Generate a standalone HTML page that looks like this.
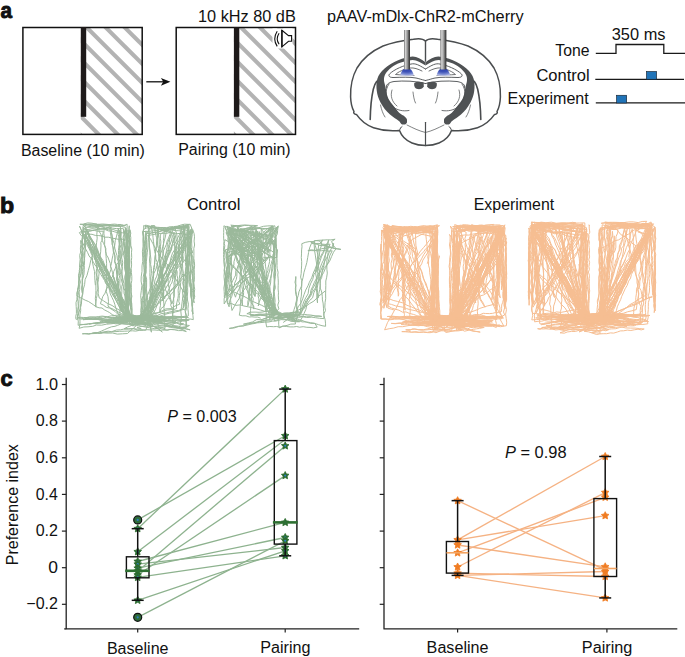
<!DOCTYPE html>
<html><head><meta charset="utf-8"><style>
html,body{margin:0;padding:0;background:#fff;}
body{width:685px;height:657px;overflow:hidden;}
svg{display:block;font-family:"Liberation Sans", sans-serif;}
text{fill:#111;}
</style></head><body>
<svg width="685" height="657" viewBox="0 0 685 657">
<clipPath id="c1"><rect x="80.8" y="27.5" width="61.39999999999999" height="106.9"/></clipPath>
<g clip-path="url(#c1)" stroke="#b3b3b3" stroke-width="4.1"><line x1="-73.7" y1="0" x2="126.3" y2="200"/><line x1="-54.7" y1="0" x2="145.3" y2="200"/><line x1="-35.7" y1="0" x2="164.3" y2="200"/><line x1="-16.7" y1="0" x2="183.3" y2="200"/><line x1="2.3" y1="0" x2="202.3" y2="200"/><line x1="21.3" y1="0" x2="221.3" y2="200"/><line x1="40.3" y1="0" x2="240.3" y2="200"/><line x1="59.3" y1="0" x2="259.3" y2="200"/><line x1="78.3" y1="0" x2="278.3" y2="200"/><line x1="97.3" y1="0" x2="297.3" y2="200"/><line x1="116.3" y1="0" x2="316.3" y2="200"/><line x1="135.3" y1="0" x2="335.3" y2="200"/><line x1="154.3" y1="0" x2="354.3" y2="200"/></g>
<rect x="22.9" y="27.5" width="119.29999999999998" height="106.9" fill="none" stroke="#111" stroke-width="1.5"/>
<rect x="80.8" y="27.0" width="5.4" height="89.8" fill="#1e1a1a"/>
<clipPath id="c2"><rect x="233.9" y="27.5" width="61.599999999999994" height="106.9"/></clipPath>
<g clip-path="url(#c2)" stroke="#b3b3b3" stroke-width="4.1"><line x1="80.60000000000001" y1="0" x2="280.6" y2="200"/><line x1="99.60000000000001" y1="0" x2="299.6" y2="200"/><line x1="118.60000000000001" y1="0" x2="318.6" y2="200"/><line x1="137.60000000000002" y1="0" x2="337.6" y2="200"/><line x1="156.60000000000002" y1="0" x2="356.6" y2="200"/><line x1="175.60000000000002" y1="0" x2="375.6" y2="200"/><line x1="194.60000000000002" y1="0" x2="394.6" y2="200"/><line x1="213.60000000000002" y1="0" x2="413.6" y2="200"/><line x1="232.60000000000002" y1="0" x2="432.6" y2="200"/><line x1="251.60000000000002" y1="0" x2="451.6" y2="200"/><line x1="270.6" y1="0" x2="470.6" y2="200"/><line x1="289.6" y1="0" x2="489.6" y2="200"/><line x1="308.6" y1="0" x2="508.6" y2="200"/></g>
<rect x="176.2" y="27.5" width="119.30000000000001" height="106.9" fill="none" stroke="#111" stroke-width="1.5"/>
<rect x="233.9" y="27.0" width="5.4" height="89.8" fill="#1e1a1a"/>
<line x1="146.3" y1="81.8" x2="164" y2="81.8" stroke="#111" stroke-width="1.3"/>
<path d="M170.4 81.8 L160.9 77.9 L163.2 81.8 L160.9 85.7 Z" fill="#111"/>
<rect x="272.5" y="28.5" width="20" height="20" fill="#fff"/>
<path d="M281.9 30.3 L288.5 35.6 L291.6 35.6 L291.6 41.3 L288.5 41.3 L281.9 46.9 Z" fill="#fff" stroke="#111" stroke-width="1.1" stroke-linejoin="miter"/>
<line x1="281.9" y1="30" x2="281.9" y2="47.3" stroke="#111" stroke-width="1.4"/>
<path d="M277.2 31.2 Q272.3 38.8 277.2 46.4" fill="none" stroke="#111" stroke-width="1.1"/>
<path d="M279.1 33.3 Q275.4 38.8 279.1 44.3" fill="none" stroke="#111" stroke-width="1.1"/>
<g id="bh" fill="none" stroke="#4a4d4f" stroke-linecap="round" stroke-linejoin="round"><path stroke-width="1.5" d="M425.5 41 C423 38.5 418 38.3 413.4 39.2 C402 40.5 392 42.5 383 46 C373 50.5 363 58 357 68 C352 77 350.3 87 350.6 97 C350.8 103 352 108 354 111.5 C353 113 354.5 114.5 356.4 114.4 C361 121 367 125.5 373.5 127.7 C382 130.5 390 131.5 399.5 130.5 C401.5 136 406 140.5 412 143 C416 144.7 421 145.5 425.5 145.6"/><path stroke-width="1.2" d="M425.5 41 L425.5 61"/><path fill="#4f5254" stroke="none" d="M425.5 62.3 C421 58.8 417 56.3 412.5 56.4 C404 57 392 61.5 384.3 68.8 C381 71.8 378.5 75 377.3 79 C376.3 83 376.2 87 376.8 91 C377.3 95 378.5 98.4 380.5 102.5 C383 107 386 111 390 114.6 C393 117 396 119 399.5 121.5 C401.5 124.5 406.5 125 407 121.5 C407.3 118.5 405 116.3 401.5 114.6 C398 112 396 109 394 106.4 C391.5 103 389.5 101 388.3 98.4 C387 95.5 386.5 93 386.3 91 C385.8 88 385 85 384.2 82 C383.8 80 383.9 77.8 384.6 75.8 C386.5 71.3 391.5 66.8 398 63.6 C403 61.4 408 60.2 412.5 59.9 C417 60.3 421 62.5 425.5 65.6 Z"/><circle cx="403.6" cy="121.2" r="3.4" fill="#4f5254" stroke="none"/><path stroke-width="1.6" d="M370.2 119.5 C370.4 110 370.8 100 373.3 89.2 C374 86 375.5 83 376.8 81.3"/><path stroke-width="0.7" d="M380.5 105 C381.5 110 383 114 385 117"/><path stroke-width="0.9" d="M425.5 69 C421 66.5 417 63.5 412.5 63.8 C404 65 394 69.5 389.5 74 C388 76 389.5 77.5 393 77.5 C401 77.3 410 76.8 416 78 C419 78.6 421 79.5 425.5 80.5"/><path stroke-width="0.8" d="M422 71 C418 69 414 67.5 410 68 C404 69 398 72 395.5 74.5 C400 75 408 74.8 414 75.5"/><path stroke-width="0.9" d="M425.5 83.5 C416 81 404 80.5 394 81.5 C388 82.5 385.5 85 386.5 88"/><path stroke-width="0.8" d="M389 84 C384.5 90 385 99 392 106 C397 110.5 403 111.5 409 110.5"/><path stroke-width="0.7" d="M392 90 C390 96 392 102 397 106"/><path stroke-width="0.7" d="M413 92 C413.5 96 414 100 415.5 103"/><path stroke-width="1.1" d="M425.5 122.5 L425.5 145"/><path stroke-width="1.0" d="M399.5 130.5 C400 128.5 401 127 402 126.5"/><path stroke-width="0.7" d="M407 125 C413 128 419 131 425.5 132.5"/><path fill="#4f5254" stroke="none" d="M414.2 83.2 C416 81.8 420.5 81.3 423.6 82.6 L423.8 86.3 C423.2 88.6 420.3 89.4 417.6 89.1 C415 88.7 413.8 86.3 414.2 83.2 Z"/></g>
<use href="#bh" transform="translate(851,0) scale(-1,1)"/>
<defs><linearGradient id="fg" x1="0" x2="1" y1="0" y2="0"><stop offset="0" stop-color="#6a6a6a"/><stop offset="0.22" stop-color="#d6d6d6"/><stop offset="0.55" stop-color="#9a9a9a"/><stop offset="0.85" stop-color="#4a4a4a"/><stop offset="1" stop-color="#363636"/></linearGradient><radialGradient id="bg" cx="0.5" cy="0" r="1.0" fx="0.5" fy="0"><stop offset="0" stop-color="#2a3eab"/><stop offset="0.45" stop-color="#3f53b8"/><stop offset="0.8" stop-color="#7f8fd4"/><stop offset="1" stop-color="#c5cbee"/></radialGradient></defs>
<path d="M404 68.8 L410 68.8 C412 70.3 413.3 72.8 413.8 75.4 C410 76 404 76 400.2 75.4 C400.7 72.8 402 70.3 404 68.8 Z" fill="url(#bg)"/>
<rect x="404" y="30" width="6" height="39.5" fill="url(#fg)"/>
<path d="M440.4 68.8 L446.4 68.8 C448.4 70.3 449.7 72.8 450.2 75.4 C446.4 76 440.4 76 436.59999999999997 75.4 C437.09999999999997 72.8 438.4 70.3 440.4 68.8 Z" fill="url(#bg)"/>
<rect x="440.4" y="30" width="6" height="39.5" fill="url(#fg)"/>
<path d="M595.8 53.4 L616 53.4 L616 44.5 L663.8 44.5 L663.8 53.4 L685 53.4" fill="none" stroke="#1a1a1a" stroke-width="1.3"/>
<line x1="595.3" y1="79.3" x2="684" y2="79.3" stroke="#1a1a1a" stroke-width="1.3"/>
<line x1="595.8" y1="102.9" x2="685" y2="102.9" stroke="#1a1a1a" stroke-width="1.3"/>
<rect x="646.5" y="71.6" width="10" height="7.7" fill="#2174b8" stroke="#1a2a3a" stroke-width="0.7"/>
<rect x="616.6" y="95.3" width="10" height="7.7" fill="#2174b8" stroke="#1a2a3a" stroke-width="0.7"/>
<path d="M66.2 377.8 L66.2 628.9 L359.2 628.9" fill="none" stroke="#222" stroke-width="1.3" stroke-linejoin="round"/>
<path d="M64.2 628.9 L66.2 628.9" fill="none" stroke="#222" stroke-width="1.3"/>
<line x1="61.900000000000006" y1="604.3" x2="66.2" y2="604.3" stroke="#222" stroke-width="1.2"/>
<line x1="61.900000000000006" y1="567.7" x2="66.2" y2="567.7" stroke="#222" stroke-width="1.2"/>
<line x1="61.900000000000006" y1="531.1" x2="66.2" y2="531.1" stroke="#222" stroke-width="1.2"/>
<line x1="61.900000000000006" y1="494.4" x2="66.2" y2="494.4" stroke="#222" stroke-width="1.2"/>
<line x1="61.900000000000006" y1="457.8" x2="66.2" y2="457.8" stroke="#222" stroke-width="1.2"/>
<line x1="61.900000000000006" y1="421.1" x2="66.2" y2="421.1" stroke="#222" stroke-width="1.2"/>
<line x1="61.900000000000006" y1="384.5" x2="66.2" y2="384.5" stroke="#222" stroke-width="1.2"/>
<line x1="359.1" y1="0" x2="359.1" y2="0"/>
<line x1="137.7" y1="519.9" x2="285.2" y2="435.8" stroke="#8db28e" stroke-width="1.3"/>
<line x1="137.7" y1="528.7" x2="285.2" y2="389.1" stroke="#8db28e" stroke-width="1.3"/>
<line x1="137.7" y1="551.8" x2="285.2" y2="439.5" stroke="#8db28e" stroke-width="1.3"/>
<line x1="137.7" y1="561.5" x2="285.2" y2="522.4" stroke="#8db28e" stroke-width="1.3"/>
<line x1="137.7" y1="564.2" x2="285.2" y2="547.5" stroke="#8db28e" stroke-width="1.3"/>
<line x1="137.7" y1="568.2" x2="285.2" y2="537.5" stroke="#8db28e" stroke-width="1.3"/>
<line x1="137.7" y1="571.2" x2="285.2" y2="445.9" stroke="#8db28e" stroke-width="1.3"/>
<line x1="137.7" y1="575.0" x2="285.2" y2="475.6" stroke="#8db28e" stroke-width="1.3"/>
<line x1="137.7" y1="577.4" x2="285.2" y2="555.8" stroke="#8db28e" stroke-width="1.3"/>
<line x1="137.7" y1="600.3" x2="285.2" y2="550.8" stroke="#8db28e" stroke-width="1.3"/>
<line x1="137.7" y1="617.3" x2="285.2" y2="540.8" stroke="#8db28e" stroke-width="1.3"/>
<polygon points="137.70,524.68 138.88,527.06 141.50,527.44 139.60,529.30 140.05,531.91 137.70,530.68 135.35,531.91 135.80,529.30 133.90,527.44 136.52,527.06" fill="#2b6b2d" stroke="#2b6b2d" stroke-width="0.8" stroke-linejoin="round"/><circle cx="137.7" cy="528.6784" r="1.1" fill="#2d7fc0"/>
<polygon points="137.70,547.76 138.88,550.14 141.50,550.53 139.60,552.38 140.05,555.00 137.70,553.76 135.35,555.00 135.80,552.38 133.90,550.53 136.52,550.14" fill="#2b6b2d" stroke="#2b6b2d" stroke-width="0.8" stroke-linejoin="round"/><circle cx="137.7" cy="551.7616" r="1.1" fill="#2d7fc0"/>
<polygon points="137.70,557.47 138.88,559.85 141.50,560.24 139.60,562.09 140.05,564.71 137.70,563.47 135.35,564.71 135.80,562.09 133.90,560.24 136.52,559.85" fill="#2b6b2d" stroke="#2b6b2d" stroke-width="0.8" stroke-linejoin="round"/><circle cx="137.7" cy="561.4712000000001" r="1.1" fill="#2d7fc0"/>
<polygon points="137.70,560.22 138.88,562.60 141.50,562.98 139.60,564.84 140.05,567.46 137.70,566.22 135.35,567.46 135.80,564.84 133.90,562.98 136.52,562.60" fill="#2b6b2d" stroke="#2b6b2d" stroke-width="0.8" stroke-linejoin="round"/><circle cx="137.7" cy="564.2192" r="1.1" fill="#2d7fc0"/>
<polygon points="137.70,564.25 138.88,566.63 141.50,567.01 139.60,568.87 140.05,571.49 137.70,570.25 135.35,571.49 135.80,568.87 133.90,567.01 136.52,566.63" fill="#2b6b2d" stroke="#2b6b2d" stroke-width="0.8" stroke-linejoin="round"/><circle cx="137.7" cy="568.2496000000001" r="1.1" fill="#2d7fc0"/>
<polygon points="137.70,567.18 138.88,569.56 141.50,569.94 139.60,571.80 140.05,574.42 137.70,573.18 135.35,574.42 135.80,571.80 133.90,569.94 136.52,569.56" fill="#2b6b2d" stroke="#2b6b2d" stroke-width="0.8" stroke-linejoin="round"/><circle cx="137.7" cy="571.1808000000001" r="1.1" fill="#2d7fc0"/>
<polygon points="137.70,571.03 138.88,573.41 141.50,573.79 139.60,575.65 140.05,578.26 137.70,577.03 135.35,578.26 135.80,575.65 133.90,573.79 136.52,573.41" fill="#2b6b2d" stroke="#2b6b2d" stroke-width="0.8" stroke-linejoin="round"/><circle cx="137.7" cy="575.028" r="1.1" fill="#2d7fc0"/>
<polygon points="137.70,573.41 138.88,575.79 141.50,576.17 139.60,578.03 140.05,580.65 137.70,579.41 135.35,580.65 135.80,578.03 133.90,576.17 136.52,575.79" fill="#2b6b2d" stroke="#2b6b2d" stroke-width="0.8" stroke-linejoin="round"/><circle cx="137.7" cy="577.4096000000001" r="1.1" fill="#2d7fc0"/>
<polygon points="137.70,596.31 138.88,598.69 141.50,599.07 139.60,600.93 140.05,603.55 137.70,602.31 135.35,603.55 135.80,600.93 133.90,599.07 136.52,598.69" fill="#2b6b2d" stroke="#2b6b2d" stroke-width="0.8" stroke-linejoin="round"/><circle cx="137.7" cy="600.3096" r="1.1" fill="#2d7fc0"/>
<polygon points="285.20,385.08 286.38,387.46 289.00,387.84 287.10,389.70 287.55,392.32 285.20,391.08 282.85,392.32 283.30,389.70 281.40,387.84 284.02,387.46" fill="#2b6b2d" stroke="#2b6b2d" stroke-width="0.8" stroke-linejoin="round"/><circle cx="285.2" cy="389.08000000000004" r="1.1" fill="#2d7fc0"/>
<polygon points="285.20,431.80 286.38,434.18 289.00,434.56 287.10,436.41 287.55,439.03 285.20,437.80 282.85,439.03 283.30,436.41 281.40,434.56 284.02,434.18" fill="#2b6b2d" stroke="#2b6b2d" stroke-width="0.8" stroke-linejoin="round"/><circle cx="285.2" cy="435.79600000000005" r="1.1" fill="#2d7fc0"/>
<polygon points="285.20,441.87 286.38,444.25 289.00,444.64 287.10,446.49 287.55,449.11 285.20,447.87 282.85,449.11 283.30,446.49 281.40,444.64 284.02,444.25" fill="#2b6b2d" stroke="#2b6b2d" stroke-width="0.8" stroke-linejoin="round"/><circle cx="285.2" cy="445.87200000000007" r="1.1" fill="#2d7fc0"/>
<polygon points="285.20,471.55 286.38,473.93 289.00,474.31 287.10,476.17 287.55,478.79 285.20,477.55 282.85,478.79 283.30,476.17 281.40,474.31 284.02,473.93" fill="#2b6b2d" stroke="#2b6b2d" stroke-width="0.8" stroke-linejoin="round"/><circle cx="285.2" cy="475.5504000000001" r="1.1" fill="#2d7fc0"/>
<polygon points="285.20,518.45 286.38,520.83 289.00,521.21 287.10,523.07 287.55,525.69 285.20,524.45 282.85,525.69 283.30,523.07 281.40,521.21 284.02,520.83" fill="#2b6b2d" stroke="#2b6b2d" stroke-width="0.8" stroke-linejoin="round"/><circle cx="285.2" cy="522.4496" r="1.1" fill="#2d7fc0"/>
<polygon points="285.20,533.47 286.38,535.85 289.00,536.24 287.10,538.09 287.55,540.71 285.20,539.47 282.85,540.71 283.30,538.09 281.40,536.24 284.02,535.85" fill="#2b6b2d" stroke="#2b6b2d" stroke-width="0.8" stroke-linejoin="round"/><circle cx="285.2" cy="537.4720000000001" r="1.1" fill="#2d7fc0"/>
<polygon points="285.20,536.77 286.38,539.15 289.00,539.53 287.10,541.39 287.55,544.01 285.20,542.77 282.85,544.01 283.30,541.39 281.40,539.53 284.02,539.15" fill="#2b6b2d" stroke="#2b6b2d" stroke-width="0.8" stroke-linejoin="round"/><circle cx="285.2" cy="540.7696000000001" r="1.1" fill="#2d7fc0"/>
<polygon points="285.20,543.55 286.38,545.93 289.00,546.31 287.10,548.17 287.55,550.78 285.20,549.55 282.85,550.78 283.30,548.17 281.40,546.31 284.02,545.93" fill="#2b6b2d" stroke="#2b6b2d" stroke-width="0.8" stroke-linejoin="round"/><circle cx="285.2" cy="547.548" r="1.1" fill="#2d7fc0"/>
<polygon points="285.20,546.85 286.38,549.23 289.00,549.61 287.10,551.46 287.55,554.08 285.20,552.85 282.85,554.08 283.30,551.46 281.40,549.61 284.02,549.23" fill="#2b6b2d" stroke="#2b6b2d" stroke-width="0.8" stroke-linejoin="round"/><circle cx="285.2" cy="550.8456000000001" r="1.1" fill="#2d7fc0"/>
<polygon points="285.20,551.79 286.38,554.17 289.00,554.56 287.10,556.41 287.55,559.03 285.20,557.79 282.85,559.03 283.30,556.41 281.40,554.56 284.02,554.17" fill="#2b6b2d" stroke="#2b6b2d" stroke-width="0.8" stroke-linejoin="round"/><circle cx="285.2" cy="555.792" r="1.1" fill="#2d7fc0"/>
<circle cx="137.7" cy="519.9" r="4" fill="#2e6b3a" stroke="#111" stroke-width="1.2"/><circle cx="137.7" cy="519.9" r="1.1" fill="#2d7fc0"/>
<circle cx="137.7" cy="617.3" r="4" fill="#2e6b3a" stroke="#111" stroke-width="1.2"/><circle cx="137.7" cy="617.3" r="1.1" fill="#2d7fc0"/>
<line x1="137.7" y1="528.6784" x2="137.7" y2="556.8" stroke="#111" stroke-width="1.5"/>
<line x1="137.7" y1="577.8" x2="137.7" y2="600.3096" stroke="#111" stroke-width="1.5"/>
<line x1="131.7" y1="528.6784" x2="143.7" y2="528.6784" stroke="#111" stroke-width="1.5"/>
<line x1="131.7" y1="600.3096" x2="143.7" y2="600.3096" stroke="#111" stroke-width="1.5"/>
<rect x="126.4" y="556.8" width="22.6" height="21" fill="none" stroke="#111" stroke-width="1.4"/>
<line x1="285.2" y1="389.08000000000004" x2="285.2" y2="440.6" stroke="#111" stroke-width="1.5"/>
<line x1="285.2" y1="544.1" x2="285.2" y2="555.792" stroke="#111" stroke-width="1.5"/>
<line x1="279.2" y1="389.08000000000004" x2="291.2" y2="389.08000000000004" stroke="#111" stroke-width="1.5"/>
<line x1="279.2" y1="555.792" x2="291.2" y2="555.792" stroke="#111" stroke-width="1.5"/>
<rect x="274.3" y="440.6" width="22.6" height="103.5" fill="none" stroke="#111" stroke-width="1.4"/>
<line x1="125.2" y1="570.8" x2="149.6" y2="570.8" stroke="#2e7032" stroke-width="2.6"/>
<line x1="272.9" y1="522.4" x2="297.7" y2="522.4" stroke="#2e7032" stroke-width="2.6"/>
<line x1="137.7" y1="628.9" x2="137.7" y2="632.5" stroke="#222" stroke-width="1.2"/>
<line x1="285.2" y1="628.9" x2="285.2" y2="632.5" stroke="#222" stroke-width="1.2"/>
<path d="M384.0 377.8 L384.0 628.9 L677.3 628.9" fill="none" stroke="#222" stroke-width="1.3" stroke-linejoin="round"/>
<line x1="379.7" y1="604.3" x2="384.0" y2="604.3" stroke="#222" stroke-width="1.2"/>
<line x1="379.7" y1="567.7" x2="384.0" y2="567.7" stroke="#222" stroke-width="1.2"/>
<line x1="379.7" y1="531.1" x2="384.0" y2="531.1" stroke="#222" stroke-width="1.2"/>
<line x1="379.7" y1="494.4" x2="384.0" y2="494.4" stroke="#222" stroke-width="1.2"/>
<line x1="379.7" y1="457.8" x2="384.0" y2="457.8" stroke="#222" stroke-width="1.2"/>
<line x1="379.7" y1="421.1" x2="384.0" y2="421.1" stroke="#222" stroke-width="1.2"/>
<line x1="379.7" y1="384.5" x2="384.0" y2="384.5" stroke="#222" stroke-width="1.2"/>
<line x1="457.6" y1="500.6" x2="605.2" y2="569.9" stroke="#f5b283" stroke-width="1.35"/>
<line x1="457.6" y1="539.9" x2="605.2" y2="456.5" stroke="#f5b283" stroke-width="1.35"/>
<line x1="457.6" y1="539.9" x2="605.2" y2="515.7" stroke="#f5b283" stroke-width="1.35"/>
<line x1="457.6" y1="545.0" x2="605.2" y2="566.8" stroke="#f5b283" stroke-width="1.35"/>
<line x1="457.6" y1="552.9" x2="605.2" y2="497.4" stroke="#f5b283" stroke-width="1.35"/>
<line x1="457.6" y1="567.0" x2="605.2" y2="492.6" stroke="#f5b283" stroke-width="1.35"/>
<line x1="457.6" y1="573.2" x2="605.2" y2="576.5" stroke="#f5b283" stroke-width="1.35"/>
<line x1="457.6" y1="575.4" x2="605.2" y2="571.5" stroke="#f5b283" stroke-width="1.35"/>
<line x1="457.6" y1="575.4" x2="605.2" y2="597.9" stroke="#f5b283" stroke-width="1.35"/>
<polygon points="457.60,496.65 458.78,499.03 461.40,499.41 459.50,501.27 459.95,503.88 457.60,502.65 455.25,503.88 455.70,501.27 453.80,499.41 456.42,499.03" fill="#f07c22" stroke="#f07c22" stroke-width="0.8" stroke-linejoin="round"/>
<polygon points="457.60,535.85 458.78,538.24 461.40,538.62 459.50,540.47 459.95,543.09 457.60,541.85 455.25,543.09 455.70,540.47 453.80,538.62 456.42,538.24" fill="#f07c22" stroke="#f07c22" stroke-width="0.8" stroke-linejoin="round"/>
<polygon points="457.60,540.98 458.78,543.37 461.40,543.75 459.50,545.60 459.95,548.22 457.60,546.98 455.25,548.22 455.70,545.60 453.80,543.75 456.42,543.37" fill="#f07c22" stroke="#f07c22" stroke-width="0.8" stroke-linejoin="round"/>
<polygon points="457.60,548.86 458.78,551.24 461.40,551.62 459.50,553.48 459.95,556.10 457.60,554.86 455.25,556.10 455.70,553.48 453.80,551.62 456.42,551.24" fill="#f07c22" stroke="#f07c22" stroke-width="0.8" stroke-linejoin="round"/>
<polygon points="457.60,562.97 458.78,565.35 461.40,565.73 459.50,567.59 459.95,570.20 457.60,568.97 455.25,570.20 455.70,567.59 453.80,565.73 456.42,565.35" fill="#f07c22" stroke="#f07c22" stroke-width="0.8" stroke-linejoin="round"/>
<polygon points="457.60,569.20 458.78,571.58 461.40,571.96 459.50,573.81 459.95,576.43 457.60,575.20 455.25,576.43 455.70,573.81 453.80,571.96 456.42,571.58" fill="#f07c22" stroke="#f07c22" stroke-width="0.8" stroke-linejoin="round"/>
<polygon points="457.60,571.39 458.78,573.78 461.40,574.16 459.50,576.01 459.95,578.63 457.60,577.39 455.25,578.63 455.70,576.01 453.80,574.16 456.42,573.78" fill="#f07c22" stroke="#f07c22" stroke-width="0.8" stroke-linejoin="round"/>
<polygon points="605.20,452.50 606.38,454.88 609.00,455.26 607.10,457.12 607.55,459.73 605.20,458.50 602.85,459.73 603.30,457.12 601.40,455.26 604.02,454.88" fill="#f07c22" stroke="#f07c22" stroke-width="0.8" stroke-linejoin="round"/>
<polygon points="605.20,488.59 606.38,490.97 609.00,491.35 607.10,493.21 607.55,495.82 605.20,494.59 602.85,495.82 603.30,493.21 601.40,491.35 604.02,490.97" fill="#f07c22" stroke="#f07c22" stroke-width="0.8" stroke-linejoin="round"/>
<polygon points="605.20,493.35 606.38,495.73 609.00,496.12 607.10,497.97 607.55,500.59 605.20,499.35 602.85,500.59 603.30,497.97 601.40,496.12 604.02,495.73" fill="#f07c22" stroke="#f07c22" stroke-width="0.8" stroke-linejoin="round"/>
<polygon points="605.20,511.67 606.38,514.05 609.00,514.44 607.10,516.29 607.55,518.91 605.20,517.67 602.85,518.91 603.30,516.29 601.40,514.44 604.02,514.05" fill="#f07c22" stroke="#f07c22" stroke-width="0.8" stroke-linejoin="round"/>
<polygon points="605.20,562.78 606.38,565.17 609.00,565.55 607.10,567.40 607.55,570.02 605.20,568.78 602.85,570.02 603.30,567.40 601.40,565.55 604.02,565.17" fill="#f07c22" stroke="#f07c22" stroke-width="0.8" stroke-linejoin="round"/>
<polygon points="605.20,565.17 606.38,567.55 609.00,567.93 607.10,569.78 607.55,572.40 605.20,571.17 602.85,572.40 603.30,569.78 601.40,567.93 604.02,567.55" fill="#f07c22" stroke="#f07c22" stroke-width="0.8" stroke-linejoin="round"/>
<polygon points="605.20,567.55 606.38,569.93 609.00,570.31 607.10,572.17 607.55,574.78 605.20,573.55 602.85,574.78 603.30,572.17 601.40,570.31 604.02,569.93" fill="#f07c22" stroke="#f07c22" stroke-width="0.8" stroke-linejoin="round"/>
<polygon points="605.20,572.49 606.38,574.88 609.00,575.26 607.10,577.11 607.55,579.73 605.20,578.49 602.85,579.73 603.30,577.11 601.40,575.26 604.02,574.88" fill="#f07c22" stroke="#f07c22" stroke-width="0.8" stroke-linejoin="round"/>
<polygon points="605.20,593.93 606.38,596.31 609.00,596.69 607.10,598.55 607.55,601.16 605.20,599.93 602.85,601.16 603.30,598.55 601.40,596.69 604.02,596.31" fill="#f07c22" stroke="#f07c22" stroke-width="0.8" stroke-linejoin="round"/>
<line x1="457.6" y1="500.64880000000005" x2="457.6" y2="541.5" stroke="#111" stroke-width="1.5"/>
<line x1="457.6" y1="573.1" x2="457.6" y2="575.3944" stroke="#111" stroke-width="1.5"/>
<line x1="451.6" y1="500.64880000000005" x2="463.6" y2="500.64880000000005" stroke="#111" stroke-width="1.5"/>
<line x1="451.6" y1="575.3944" x2="463.6" y2="575.3944" stroke="#111" stroke-width="1.5"/>
<rect x="446.4" y="541.5" width="22.1" height="31.6" fill="none" stroke="#111" stroke-width="1.4"/>
<line x1="446.4" y1="552.8" x2="468.5" y2="552.8" stroke="#f4a462" stroke-width="1.6"/>
<line x1="605.2" y1="456.49760000000003" x2="605.2" y2="498.6" stroke="#111" stroke-width="1.5"/>
<line x1="605.2" y1="576.5" x2="605.2" y2="597.928" stroke="#111" stroke-width="1.5"/>
<line x1="599.2" y1="456.49760000000003" x2="611.2" y2="456.49760000000003" stroke="#111" stroke-width="1.5"/>
<line x1="599.2" y1="597.928" x2="611.2" y2="597.928" stroke="#111" stroke-width="1.5"/>
<rect x="593.9" y="498.6" width="22.7" height="77.9" fill="none" stroke="#111" stroke-width="1.4"/>
<line x1="593.9" y1="568.5" x2="616.6" y2="568.5" stroke="#f4a462" stroke-width="1.6"/>
<line x1="457.6" y1="628.9" x2="457.6" y2="632.5" stroke="#222" stroke-width="1.2"/>
<line x1="606.9" y1="628.9" x2="606.9" y2="632.5" stroke="#222" stroke-width="1.2"/>
<path d="M100.1 321.5l4.2-1.1 4.1-.6 4.1-.9 3.7-1.1 3.3-.6 4.6-.3 4.3-1.7-1.7-3.7-1.8-3.5-1.9-3.8-1.9-3.4-1.6-4.5-1.5-3.4-1.9-3.4-1.5-3.3-1.9-4.4-1.8-3.3-2.4-4.4-1.5-3.3-2.2-3.6-1.4-3.5-2.2-3.8-2.5-3.7-.9-3-2.9-4.9-1.5-3.5-1.6-3.2-1.6-3.3-2.4-3.9-1.1-4.2-3.5-2.9 .2 3.3-.5 2.6-.5 4.3-.7 3.3 .2 3.8-.5 2.9-.8 2.9 1.1 3-.3 2.7-.4 4.2 .1 3.4-.6 3.4-1.2 3.2 .1 3.3-.4 3.2-.1 3.5-.4 3.1 .3 3.2-.9 2.8-1.1 3.6 .4 4.3-.3 2.4-.9 3 .2 3.8 .2 3.4 0 3.8-.7 2.9 .3 2.7 3.2-.6 3.1 .5 3.4-.3 4.1 .4 2.8-1.3 4.3 .7 2.3-.6 3.7 .4 3.8-1.5 3.4 .7 2.7-.2 3.7-.1 3.6-.2 3.8-.6 3.4-.5 3.1 0 3.7-.4 2.6 .1 3.8 0 3.9-.1 2.9-1 .3-1.9 1.5-4 1.1-2.6 .6-4 .7-3.1 1.1-2.9 1-3.3 1.6-3.7 1.1-3 .3-3.1 1.2-3.9 .8-2.8 .8-3.4 .9-3.1 1.5-3.3 .9-3 1.3-3.7 .4-2.7 1.5-3.7 .6-3.1 .6-3.1 .3-3.1 1.2-4.2 1.9-2.4 1-3.4 1.1-3.4 1-3 4.2 .1 5.6-.6 4 .2-2.2-.2-3.5 .6-2.3-.3-3.8 .2-3.7-.3-2.3-.2-2.7 .9-3.4-.7-3.2 0-2.7-.2-3.5-.4-3.3-.5 1.1 3.3 .9 4.1 .2 3.6 .4 3.8 .4 2.8 .4 4.2 .4 3.4 1.1 3.2 .1 4.2 1.4 3.1 .8 4.1-.4 3.2-.1 3.5 1.5 3.3 .3 3.7 .9 3.5-.4 3.8 .9 3.9 1.1 2.6 .6 3.9 0 3.3 .6-3.6 .2-4.3-.6-4-.4-4.2-.1-2.9 .3-4.5 .3-4.1-1.3-4.5-.3-3.4-.6-3.2-.5-3.6 .7-4.9 0-3.9-.2-3.6 .4-4.2-.5-3.2-.1-4.2 3.6-2.8 5.1-1.5 3.3-3.4-1.4 3.7-1 3.7-1.3 3.8-1.4 2.7-.8 3.5-1.5 3.4-1.5 3.3-.1 4.4-2 4-.5 3.3-1 3.2-1.4 3.5-.9 3.6-.7 3.1-1.8 3.8-.7 4.2-1.2 2.7-.7 3.8-1 3.4-1.2 4-1.8 3.1-.7 3.1-.6 4.1-1.5 3.1-1 4-3.9 0-3.3 .7-3.9 .3-3.2 .5-3.3 .1-2.3-3.6-.9-3.4-1.1-3.9-.7-3-1.2-3.9-1.4-3.2-.7-4.1-1.6-3.1-1.2-3.9-1.5-3.4-.5-3.9-1.1-2.5 .7 2.9 2.2 4.8 1.2 3.9 1.3 4 2.2 4 1.3 3.7 2 4.3 1.6 3.6 .7 4.2 1.4 4.2 3.9 1 4.8 1.7 3.2 .6 4.5 .8 2.3-3.4 3.5-2.6 2.5-3.3 3.7-3.1 2.5-2.3 3.8-4 2.1-3.2 3.5-2.7 2.6-3.1 2.3-2.9 3.7-3.2 2.2-3.4 2.7-3.7 3.1-3.5 3.3-2.4-2.7 2.6-1.8 3.6-1.9 2.4-2.3 1.8-2.2 3.7-2 2.7-1.4 3.1-2.5 2.7-1.6 2.8-2.6 2.4-1.2 2.8-1.3 3.6-3 2.3-1.3 3.4 0-3.5 .7-3 .1-3.7-.3-2.9 .9-3.7-.3-3.8 .6-2.1-.1-3.6 .3-3.6-.2-2.2 .6-3.8-.5-3.2 .5-3.5 1.2-2.8-.1-3.5 .1-3.1-.6-3 .1-3.6 .1-4.2 .4-2.5 .2-2.7-.1-3.3 .4-3.5 .2-3.3 .5-3.4 3.9-2.8-2.1 4.2-1 5.2-1.2 4.7-1.2 4.4-.9 4.1-2.2 4.8-1.2 4.9-1.3 4.2-1.3 4.9-2.1 4.5-.6 4.5-1.2 4.2-1.7 5.7-1.5 4.1-1.6 3.7-1.2 5-.8 5.8 0 4-2.1 4.4 .5-3.7 .5-3.1 .1-4.2 0-3-.1-3.7 .2-3.8-.1-3.2 .2-2.9 .3-4.4 .5-3.8-.1-3.8-.6-2.5 .7-4.3-.1-2.8-.1-3.6 .1-3.3 .9-4.1-.9-4 1.7-2.8-1.5-3.6 0-3.5 0-3.8 1.2-3.5 3-4.1 1.4-3.7 3.6-.2 .4 4.2 .3 2.9 1.3 5.2 .7 2.7 .4 4.6 .8 3.5 .1 3.8 .1 4 .6 3.5 .4 4.2 .8 4-.1 3.7 .8 4.3 1 4.3-.5 3.2 .5 4.2 1.6 3.9-.2 3.5 1 3.6 .5-1.9 1.8-3.4 1.2-2.6 1.2-2.6 1.1-3.5 1.3-1.6 1.1-3.7 .5-3.4 1.9-2.1 .6-2.5 1.5-4.4 .9-1.4 2.1-3.6 1.2-2.4 .6-2.3 .9-3.9 .9-2.3 2.1-3.5 .7-2.6 1.2-2.8 1-2.9 .7-2.8 1.9-2.6 .6-3.3-1 4.4 .2 4.8-1.3 4.4-.6 4.7 .9 4.8-.6 4.1-.8 4.7-1.2 3.8-1 4.8 .2 5 .4 3.6-.9 5-1 4.1-.5 5.6-.4 4-.5 4.4-.8 4.8 .4-5.3-.8-3.8 1.6-5.3-.7-5-.9-5.1 .8-4.4-.1-5.2-.8-4.7-.2-5.7 .9-4.7-.8-4.9 .8-3.8 0-5.3 .5-4.6-.1-6-.3-4.7-.3-4.5 .9 3.5 .2 4.5 .7 3.9 .2 3.8 .3 4.3 .5 3.7-.1 3.8 .5 4.7 1.1 3.3 0 4.3 .5 3.3 .4 4.8 1.1 3.5-.5 5.3 .5 3 1 3.4 .3 4.4 .7 4.1 .1 4-.6-4.2-.1-3.7 .3-4.3-.3-4.4-.6-4.2 .4-3.9 .8-3.5-.5-4-.1-4.7 .1-2.9 .5-4.5-.6-4.2 1-4.2-.2-3.6-.1-4.9 .7-4.7 .4-4.8 1.4 4.1 .4 3.1-.4 4.3 .5 3.9-.8 3.6 .1 3.3 0 3.6-.1 2.8 .5 3.3 .3 3.8-.4 4-.1 3.4 .1 2.8 .2 4.1-.6 3.1 .4 3.4 .5 3.1-.4 3-.3 1.8 .8 2.1-.5 1.2-.4 1.6 .2-3.2-.1-3.4-.6-2.5-.4-4.1 .1-2.8-.4-2.4-.3-3.7 .2-3.2-.5-3.1 1-2.4-.9-3.9 .1-3.1-.3-3.1-.7-2.3 .8-3.8-1-3-1-2.3 1.8 3.3 .7 3.1" fill="none" stroke="#9bb99b" stroke-width="1.0" stroke-linejoin="round"/>
<path d="M165.2 255.8l.6 3.1-.4 4 .4 3.3 .7 2.8-.1 4.4 .8 2.9 .7 2.2 .4 4 .2 3.4 .8 2.3-.1 3.5 .9 3.4 .3 2.9 1 3.6-.7 3.7 1.3 2.7 .6 2.7 .2 3.7 .1 3.7 4.3 .7 4.8 .6 4.8 1-3.8-.5-4 .3-2.8-1.6-3.5 .2-4.6-.5-2.4 .6-3.9 .5-3.9-1.3-4.1 .4-4 .3-2.7-.4-3.8-.5-3.6-1-3.7 .2-4 .3-4.4-.2-3.9 1.3-3.6 .1 4.6-.3 4.4-.5 5.9-.4 4.4-1 1.6 3.4-3.1 1.9-2.5 1.2-2.5 3.2-.5-5.4-3.4-3.4-2.3-3.2-2-4.7-2.8-4.4-2.1-2.9-2-5.2-2.1-3.6-3.1-4.4-2-4.2-1.6-3.9-2.5-4-2.5-3.9-1.7-3.9-3-5-1.7-3.7-2.4-4.2-1.8-4-3.1-3.9-2.3-3.4-1.7-4.1-2.7-4.7-2.3-3.5 4.9-.9 3.5-.3 4.8-1.3 4-.9 3.9-.3 3.7-.5 4.6-2.1 3.8-.4 4.4-.4-3.2 .6-3.9-.6-4.2-.5-3.8 .2-4.1 .2-3.3-1.3-4.5 .1-4 .1-4.3 .3-3.7-.2 4.3-.1 3.3 .5 3.3 .8 3.9 .3 4.1-.1 3.2 1.3 3.5 .9 3.8-.7 3.1 .9 3.9 .5 3.4-.1 3.7 .2 .6 4.8 .2 4.2-.9 3.5 1.4 4.1 1.1 3.8-.2 4.2 .2 3.5 .2 4.3 .5 4.7 .3 3.2 .6 4.3 0 3.9 .6 3.8 .7 4.4 .1 3 .4 4.4 .3 4.1 .3 4.2 .6 4.8 .6 3.5-.9-4.5-.1-3.2-.8-3.5 0-3.6 .4-4-.9-3.3 .1-4.3-.6-3.6 0-2.9-.3-3.9-.1-3.9-.2-3.2-.2-3.9-.2-4 .7-3.5-.8-3.9-.7-3.7 .5-3.3-.3-3.8-.5-3.3-.4-3.8 0-4.1 .4 4.3 .2 5 .4 4.6-.9 5.5 .8 3.6-.4 5.3-.2 3.9 0 4.3 .4 4.7-.1 4.7-.6 4.3 .3 4.8 .2 4.1 0 4.3-.3 5 .3 4.3 0 4.5-.4 5.1 .4 3.4-.7 5.3 3.9-.4 5 .3 2.9 1 3.6-.8 4.1 .5 3.6-.9 3.9 1 3.3-.1 3.1-.5 4.2 .2 4.2-.4 4.1 .9 3.1-.3 4.3 .4 3.1-.2 3.7 0 3.6 .1-3 1-4 .1-3.7 1-3 .5-4.1 0-3.4 .4-2.7 .4-4.4-.2-3.4 .1-3-.9-4 1-2.9 .2 0-4.1-.1-3.2 .6-3.3 .8-4.1-.3-2.1 1.1-4.1-.4-4.2 1-3.1-.1-3.4 1.7-3.5-1-4.1 1.1-2.5 .3-3.4 1.1-3.6 .2-4.4 0-3.1 .9-3 .5-4 .1-3.4 .4-3.4 .3-4.3 1.2-2.6 0-3.8 .1-3.1 1-3.7-.4-3.5 .5-3.6 .2 4.5 .7 5.2 .2 5.9 .4 4.4-.5 4.8 .3 4.4 .4 5.6 .8 4.8 .4 5.3 1.4 5.2 .6 5.1 .3 4.4 0 3.7 0 6.5 .4 4.3 .2 5.2 .3 4.7 .8 4.8-.5 4.8 .4 6.1-3.2-1.2-4.1-1.1-3.5-.2-4 .4-2.9-1.7-4.7-1-3-.7-3.1-.5-3.4-.4-4-.9-2.7-1.6-1.2-2.7 1-4.4-.3-3.8 0-3.1 .4-2.9-.2-4.5 .2-3.3-.4-3.1-.7-4.7-.1-2.8 0-3.8-.2-3.7 .8-3.7-.7-3.1 .5-4.1-.5-3.4 .2-3.6 .1-3.8-.3-3.5-.5-4.6-.2-2.2 0-3.7 1-4.2-1-3.2 .8-4 .4-2.5-4.1-.9-3.6-.1-3.5-.3-2.8-.4-4.2-.1-3.2-.3-3.9 .3-3.4 .1-3.1-.1-3.8-1-3.2-.1 2.7 .3 3.8 .1 2.8-.2 2.6-.3 3.3 .6 3.7-.2 3.2 .1 2.9-.6 2.9-.2 3 .4 3.8 0 2.6 .9 3.1-1.2 0 3.9-.2 3.1-.3 2.8 .4 3.3 .5 3.3-.5 2.9-.9 3.2 .7 3.6 .1 2.9-.4 3.5 .2 3.3 .4 3.2-.3 3.1 0 2.6 .1 3.3 .5 3.4-.4 2.9 .5 3.5-1.3 3.8 .8 2.7 0 3.8 .3 2.9 0 2.5-.8 4 .3 3.4 .9 3-.5 3.4 .3 2.7 0 3.4-.4 3.2 3.3-.3 2.7-.3 2.9-1.3 3.6-.6 2.9-.1 2.5-2.1 2.1-2.4 2.2-2.2 2.8-1.8 2.2-2.4 2.9-2.8 1.2-1.8 2.8-2.2 2.1-2.7 2.5-1.6 2.7-2.4 1.5-1.6 2.5-2.7 3.5-2.2 1.8-2.7-.4-2.3 .3-4.1-.7-3 .2-3.5-1.3-3.4 .2-2.6-.2-4.4 .3-2.6-.1-3.6 .2-2.9-1-3.8-.4-3.2-1.2-3.3 .6-2.9-.6-3.8 .4-2.8-1.6 3.8-1.2 4.8-1.7 4.9-.9 3.9-1.2 4.2-1.6 4.3-1.3 5.5-1.4 4.8-.6 3.8-1 4.8-.4 4.7-1.9 4.9-1.8 4-1.2 4.3-.9 5.3-1.6 3.7-1.3 4.5-1.4 5.4-.7 4.3-4.7-.4-5.1 .8-4.3-.5-4-.9-4.6-2.3-3.4-2.2-4.7-2.5-3.8-2.3-3.7-2.5-4.9-2.2-3.7-2.5-4.2-2.7-1.1-4.3 .1-4.4-.6-5.3-.2-4-.7-5.1 .3-3.9 .5-4.6-2-5.2-.3-4.2-.3-4.7-.9-5.1-.7 4.9-1.6 4.7-1.2 4.1-.8 4.1-1.5 5.4-1.3 4.8-1.9 4.3-.5 5-1.2 4.3-.6 5.2-1.6 4.8-.5 4.8-.7 5.1-1.1 4-1.4 4.7 3.4 .5 3.3 .9 3.9-.9 3.9 1 4 .3 3.4 .4 4.2 .3 3.2 .5 3.3 0 4.2-.1 3.4 .5 3.8-.1 3.9-.5 4.1-1.7 5.4-.4 3.8-1.6 4.6-1.4 1.4-3.3 3-3.9 1.7-2.6 2-5.3 2.6-3.7 3.2-3.8 2.1-3.3 1.7-4.3 2.1-3.8 2.4-4.1 2.6-3.7 1.6-3.9 2.2-4.1 1.6-3.5 3-4.1 2-3.6 1.4-4.9 2.5-3.2 2.1-4.6 1.8-3.3 3.1-4.7 1.4-3.8-2.8 4.5-1.7 4.1-1.8 4.8-2.3 5.2-1.6 4-1.9 4-2.1 4.7-2.4 4.5-2.2 4-3 3.8-2.1 5.2-1.4 4.5-1.6 4.6-3 4-1.7 5-2 3.7-2 5.1-1.9 4.5-1.9 3.9-3 5.6-3.9-.2-4.5 .3-5.3 .4-3.5-3.3" fill="none" stroke="#9bb99b" stroke-width="1.0" stroke-linejoin="round"/>
<path d="M80.2 325l4.8-.8 3.1-.3 4.4-.4 5.6-.7 3.9 .2 4-.5 4.9-1.6 3.6 .1 4.5-.6 4.4-1 4.2-.2 3.9 0 4.6-.7 4.3-.3 2.1-4.3 2.3-3.8 2.4-4.1 2.1-3.7 2-4 2.1-3.8 2.1-4.2 2.4-2.6 2.2-4.5 2.7-3.1 1.3-4.1 2.2-3.9 2.3-3.7 1.7-4.3 2.3-3 1.9-4.5 2.6-3.5 2.5-3.5 2.3-3.7 2.9-2.9 2-4.4 1.2-3.9 2.7-4.5 .2 4.3-.5 3.6 .5 4.1-1.2 3.7 .7 3-.6 3.5-.7 3 0 4.2-.4 3.2-.5 3.3 0 4-.7 3.9-.4 3.2 .2 3.9-.3 2.8-1.4 3.5-.2 4.4 .6 3-.9 3.6 .4 3.8-.5 3.6 .7 3.2-3.8 .8-3 1.4-3.3 .7-2.6 .8-3.7 .5-3.4 .9-3.5 1.3-2.8 .8-3.9 .4-2.5 1.2-3.3 .5-3.2 1.7-3.1-1.5-3.3 1.3-3.5-.6-3.8-.6-3.4-.7-3.1 .4-2.9-2-2.9-1.6-3-.6-2.7-2.7-3-1.9-2.5-1.4-3.2-.8-3-2.2-2.9-1.4 1-3 1.4-4.2 2.3-3.4 1.2-3.9 1.8-2.9 1.5-3.8 .8-3.4 2.6-3.1 .7-4.5 1.4-2.8 1.7-4.4 2.2-2.9 2-3.3 1.3-3.5 1.9-3.6 1.4-3.5 1.3-3.4 1.7-3.5-3.2-.6-3.5-.9-3.2 .3-3.3-.7-3.4-.6-3.6-.9-3.5 0-3.1-1.2-3.5-.5-3-.1-3.3-1.1-4-.2-2.4-.5 1.6 3.8 1.7 3.6 2.8 4.4 1.4 4 1.8 3.2 2.9 4.2 2 3.8 2.8 3.4 1.7 4.4 1.7 3.4 1.9 3.6 1.4 4.1 2.7 3.9 2.3 4.7 2 3.8 1.6 3.5 1.7 3.8 1.8 4.5 2.6 3.3 2.1 4.2 1.6 4 3.1 2.9 1.4 5 4-1.5 3.8-1.1 1.4-3.9 1.8-3.4 2.4-3.9 3.1-2.9 .5-3.3 1.9-4.3 1.8-2.1 1.6-3.5 2.5-3.6 2-4 1.4-3.8 2.2-3.2 1.1-4.1 2.8-2.8 1.3-3.7 2.3-3.5 2-3.3 2.2-3.1 1.3-4.5 2.4-2.5 .9-4.8 2.2-3 1.8-3.1 1.7-3.9 2.1-3.7 1.5-3.7-3.4-.3 0 2.7 .1 3.6-1.2 3.3-.6 3.1-.1 3.7 .3 2.8-.7 3.3-.3 2.7 .2 3.2 .2 4-.4 2.4-.8 3.1-.1 3.5-.7 2.8 .6 3.1-.4 3.5-.2 3.2-.4 3.7-.1 2.6-.4 3.4-.5 3-.1 3.2-.4 2.9 .9 2.8-4.7 1.8-3.6 2.6-5.6 .3-4.4 2.3-4.6 1.9-3.7 1.2-4.3 2.3-4 1.7-5.2 .6-4.2 2-3.5-2.2-.4-4.1 .7-4.3-.3-4.1-.6-3.7-.1-4.3 .2-3.5-.3-3.3-.6-5.3-1.1-3.6 .4-3.6 .6-4 .3-4.1-1.1-3.9 .2-4.3-.3-3.9-.6-3.6-.3-4.4 .5-3.2 .5-4.6-.6-4.3-.2-4.1-2.8-1.5-3.4-.2-3.5-1.4-3.2-.9-2.8-1-3.4-1.2 .7 4.1 .7 5.1 .9 4.6 .7 4.4 .9 4.2 1.3 4.8-.1 5.6 1.3 3 .1 5.4 .7 5.1 .1 4.1 1.5 4.6 .2 4.9 1.3 3.8 1 5.1-.3 5.1 .2 5 1.3 4.1 1.4 4 4 1.8 4.3 2.5 4.1 1.1 4.7 2-4.6-1.3-3-.4-2.9-2.2-4.3-.2-3.5-1.2 3.8-.7-1.9-2.7-2.6-3-1.5-3.2-1.9-3.3-1.5-2.5-1.8-3.7-1.7-2.3-1.8-3.4-1.8-2.9-1-3.7-3-2.6-1.2-3.1-1.7-2.6-2-3.3-2.3-3.8-1.5-3.2-2-2.4-1.3-2.2-2.1-3.8-2.5-3-1.5-3.5-1.6-2.9-1.7-3.4-1.4-2.9-2.3-2.8 .2 4-.4 3.8 .2 3.8-.9 3.3 .4 4.2-.4 4.4-.2 3.4 .3 3.1-1.3 4.8 .5 3.7-.1 3.8-.7 3.6-.2 3.9 .4 4-1.2 3.4 .8 3.7 .3 4.4-.4 3.4 0 4.1-.7 4.1 1.1 3.7-.2 4.2 2.9-.9 5 .2 2.7-.8 4.3-.5 3.4-.5 2.7 .1 5-.8 3.1 .6 3.7-.7 3.6 .1 4.3-.9 3.5 .5-2-4.1-1.4-2.5-1.6-3.2-1.5-3.8-1-3.7-1.2-3.6-1.5-3.1-1.8-3.8-.7-3.4-.9-3.6-2.5-3.1-.9-3.6-1.8-2.9-1.3-3.8-2-3.3-.9-4.3-1.5-3.1-1.4-2.9-1.9-3.8-.6-3.9-2.3-2.5-.7-3.3-2-4-1-2.6-1.3-4-1.9-4.1-1.5-2.6 5 .5 3.7-.9 6 .5 4.2-.5 5.1-.3 4.1-.6-2.8 1.8-4.4-.6-.2 4.7 .8 5.6-.1 5.3 .8 4.1 .5 4.9 .3 4.8 .4 4.9 0 4.5-.4 4.7 .4 4.5 .5 5.8-.3 4.3-.5 4.5 1.7 5 .5 4.7-.5 4.8 2.7 2 3 1.3 2.2 1.3 3 1.6 2.7 1.2 2.8 1.8 1.9 1.1 2.7 .8 2.7 .7 3.5 1.6 3 1.6 2.8 .7 2.8 .8 2.5 .9 2.6 1.5 3.5 1.1 2.6 .7 3.4 1.9 3.9 3.3-3.6-2.7-3.4-1.9-3.7-2.5-2.9-1.6 1.9-4.5 1.2-3.7 2.6-3.6 1.4-3 1.8-4.8 1.9-4 2.6-2.9 .5-4 3.2-4.5 1.2-2.3 2.5-3.6 1.3-4.2 1.6-3.9 1.4-4.3 1.9-3.7 2.1-3.7 1.7-3.4 2.2-3.7 .9-4.4 2.2-3.4 2.3-3.8 1.5-3 1.5-3.7-2.8-2.8-3.9-.1-2.3-.9-3.9 .2-4.4-.8-3.9-1.7-3.3-.4-3.4-1.3-4.3-.9-2.5-1.3-3.8-.4-3.4-.6 .1 3.6 .8 4.4-.2 4.1 .5 3.9-.1 4.5 .6 4.3 0 4.4-.4 4.6 .3 3.8 .2 4.3-.1 4.4 0 4 .2 4.2 0 3.9 .3 5.6-.3 2.9 .3 3.5-.4 2.6 0 2.9-1.2 3.5 .1 3.2-.3 2.8-.9 2.7 .2 2.9-.3 3.6 1.1 2.9 1.6 2.1 .4 3 .7 3.4-.7-4.3-.2-3.8-.5-4.9 .2-4.1 .7-4.6-.6-4.3 1.2-4.8-.9-3.9 1.3-3.9 .8-4.8-.4-3.7 .9-5.1 0-4.8-.2-3.4 1.6-4.2-.1-4.7 .3-3.3 .6-4.9 .2-4.4 .8-4.8 .2-3.6 .9-4.4-.2-4.7 .2-3.3-2.5-1.6-2.4-.8-3.7-1.2-3.4-.8-.2 3.8" fill="none" stroke="#9bb99b" stroke-width="1.0" stroke-linejoin="round"/>
<path d="M108.5 279.3l.5-3.8 .7-2.6 1.4-3.8-.4-3 .8-2.9 .6-4.1 .8-3.7 .5-2.4 .4-3.5 .9-3.9 .4-2.9 .2-2.4 1.3-4.2 .7-3.1 1.1-4-.2 5.5 .7 2.5 0 3.7 .3 3.9 .5 4.1 .7 3.5-.9 4.7 1.6 3.9 .1 3.2 1 4.3-.7 3.4 .6 4.2 .8 3.8 1.1 3.9-.1 4.5 1.4 3.3-.4 4.1 .2 3.4-.1 4 .5 4.2 1.4 3.1 .3 4.9 3.7 1.1 2.4 2.4 4.5 .9 3.5 1.6 3.9 .8 3.2-.3 4.6-1.6 3.1 .2 3.8-.4-4.3 .8-4.5-1.3-5.2-1.1-5 .3-4.3-.2-5-.6-1.8-4.2-2.2-4.2-2.1-4.1-1.5-4.5-2.8-4.3-1.2-4.3-3.6-4.3-2.2-4.5-1.9-3.7-2.5-4.3-1.5-3.5-3.1-4.9-2.3-3.8-2.2-4.7-2.1-4.7-1.6-4-3-3.5-1.7-4.4-3.1-4-1.6-4.5-1.4-4.4-.6 2.8 .1 4.1-.4 3.1-.4 4 .3 3.2-.2 3.4-.2 3.3 0 3.5-.6 3.9-.7 2.8-.1 4.3-.3 3.4-.2 2.5 .2 3.3-.6 3.6-.2 3.8-.5 3.8 .5 2.8 .2 2.9-.6 4.5-.3 3-.2 3.4-.8 3 .1 3.5-.8 4.1 0 3.4 .1 3.1-.1 3.4-.8 3.5 4.7-1.3 4.2-.2 4.7-.5 3.7-1.3 5.2 .2 4.7-1 4.7-.4 4.9-.6 3.8-.6 5-.5 4.8-1.3 3.9-.3 4.5-1 4.9-1.4 .4-4.6-.3-4-.1-4.9 1-4.3 .2-5.3-.1-3.8-.1-4.8 .8-4.9 .3-4.4 0-5 1.1-4.5-.9-5 0-3.8 .6-5.3 0-3.5 .5-5 .4-5.3-.4-4.5-.2-4.3-.5 4.8 .6 5 0 4.8 0 5-.1 5-.2 5.5-.5 4.9 .1 4.9-.9 4.6 .7 5.2-.6 5.2-.2 4.4-.3 5.6 .4 5.6-.3 3.6 .2 5.8-.5 4.7-5 1.1-5 .6-4.5 1.1-5.8 1.1-4.8 .3-4.5 .2-5.5 .5-4.4 .6-4.7 1.3-5.1 1-5.5 .7 4.2-.7 2.5 .5 3.1-.6 3.2-.6 3.1-.1 2.9 .1 3.5-.2 2.5-1 3.5 .7 3.9-.5 2.7-.3 3.5 .9 .8-4.8 .2-2.9 0-4.2-1.1-5 0-3.3-.1-3.9 .1-3.8 .1-4.1 .1-3.9-.6-4.4 .5-3.4-.5-3.3 .2-4.2-.9-4 .4-4.6 .3-3.1-.8-4.2 .7-4.2 1-4.2-.9-3.7-.9-3.8-.3-4.6-.3-2.9 .1-3.7 .8 3.8-.3 4.2 0 4.6-.1 3.9 .2 4.3 .4 3.9-.4 4.6-.9 4.4 .9 3.8-.5 3.9 1 4.8-.5 3.8 .4 4.1-.1 3.4-1 5.4 .3 4.2 .2 3.4-.1 4.9-.5 4-.1 5.4 4.1 .9 .3 1.1 .3 .4 3.9 .2 4.3 2.2 2.4-3.6 2.8-4 2.5-2.6 2.8-3.2 2.9-3.2 2.1-3.8 3.4-3.1 2.2-2.7 2.5-3.9 3.2-3.9 2.1-3.4 2.3-2.2 3.5-3.8 2.5-3.4 2.4-3.5 3.2-2.4 2.1-2.9 2.3-3.2 3.5-3.9 1.9-2.4 1.5 3.3 1 4.7 .5 4.7-.4 4 .5 4.7-.3 4.2-.2 4.2 .1 4.3-.2 3.8 .2 4.1 .2 3.8-.4 2.3 .3 1.6 .4 .7-.7-4.7-.3-3.5-.8-4.3 .8-3.6-.1-4.6-.2-5.1 0-3.9 0-4-1-4.5-.1-4.8-.6-4 .1-4.3-.6-4.6-.4-4 .9-4.5-.7-4-2.6-5.1-.2 5-.4 4.3 .3 3.6 .6 4.7-.7 4.2-.3 3.6 .1 3.6-.3 4.5 .7 4.5 .1 4.2 .5 3.6-.2 4.1-.2 4.4-.3 4.1 .1 4.1-.4 4.2 .2 3.9 .9 4.2-.5 4.6 .4 3.3 0 3.8-3.9 1.6-5.2-.6-4.9-.7-4.5 .6-5.1 .1-4.3 .4-4.4-.4-5.6-.4-4.7 .2-4.9 1-4.4-.2-5.5 .1-3.9 .8-4.9 .4-4.7-.7-4.8 .4-5.1 .6-5-.3-4.6-.2-4.9 .5-4.4-.2-5.4 .8 5.6-.4 3.8-.3 5 .4 5.6 .5 4.5-.3 4.8 0 4.7 .3 4.6-.9 4.5 1.4 4.4-.8 5.8 .1 4.5 .8 .8-5.1 .3-4.7 1-4.8-.6-5 .8-5.2 .1-3.9-.6-5.5 .7-3.8-.3-5.4 1-4.8-.2-4.8-.4-4.7 .4-4.8 .2-4 .7-5.2-.5-5.3 .6-4.2 .4-5.3 4.3-.8 4.7-.8 3.9-.2 4.2-2.2 3.3-1.1 5.2-.3 4.5-1.7 3.4-.7 4.7-.3 4.2-.9-.1 4.4-.5 4.1 .3 4.1-.7 4.6 1.1 4.7-.4 3.5 .5 4.6-1.4 4 .6 4 .3 3.9 .2 4.8-.4 4.8-.2 3.2-.3 4.5-.3 4.2 0 4.9 .2 3.6-.1 4.6 0 5-1.7 3.9 1.5 4.4-.2 4-.2 3.8-.1 4.3-4.9 .6-5-.7-5.2 .7-3.9-1.1-5.1 1-5.6-.2-3.6-1-5.8 0-4.7 .1-5.1 1.1 4.2 1.3-4.3 .3-4.1-.3-4.4 .3-4.6 .1-3.2 .7-4.2 .2-4.7 1.7-3.6-.5-4.9 .8-3.7 .8-4.1-.3-3.7 1.1 2.5-.4 3.7-.7 3.5-1.4 3-1.4 3.5-1.5 3.6-1.4 3.5-.5 2.7-1 3.7-1.5 3.6-.8 3-.8 3.7-1.3 2.9-1.1 3-.9 3.7-1.4 1.6-3.4 1.3-2.8 1.7-3 1.9-4.1 .6-2.6 1.9-3.1 1.9-3.6 .9-2.9 1.2-3.2 .6-3.3 2.5-3.4 1.8-2.9 .3-2.9 2.1-3.5 1.5-4 1.1-2.3 .8-3.4 1.8-3.6 1.5-3.2 1.2-2.3 1.9-4.1 .7-3.4 2.4-2.7 1.6-2.4 1.6-3.6 2.1-3.7 1-2.9 .8-3.2-.6 3.9 .2 3.5-1.3 3.3 .1 4.5-.7 2.7-.5 3.6-.5 3.3 .2 4.1-.4 3.5-.8 4.6-.6 3.2-.4 3.5-.5 3.4-.8 3.9 0 3.3 .3 3.6-.7 3.3-1 4.3 .3 2.9-.6 3.7-1.5 3.9-1.7-4.2-1.5-3.4-1.5-3.4-1.6-3.1-.6-3.9-1.3-4.4-2.5-3.6-.4-4.3-1.5-3.5-1.1-4-2-3" fill="none" stroke="#9bb99b" stroke-width="1.0" stroke-linejoin="round"/>
<path d="M172.6 279.4l.4-5-.1-4.5 .4-5.4-.2-4.6 1.2-4.9 .5-5.8-.1-4 .2-5.4 .5-4.2-2.2 3.6-.9 5.5-2 4-1.3 3.3-1.8 4.8-1.2 4-2.1 4.6-2.3 4-1.9 4.7-.9 3.9-2.6 4.8-1.8 4.6-1.3 3.3-1.1 4.7-2.2 4.4-1.4 4.7-.7 3.5-2.4 4.4-1.1 5 4.8 .7 3.9 .7 4.3 .8 4.2 .8 5.9 .4-4.6 .1-3 .2-4.8-.5-3.8 .3-4 .1-4.3-.8-3.9 .5-3.6 .6-3.7-.3-1.6-4.2 .1-3.8-1.9-3.8-.1-4.2-1.6-3.4-.4-3.7-2-4.1-.2-3.5-.6-4-1.3-3.9-.8-3.9-.5-3.9-.9-3.5-.7-4.1-.3-3.7-1.4-4.4-.4-3.3-1.1-3.4-1.1-4-.6-4.5-1-2.9-1.1-4.2-.6-3.9-.5-3.7 .3 3.5 .8 2.9 .5 4.6-.5 4.2 1.1 3.1 0 3.8 1.4 3.6 .6 3.7-.6 3.6 1.5 3.8 .7 3.3-.1 4.5 .9 3.5 1.1 3.4-.7 3.8 .7 4.6 1.3 2.8 .2 3.2 .8 4.1-.5 3.8 1.6 3.5 .4 3.3 1.2 4 .2 3.1 1 4.1 4.8-.1 4.2-.4 4.6-.8 5.4 .3 4-.8 5-.2 5.2-.8 4.4 .4 5 0 4.9-.5-4-.3-4-.4-3.2-.7-4.1-.1-3.5-.8-4.1-.1-3.7-.7 1.8-3.7 .8-2.6 1.2-3.2 2.5-3.4 .7-4.5 1.4-2.5 1.1-4.5 1.4-2.8 1.7-3.7 .7-3.4 1.8-4 1.5-2.7 .6-4.2 1.9-3.1 1.2-3.4 1.3-4.3 1-3.3 1.3-3.5 1.4-2.9 1-4.4 1.3-3.6 1.6-3.8 .1-3.3-3.2-.9-3.7-1.2-4.2-.9-3.9-1.2-3.7-1.7-4-.3-3.9-1.3 .6 4.3 .3 4.4-.4 5 .4 4.9 .4 4.7 .6 5.1 .5 4.2-.3 5.3 .8 4.1 0 5-.7 4.5 .2 5.1 .8 4.5 .4 4 .4 5.4 0 4.4 1 5.1 0 3.8 2.7 4.6 2.6 3 3.1 3.7-4.4-.4-4.7-.2-3.9-.7-4.1-.4-4.5-.7-3.8-.2-4 .2-4.3-.2-4.6-.5-4.1-.3-4.6-.2 4.8 .5 .3-4.2-.1-4.7 .4-3.5-.7-5.1 .7-4.6-.6-4.2 .6-5.1-.5-3.5 .2-4.9-.7-3.4 1.1-4.8-1-4.5 1.1-4.5 .2-4.4 .2-4.1 .2-4.5-1.1-4-.2-4.7 .8-4.4 .4-4.4-.6-3.7 .2 3-.6 3.6 .3 4.2-.5 4.5-.5 3.7 .1 4.3-.1 3.8-.4 3.9 .5 4.4-.5 4.5-1.4 3.1 .2 4.5-1.1 4.4 1.2 3.3-1.1 4.8 .1 3.9 .1 4.7-.1-4.7 0-3.2 1-2.9-.7-3.5-.1-4.3 1.2-2.8 .1-3.6-.4-3.3 .6-3.8 .2-3-.2-3.5 .1-2.7-.2-3.9 .4-3.5 .9-3.8-.7-3 .4-3.6 .5-4-.9-3.1 1.3 4.1 0 3.1 .7 2.8 .9 3.4-.3 3.2 1.3 3.8 .3 2.6 .6 2.9 .9 4.1-.1 3.2 .2 3.1 .7 3.2 .4 3.6 .7 2.9-.3 3.5 1.8 3.8-.4 3 1 3.3 .7 2.9 .2 3.9 .6 2.6 .4 3.7-.5-4.5-.3-4.6-.4-4.5 .9-4.1-.6-4.5 .1-4.8 .2-4.1-1-5-.2-4.1 .2-4.4-1.5-5.4 .5-4.4-.8-4.2 .1-3.5 1-4.5 .6-4 .1-2.5 .3-3.5-.3 3.3 .8 4.1 1 4.2-.1 3.8 .1 4.1 1 3.8-.3 3.1 .2 5.3-.3 2.8 .2 4.6-.4 3.9 .2 3.8 .4 3.7 0 4.1-.6 3.4 .2 3.7-.4 4.7 .9 4-.8 4 .7 3.6-.4 3.5 .2 3.6 .6 3.7 3.4 1.4 4.3 .4 3.7-.9 3.7-.1 4.5 1.3 4.7-.3 4 .3 4.5 1.2-4.9-.6-5.5-1.4-4.8 2.3-4.4-1.1-5.2-.9-4.3 .7-5.9 .1-2.3-4.4-2.3-4.6-3.1-3.7-3-4.3-2.2-5.1-2-3.2-3.2-5.5-2.1-3.5-2.3-4.3-2.6-5-2.3-3.7-2.4-4.5-2.2-4.4-2.5-4.5-3.4-4.5-2.4-3.4-1.2-4.5-3.3-4.6-1.5-4.5-2.8-5.6-1.4-3.1 1.5 3.4 1.2 3.2 1.2 3.6 1.9 3 2.1 3.6 1.6 3.1 1.4 3.4 1.6 4 2.6 2.8 .5 3.9 2.8 2.6 .8 3.8 2.6 3.6 1.3 3.6 1.9 4.4 1.8 2.7 1.1 3 1.8 3.7 2 3.4 2 2.9 1.5 4.1 1.7 3 1.7 3.7 1.7 3.5 1.6 2.7 3.3 1.4 4.1 .7 .3 .6-1.4-4.6-2.8-3.8-2.3-3.8-2.4-5.1-2.2-4.3-1.6-4.3-2.5-3.7-2.4-5.2-2.4-3.7-1.9-3.8-2.8-4.9-2.1-4-2.1-4.7-1.9-4.7-1.8-4.5-1.8-3.9-2.3-4.4-2.7-4-1.7-4.4 1.7 3.9 2.2 4.4 2.9 3.8 2.4 4.5 1.4 4.2 2 4.5 2.3 3.5 1.8 4.6 2.9 4.9 1.5 4.6 2.2 3.7 1.4 3.5 2.7 4.7 2.2 3.4 2.3 4.1 2.5 4.2 2.5 4.5 1.3 3.9 1.6 4.2 1.1 3.9 3.2 3.3 3.5 2.4 4 2.7 4-1.4 3-2.8 1.8-2.3 1.6-3.8 1.5-3.5 2.6-3.5 1.2-3.6 1.6-3.6 1.5-3.8 1.5-2.7 2.2-5.4 1.2-1.5 2.6-4 1.9-3.9 1.5-3.3 1.6-3.2 2.4-4 2-3 1.5-2.7 1.4-5 1.6-3 1.6-3.2 2.3-3.7 1-3.8 2.2-3.5 1.8-3 2.5-3.8 1.1-2.6-2.2-5.3-3.3 .6-2 1.6-3.3 0-3.9 0-3 2 4.6-.7 4.1-.8 4.5-.2 .5 3.4 0 3.2 .2 2.4 .5 4.2 0 1.7-.1 3.6 .7 3.8-.1 2.4-.1 3.4 0 3.1-.1 2.7 .2 2.5 .9 4.2 .1 2.5 .1 3.6-.7 3.4 1.1 2.9-.1 2.6 .8 3.7-.2 2.6 .2 4 .6 2.6-.4 2.6 .2 3.2-.4 3.4 1 3.7-.7 2.8 1.1 2.9-.3-3.7-.3-3.2 .2-3-.8-3.3-.8-3.6-.2-2.5 .3-4.1-1-3.6 .6-2.8-.9-2.9-.4-3.8 .5-3.3-1.5-3.7-.1-3.5 .8-2.7-.9-3.3-.3-3.2 .6-3.4" fill="none" stroke="#9bb99b" stroke-width="1.0" stroke-linejoin="round"/>
<path d="M149.9 325l-4.3-.3-4.5 0-4.3-.3-4.2-.3-4.2 .3-4.3-.5-4.3-.3-4.3 .2-4.7-1.1-4.1 .2 4.6 0 5-.5 5.6 0 4.5-.2 4.9-1.4 5.2 0 4.6-.8 .1-4.3-.5-5 .7-5.4-.2-4.8-.5-4.8 .6-5 .6-5-.8-4.7 .1-4.1 .8-5.6 0-5.4 .7-4.4 0-4.4-.3-5.7 .9-4.8-.3-5.2 .5-4.7-1-5.1 4.2-.2 2.5 0 4.5-.7 4.2-.4 3.1-1 3.3-.4 2.8 .1 4.2 0 3.6-1.2 3.1-.1 4.1-1 3.9-.1 2.6-.9-4.5 .6-4.3 1-4.9 1.2-4.5 .1-5 .9-4.5 .2 4.3 .7 4.5-1 3.5 .1 3.1-.9 5 .5 3.3-.7 .1 3.6 .2 4.3 .4 2.7-.5 4.6 .2 4.1 .5 3.3-.3 3.7 .4 4.3-.2 3.7 .5 3.8-.2 3.7 0 3.9 1.1 3.1-1 4.2 .1 4.3 .3 3.7 .5 3.7-1.4 4.1 .8 3.7-.6 3.7 1 3.6-1.2 4.1 .7 4.1 0 3.8 .5 3.6 0 3.4-4.7 .1-3.6-1.2-4.3-.5-4.2-1.6-4.3-.6-4-.8-4.5-1.2-4.2-.5-4.4-.9-.3-4.1 0-4.5-1.2-4 .5-4.6-.9-4.3-.5-3.7-.1-4.1 0-4.6 .4-4.1-.6-4.5-.4-4.4-.9-4.9-.2-3.7 .3-4.4-1.1-4.2 0-4.3-.2-4.1 .3-4.3-.3-4.1-.1-5.2 .3-4.3 3.8-1.9 4 1.2 4.2 .3 2.9-1.6 4.6 .2 3.9-.2 3.4-.8 3.4-.2 4.1-.4 3.1-1.1 3.8-.9 4.5 .2-.3 3.8 .7 4.9-1 4.2 .5 4.2-.3 4.7-.2 4.3 .8 4.7 .3 3.7 .5 4.6 .1 4-.1 4.7 .2 4.2 .1 3.7-.2 4.7 .9 4.2-.1 4.9 .7 3.9 .3 4.8 .2 4.1 .2 4.3 .6 4.3 .4 4.3-3.1-.6-4.2 .6-4.2 .9-3.7 .5-4-.9-3.4 1-4.1-.3-3.6-.5-3.9 1-4 .5-3.8 .2-4.3 .6-4.1-.2-3.5 .3-3.8 .1-4.1 .6-5.8-.3-3.8-.5-4.5-.3-3.8 0-4.5-.1-4.7-.4 4.3-.8 3.5-.5 5.3-1.2 4.5-.5 4.6-.2-.3-5.5-.4-4.4 .7-4.8 .2-4.6 0-4.1 .2-3.9 .9-4.1 0-6.2 1-4-.5-3.4 .2-5.1 .8-3.8-.6-4.6 .3-5.1 .1-4.1 .8-4.2-.1-3.8-.5-5 1.4-4.7-.9-3.5 .1 3-.2 2.1-.3 4.1 .9 3.3-.3 2.8-.5 3.5-.2 3.5 .2 2.8 .1 3.7 0 2.9-.4 3.3-.3 3.2 .4 3.5 0 3.2-.2 3.8 0 2.9-.1 3.2 .2 3.3-.4 2.7 .4 3-.7 3.6 0 3.2 .6 3.5-1 3.1 .6 3.2-.4 3.5-.2 2.4-.8 3.9 3.9 .5 3-.1 3.3-.3 3.4 .9 3-.6 2.8-.1 3.3 1.3 3.5 .3 3.3 .7 3.4-.3 3.4 1.1 3.7 .3 2.2 .4 3.7-.2 3.4-.8 2.7 1.3 3.9 .4 2.7 .4 3.4 .4-4 2.3-3.6 1.1-3.5-.2-3.1 .3-4.5 .5-4 .5-3.9 .1-4.2 .2-3.6-.3-4.2-.1-3.7-.2-3.5 .6-4.4 .1-3.5 .7-3.2-.3-5 .3-3.3 .1-4.5 .1-3.7 .3-4.3 .2-3.3 .4-4.3 .2-3.6 1.1-4.3-.7-3.4 .1-3.6 1.4-4.5-.6-2.4 .1 6.1-.3 4.2 .1 4.8-.2 4.8-.6 4.8 .3 5.6-.1 4.7 1.1 5.2-.3 5.1-.3 3.2-3.3 3.7-2.7 2.5-3.3 4.4-3.7 .2-6 .1-4.6-.3-3.9-.2-5.6 2.2-4.7-.3-4.9 .1-4.5 1.6-4.7-.2-5.8 .9-4 .6-4.6 .3-5.6 .4-4.5 .5-4.8 .6-4.5 .1-5.3 .4-5.2 .8-3.5 3.6-1.3 3.5-.3 3.5-.6 4.3-1.3 3.1 .3 3.6-.8 3.7-1.2 3.7-.5 3.4-.3 3.5-.5 4-.6-.4 5.1-.2 3.5-.6 5.5 .1 4-.3 3.5 .4 4.2-1.5 4.7 .2 4.4-.3 3.9-.4 4.9-.6 3.7 .2 4.7 .1 4.1 .1 4.1-.6 5 0 3.8-.3 4.2-.8 4.5-.8 3.8-4.7 2.2-3.6 .4-5 1-3.7 1-5.3 .8-4.4 2.1-4.6 .3-4.4 .9-3.9 .9-4.1 .1-5.5 .5-2 .4-2.4-4.7-2.4-4.6-2-4.1-1.8-3-1.9-4.2-2.3-3.3-2.2-4.3-3-4.1-2.3-4.6-2-3.7-2-4.1-1.5-4-3.4-3.8-1.7-3.7-2.3-4.6-2.6-4.1-2.1-4.9-2.4-3.5-2.4-3.5-2-3.4-2.8-4.5 1.2 3.3 1.5 2.5 1.4 2.8 .6 2.4 1.9 3.2 1.2 2.8 1.6 2.5 1.3 2.5 .6 3.2 1.8 2.3 1.1 2.8 1.4 2.9 1.8 3.2 1.4 2.4 1.3 3.1 1.3 1.9 1.2 3.7 1.3 2.9 1.1 2.5 1.6 2.6 1.3 2.3 1.3 2.5 1.2 2.6 2.3 2.9 1 3.2 1.8 2.6 .7 3.5 .6 2.4 .9-4.1 0-4.3-.2-4.1-.6-4.2 .3-3.8-.2-4.5 1.3-4.5-.3-3.8-.7-4.1 .1-4 .2-3.7 .4-4.4-1-4.3 0-4.1 .5-3.6 0-5.2-.3-3.5-.9-4.3 .2-4.3-2.4 0-4-1-3.2-1-3.4 0-3.6-1.6-3.9-.2-2.9-1.3-3.2-.6-2.8-.4-3.8-.6-3.4-.9 1.2 2.7 1.4 3.8 1.3 3.2 1.8 2.9 1.4 2.4 1 3.7 1.8 3.3 1.2 2.8 1.7 3.6 2 2.9 .4 3.1 2.4 3.9 2.1 2.4 .3 3.6 1.9 2.9 1.6 2.4 1.2 4 1 3.5 2.5 3.1 .9 3 1.1 3.1 1.8 3.5 1 3.1 1.9 2.4 1.3 3.8 1.1 3 1.9 3.5 .2 3.1 1 2.9 3.5 .7 4.1 1.2 3.3 .4 3.9 .4 1.9 1.2 3.8 0 4 1.2 3.9-.1 2.8 1.4 3.5 .2 3.6 .3 3.1 .5 3.5 1.5 3.8 .4 3.5 .7 2.8 1.3 3.8-.8 2.5 1.7 3.8 .7-3.5-1-3.8 .1-3.6-1.1-4.1-.3-3.7-.8-3.6-1-4.1-.8-3.9 .4-3-1.3-4.5-.7-4.1 .1-4.2 0-2.5-1.4-4-.4-4.5-.4" fill="none" stroke="#9bb99b" stroke-width="1.0" stroke-linejoin="round"/>
<path d="M95.4 285.3l-.5-4.8-.2-5.3-.2-3.8-1.1-4.6-1-4.8 .2-4.6-.9-5-1.5-4.3 .3-5.4-1.6-3.8 .3-4.5-2.1-3.8-1.9-3.2-2-2.4 2.5 2.4 5.7-.2 4.7-.7 5 .2 4.6-.7 4.9-.4 4.9-.1 4.7 .4 5.3-.4-5.1 .3-5-.6-3.9-.4-5.3-.5-3.6-.3-4.8 .4-5.9-1.2-4.2-.3-4.2 1.1-.4 2.5-.2 4.9-.4 2.9 .3 3.9-.5 3.6-.2 3.4 .7 3.6-.2 3.7-.3 3.9-1.3 3.1 .5 4.1-.1 3.3-.4 3.3 0 3.6-1.6 4.5 1 3.7-.7 2.7 0 4.7-.6 2.6 .3 4-.3 3.3-.3 4.2 0 2.7-.9 4.3 .4 3.7-1 3 3.2 .1 3.3 .2 3.6 .1 2.3-.4 4.3-.2 2.9 .8 3.4-.3 3.2-.8 3.5 .3 2.5 .7 4-.5 3.8 .6 2.1-.8 3.8 1.2 3.2-.3 3.1-1.2 3.5 .6 3.1 0 3.3-.1 3.5-.1 3.1 .4 3.8 .8 2.2-.9 3.7-.4 3.6 .4 3-.9 3.5 .8 3.4-.5 3.1-.5 3.2 .1 3.3 .1 3.6 .3 2.2-.5 3.8 1.2-4.9-.5-4.7-.4-4.4 1.6-4.9-.9-5.1 .4-4.3-.5-5-.5-4.6 .2-5-.4-4.4 0-4.6 .7-5.1-.4-4.9 .3-5-.4-4.2 .2 4.6 .9 4.7-.7 5.4 .5 4.6-.6 5-.3 4.6 .2 4.2-.1 5.4 .3 4.9 0 5 0 4.9 .6 4-.9 5.3 .7 4.4-.7-2.8 .3-3.7 .1-2.1 .3-2.9 .5-3.2-.3-3.4 1-3-.1-2.7 .3-3.3-.5-2.4 .9-3.6 .2-3 .2-3 .1-2.1 .6-3.4-.6-3.2 .6-3.5 0-3.1 .2-2.3-.4-3.7 1.3-2.4-.7-3 1.3-3.5-.1 3.3-.9 3.2-.5 3.4-1.5 2.4 1 1.1-3-.5-3.3 0-3.5 .3-2.3-.2-3.9-.2-2.8-.2-3.3 .2-3-.2-3 1-3.2-.2-4-.8-2.4 0-3.2 .4-3.1 0-2.5 0-3.2 .3-2.8 .3-3.6-.1-2.7 .5-3.3-.6-3.7 .8-2.8-.6-3-.9-2.8 .8-3.4-.4-2.7 0-4.2 .4-2.5-.5-3-.2 4.6 .3 2.7-.2 4.8 0 4 .1 4.1 .4 4.2 .3 3.6-.5 3.6 0 4.5 .6 3.4-.3 5.1 .7 4 .4 3 .1 4.2 .2 3.6 .1 5.1-.4 3.1 .7 4.1-.1 3.4 .6 4.8 .4 3.7-.3 4.2 .6 3.6-.7 4 3.9 .5 4-.3 3.4 .9 4.6 .9 4.2 .7 3.9 .7 4.2-.6 4 1.1 4.4 1.1 2.5-.9 4.5 .4 4 .8 4.4 0 3.5 .9-3.3-1.6-3.1-1.4-4.2-1.1-2.8-.6-4-.9-2.9-2-3.6-.6-3.2-.9-3.4-1.4-3.5-1.8-3.8-.7 .7-3.7-.9-3.9-.1-3.5-.4-3.8-.5-2.7 .2-3.7-.5-3.9-.7-4.3 .3-3 0-3.7 0-3.1-1.1-4.2 .8-3.3-.4-3.4-.4-3.5 .1-3.5-.7-3.7-.7-3.3-.1-4.3 .3-3 0-3.5-.9-3.7 .1-3.7-.4-3.7 .5-3.2 0-3.7 2.3 .9 4.4 .4 3.3 .8 1.9 .3 2.8 .2 4.2 .3 3.2 .5 2.9 .8 3.1 .2 4.1 .8 2.8 0 2.7 .4 3 .2-1.2 2.7-1.5 3.1-2 4.3-.9 3.3-1.1 2.8-1.8 3.5-1.4 2.8-2.1 3.7-1.6 3.3-.9 2.5-2.2 3.6-1.2 3.3-1.5 3.3-1.3 2.8-2.1 4.1-.7 3.2-1.9 2.7-.6 3.2-2.2 3.7-1.7 3-.9 3-1.9 2.9-1.8 3.8-1.3 3.1-2.2 3.2-1.2 3.1-2.1 3-2.6 2.8 3.1-1.9 2.5-2.1 1.7-2.7 1.8-3.4 1.7-3.4 .7-3.1 2-2.4 1.9-3.6 1.4-2.3 2.1-3.4 1.6-2.5 1.7-3.4 1.4-2.9 2-3.6 1.5-2.1 1.2-2.7 1.7-3.9 1.8-2.6 1.4-2.9 2.1-3.3 .9-2.7 2.3-3.9 1.5-2.1 1.8-3 1.7-3.5 1.3-2.9 1.3-2 2.1-4.3 1.3-3 1.1-2.6-2.3-1.7-3.6-1.3-3.5-.8-3.3-.6-2.5-1.8-.6 3.3 1.4 3.5 .3 3.4 .2 4.1 .5 2.6 1.7 3.7-.6 2.6 .5 3.8 .2 3.7 .2 2.8 .1 3.8 1 3.3 1.2 2.8 0 3.1 1.3 3.4 .3 3.2-.4 3.6 .9 3.6 0 3.5 .6 2.5-2.1-2.8-2.6-4.3-2.2-3.6-2.7-4.2-1.3-2.8-2.7-4-2.5-3-1.4-4.3-3.2-3-2.2-3-2.8-4-2.3-3.7-2.1-3.3-1.8-3.5-2.3-4.5-3-3.4 4.3-.8 5.2-.9 4.4-.6 5.4 0 4.7-1.3-.8 3.1-1.1 3.4 0 4.1-1.1 3.7-.4 3.3-1.9 3.6-.8 3.3-.2 3.3-1.3 3.2-1 4.1-1.1 3.7-.9 3.2-.7 2.9-.8 5-1.3 2.6-1 3.7-1.1 3-.4 4.8-.7 2.4-1.3 4.5-1.5 2.1-.2 4.2-1.2 3.2-1.1 4.8 0 3-1.9 3.4-.7 3.2-1.2 3.3-3.7-.4-4.8 .3-4-1.4-5 .2-4.1-.1 3.3-1.7 3.8-1.4 3.3-1.7 3.2-1.6 3.8-1.5 3.5-1.5 1.3-4.1 2.5-2.8 1.7-2.9 2.8-4 1-3 1-3.8 1.9-3.7 2-2.6 2-2.8 1.6-3.9 1.3-3.3 1.1-3.9 1.9-2.9 1.7-3.9 1.5-3.8 1.1-3.8 2.1-2.5 1.2-3.3 2-3 1.1-4.1 2.5-2.6 1.4-3.4 2.4-3.4 1-3.9 1.9-3.1 2.5-3.4 1.9-2.9-.6 5.1-.3 4.7-1.2 4.7-1.3 5-.2 4.8-.5 4.9-.5 4.5-.4 4.9-1.2 4.7 0 5.2-1.1 4.5-.2 5.5-1.5 4.1 .4 4.9-.7 5.7-.7 5.1-.7 4.2 .5 5.1-.2 4.4-1.2 4.9 3.7-1.7-4.3-.4-4.4-.8-4.3-.3-4.7-.7-3.6-.3-4.1-.5-4.2-1-4.1 .2-4.5-.6-4.1 .3-4.7-.8-3.9 0 4.4-1.1 5.2 0 3.7 .4 .1-4-.1-5.5 .2-3.8-.6-4.8 .7-4.4-.6-3.7-.9-5.6-.1-4.2 .6-4.3" fill="none" stroke="#9bb99b" stroke-width="1.0" stroke-linejoin="round"/>
<path d="M176 242.3l.7 2.4-.2 3.7-.8 4-.2 1.9 0 3.8-.1 2.6 .7 3.9-1 2.7-.4 3.7 .3 2.6-.3 3.3 .3 2.8-1.1 3 .2 3.5-.3 2.9 .6 3.1-.2 3.9-.6 2.4 .2 3.7-.4 2.5 .1 2.7 0 3.1-1 3.9 .1 2.5 0 3.6 .8 3.4-1.3 2.4-3 .2-4.3-.8-3.8 .3-4.5-1-3-.6-5 .3-2.9-1-4.6-.3-4.2-.3-3.7-1-1.9-3.5-1.9-3.5-2.3-3-1.7-3.7-2-3.3-1.7-4.1-2.2-3.7-1.8-2.7-1.3-4.3-2.2-3.6-1.3-3.5-2.3-3.1-2.4-3.7-1.9-3.6-2.6-3.6-1.4-2.7-1.1-3.6-2.5-3.3-1.7-3.8-2.9-3.6-1.8-3.1-2.6-4.2-1.1-3.1-1.8-4.1-2.6-3-2-3 4.4-.5 4.3-.8 3.6 .1 4.2 .8 4.7-.1-.4 2.6-.6 3.4-.2 3-1.3 2.2 .2 3.5-.2 3.1-.1 2.8-.5 3.3-.9 3.5 .9 2.8-.1 2.9-.1 3.3-1 2.8 0 3.4-.3 2.9-.2 2.7-.7 3.4 .1 2.7 0 3.4-1.1 3.3 .3 3.1-.7 3-.3 3-.6 2.7 .4 3.1 0-4-.6-4.5 .5-3.7 .1-4.3 0-5.4 .1-4 1-4.1-1-4.6 .8-3.9-.5-4.1-.8-4.5 .9-4.4 0-4.2-.4-3.5 .6-5.3 .6-4.4-.4-3.7 .4-4.2 1.1-5.2 .6 3.3 .1 2.8 1.8 3 1.1 3 .3 3.1 1.4 3.3 1.1 2.2 1.2 2.9-.2 2.7 .7 3.6 1.4 1.9 1.2 3.2 1.3 3.4 .2 2.9 1.1 2.8 .9 3.4 .5 2.8 1.2 2.8 .9 3.5 1.3 3 .3 2.3 1.8 3.1 .5 3.1 1 2.5 1.3 3.2 .9 3.1 .9 2.1 1 4 1.5 2.5 0 2.7 .1 3.1 4 1 2.8-1.2 3 1 3.1 .9 3.1-.3 3.4-.7 2.5 1 3 .2 3.2 1.1 3.6 .2 2.4-.1 2.8 .1 3.3 1.1 3.6-.4 2.2 .7 4.2 .4-4.4-.3-3-.5-3 .1-2.8 .3-4.1-.5-2.7-.4-3.1-.3-3 .3-3.6-1.2-2.4 .9-3.9-.4-3.1-.9-4.1 0-2.5-.2-3.8-.2-.3-3.2 .6-2.3 .4-3.8-.7-3.4 .4-2.6 .6-3.3-.3-3.3-.6-3.6 0-3.5 .3-3.3 .4-2.6-.6-3.1 .8-3.3 .3-3.6-.6-2.6 .3-3.5-.6-3.2 .6-3-.4-3.3-.4-3.6-.3-2.6 .6-3.8-.2-3-.2-3.8-.4-2.7 .6-3.5-.5-2.9-2.6-.8 .6 3.5-1.1 2.7 .7 4-.3 2.8 .5 3.9 .5 2.6 .3 4 0 3.2 .5 3.3-.3 3.5-.4 4.1 1.2 2.8-.5 4.1-.2 3.5 .6 3.2-.1 3.2 .5 2.9-.1 3.5 .3 4.1-.4 3.2 .5 3.1 1 3.4-.1 3.1 1 4.1 2.3 1.6 .5 1.8 3.2 .3-2.1 4.5-2.6 3.8-.1-5.6-.1-3.7-.7-5.3-.2-5-.2-4.8 .4-4.8 .3-4.7 .3-4.5 .1-5.2-.3-4.4-1.7-4.7 1.2-4.2 .8-5.3-1.2-5.4 .1-4.9-.3-3.9-.5-5.2-.3-4.7 .5-5.3-1 3.9-.5 4-.5 2.5 .7 4.3-.2 3 .4 4.3-.2 3.4 .8 2.8-.3 3.6 0 3.5 .2 3.5-.5 3.7 .3 3.5-.8 3.7 .9 3.4 .2 3.6 .3 3.7-.6 2.9 .4 3.9 .2 2.8 0 4.5 .1 3.2-.3 3.2 3.1 1.8 2.9 1.6 3.6 2.5 3.2 1.7 3.2 2.2 2.6 1.8-3.9-1.4-4.6-.7-4.6-.6-.7-5 5.8-.3 4.6-.2 4.9-.3 6-.4-4.3-.3-3-.4-3.1 .3-2.8 .8-4.2 .2-2.9-.4-2.1-.3-4.3 .3-.9-2.8-.9-2.9-2.6-2.6-1.4-2.5-1.2-2.8-1.5-3.6-2.3-1.6-.8-3-1-2.7-2.8-2.8-.8-2.3-1.3-3.3-2.3-2.4-1.6-2.4-2-2.8-1-2.7-1.6-3.2-1-2.1-1.9-3.7-.8-2.7-1.9-2.1-1.4-3.4-2.2-2.2-1.2-3.1-1.3-2.7-1.4-2.6-1.5-2.8-1.1-2.7-1.9-3.1-2.3-2.3-1.4-2.4 3.2-1.9 0 3.5-.3 3.8 0 4.1 .2 3.1-.4 4-.3 3.4 .6 4.1-.3 4.2 .9 3.3-1 2.8 .7 4.6-.5 3.6 .1 3.9-.1 3.9 .2 3.2-.4 3.4 .4 3.7-.6-5.6 .9-3.6-.5-4.6 1.7-4.8 .4-5 0-4.1 .3-5.3-.4-4.7 .9-5 .5-4.5-.4-5.3 .7-4.9 .3-4.7-1.2 3.7-.2 4.2-.4 3.2 .1 3.7-1.8 4.6 .7 3.1-.5 5.2-.2 2.9-1.1 4.1-.2 3.3-.3 3.9-1.2 4.2-.9 3.7 .1 4.1-1.4 4-.2 3.3-.5 3.7 2.9 1.4 2.8 1.3 2.5 1.4 3.1 1.2 2.8 1.8 2.2 1.5 2.8 2.1 3 1 2.9 .2 2.3 1.8 3.5 1.8 1.8 1 2.6 2 3.2 1.4 2.3 1 3.1 1.9 2.8 1 3 1.1 2.3-1 2.9-.8 3.2-.4 2.9-.6 3.1-1.7 3.2-.4 2.3-.2 4.1-.4 1.7-1.6 3.8-.9 2.4-.3 3-.5 3.1-1.6 2.9-.6 3.5-.3 2.5-.2 3.1-.9-.2-3.6 .4-2.3 1.1-4.2 .4-2.7 0-2.4-.2-3.2 .5-3.5 .4-2.4 .2-3.8 .1-2.3 .5-3.5 .3-2.8-.3-2.7 .8-3.4 .1-3 .8-2.9-.1-3.3-.4-3.1 .5-3.5-.2-2.7 .4-3.1 0-3.3 .2-3 1.3-3.2-.8-3.2-2.3 4.4-1.1 4.4-2.3 4.4-1.8 4.6-2.4 3.8-1.6 4.9-.8 4.2-2.1 3.5-2.1 5.4-2.1 4.1-1.1 4.9-2.5 4.1-1.8 4-1.7 4.1-1.3 5.2-2 4-1.2 5-2.3 3.4-1.9 5.1-1 4.1-4.6 2.3-4.4 1.6-3.8 2-5.1-1-4.4 0-4.8-.8-4-.7-4.5-1.1-4.7-.2-4.1-.7-4.7-1.1-5 .1-4-1-3.9-.7 4.4-.8 4.3 .2 4.5-.6 4.1-.5 4.9 .7 4.3-1 4.5-.5 4.8-.1 4.3-.7-1.8-3.6-2.7-4-1.2-4.1" fill="none" stroke="#9bb99b" stroke-width="1.0" stroke-linejoin="round"/>
<path d="M252.2 264.9l-3.9-1.8-1.5-2.4-3.2-2.5-3.5-2.9-3.4-2-2.9-2.7-3.1-2.6 4.2 1.1 4.2 .3 3.5 .4 4.1 .7 3.7 .4 5.1 .1 3.9 .5-.2 4.1-1.8 5 .1 4.8-.4 4.4-.3 4.5-.7 4.7-.7 3.3-.3 5.4-.2 4.3 .1 4.6 .5-3.1 0-2.8 .2-3.1 .3-3.4 .4-3.3 1.1-2.1 .2-2.8 .9-3.6 .1-3.3-.3-2.7 1.6-2 .4-4.2 .3-2-.2-3.4 .8-2.2 1-3.1 .6-3.2-.2-3.5 .9-2.5-.3-3.7 1.2-2.7 2.6 3.2 2.3 3.5 3.8 3 1.7 3.8-1.7-2.7-1.5-2.8-2.2-3.6-2.5-1.7-1.7-2.7-2.1-2-1.9-2.9-.1 3 0 3.2-.2 3.7-.5 3 .7 3.6-.5 2.8-1.3 4.5 .7 3-.5 2.8 0 3.6 .7 3.3-.1 3.3-.6 3.5 .6 3-.7 4-.1 2.9 .5 3.1-.8 4 0 2.7-1.1 3.9 .9 3 0 3.4-.6 3.6 .8-3.7 1.4-3.2 1.9-4.3 .8-3.2 .7-3.3 1.6-4.1 .7-2.4 1.6-4.4 .6-2.7 1.4-4.5 .5-3.5 1.1-3.3 .7-2.8 2-4.4 .3-3-2.4-1.9-3.3-2.3-3.6-2.6-3.3-.9-3.1-1.5-3.2-3-3.3-1-3.3-2.4-2.8-.7-3.1-2.5-3.4-.9-3.1-1.6-2.8-2.6-3.3-1.6-3.6-1.4 2 3.5 3 2.1 2 3.4 2 2.6 2.7 3.1 1.3 3.4 2.9 2.7 2.4 2.5 3.1 3.1 1.7 2.1 1.9 3.4 .6-5.4 .2-4.9 .8-4.2 1.5-5.4 1.1-4.6 .2-4.6-4.8-2.5-2.8-1.1-3.7-.4-3.7 .2-3.6 .5-3.2-.2-3.6-.4 1.7 1.5 3.5 2.6 2.9 .9 3.6 2.4 2.6 2.7 3.3 .8 2.3 3.9 2.8 1.4 3.5 2.4 3.7 1.1 2.5 2.3 3.4 2.1 2.5 2.3-4.7-3-4-1.9-4.2-1.8-5-2.8-4.5-2-3.9-2.5-4-1.5-5.1-2.5-4.1-2.7 1.6 4.2 2.7 3.6 1.9 3.1 2.3 4.1 1.7-3.4 1.2-3.5 1.6-2.6 1.4-3.3 1.8-2.7-4 .2-5.3-.1-4.4 .7 4.9-.5 4.7-.8 4.1-1.4 4.6-.1 4-.6 4.6 0 4.5-1.4 4.3-.4 3.7-.1-1.4 2.5-1.5 2-2.7 2.2-2.5 2.2-2.1 2.3-1.8 1.2-1.8 2.5-2.1 2.1-2.7 2.2-2.6 1.8-2 2.2-2.3 1.8-2.3 2.8-2.1 1.8-2.3-3.3-1.5-4.5 2.9 1.2 2.3 3 2.4 1.7 2.2 .9 2.8 2.2 3.3 3 2.6 2.2 2.5 1.5 2.1 2-1.1-4.8-2-5.2-1.2-3.6-2.5-5.7-1.6-3.8-1.3-3.9-1.5-4.8-2.6-3.6 .1 1.7-1 4.6-.1 2.6-2 3.7-1.4 3.3 0 3.5-1.1 2.5-.9 4.1-.7 3.6-.5 2.8-1.1 3.1-.5 4.4-.9 2.2-.2 4.5-.6 3.2-1.5 3.3-.4 3.6-1.5 2.5-.3 4.4-.7 2.9-1.8 3.5-.6 3.6-.3 3.3-1.3-3.2-.1-3.2 0-3.4 .1-2.8-1.1-3.5 0-3.6-.5-3.3-.6-3.4 .8-2.7-1.5-3.5-.8-3.9 .4-2.5-.2-3.2-.3-3.3-.4-4.1 0-2.8 0-3.1 0-3.4 .2-2.2 .2-4.5-.3-2.3-.1-3.6 .1-2.7 0-3.4 .2-1.8 0-1.6 4.3 1.8 4.8 .9 4.4 1.5 5.2 1.2 4.7 .9 4.6 2.1 4.9 1.7 4.4 1.4-4.2 2.6-4.3 1.6-4.2 2.7-3.9 3.1-4.5 2.5-4.2 2.1 2.3 2.4 1.9 2.7 .6 2.3 2.4 3.3 1.4 2.3 2 3.1 1.5 2 1.2 1.8 1.6 3.5 2.5 2.6 .8 1.6 2.4 3.4 1.8 2.5 1.3 2.3 1.8 2.1 1.5 2.9 1.8 2.5 .5 2 2.3 3.3 2.1 2.8 1.9 2.2 .6 2.8 1.3 2.6 2 2.1 3.2 .5 2.8 0 3 .5 2.9 .6 3.5-.3 2.8 .3 2.8 .9-.6-3.4 .8-2.6-.2-3-.4-3.2 1.1-2.8-.4-3.4-.8-2.3-.4-3.7-.1-2.8 .5-3-.9-3 .7-3.4 .1-2.4 0 3.2 0 3.7 0 3.8 0 3.7 .7 3.4 .4 3.9-.1 3.5-.1 3.6 .7 3.2 .2 1.7-.6 1-3.3 1.3-3.7 .9-2.7 1.4-4.3 1.1-3 .3-.2-3.1-2.1 3.7 4.8 .6 4.2-1.3 4.8-.5 5.5 0 .6-5.3 1.2 2.1-3 .2-3-.4-3.2 .9-2.8 .2-2.9 .8-3-.7-3.5 0-1.7-2.8-2.4-1.5-1.8-2.1-1.8-2.5-2.4-2-1.6-2.3-2.4-1.9-2.3-3.5-1.6-.9-2.2-2.6-1.6-1.6-2.7-3.3-.9-1.7-3.7-1.9-.8-2.5-2.6-2.2-2-1.7-2.4-1.7-2.1-3.6-2.1-1.7-1.3-2-2.3-2-2.5-1.7-2.9-1.8 3.4 2.2 1.7 2.2 2.5 2.5 2.9 3 2.4 2.5 2.1 2.9 2.3 2.1 2.4 2.8 1.9 3.2 3.4 2.2 1.8 2.2 1.9 3.3 2.7 1.5 2.2 3.4 2.6 2.5 2.8 2.4 2.3 2.6 2.5 3.5 2.1 1.6 2.6 3 3.7 .4 3.7-.2 3.4 .6 3.2 0 3.7 .1 3.9 .2 3.2 .4 3.7-.6 2.9 .4 4 .3 3.3 .7 3.5 .3 3.7 .3-3.1-.4-3 .3-2.3-.8-2.9 .8-3.8-.1-3.3 .4-2.8-.1-2.6-.8-3.2 .4-2.7-.2-3.5 .5-3.1-.3-3.4-.2-3-.4-.9-3-1.5-2.2-1.2-3.5-.3-3.3-3.2-1.8 .5-2.7-1.2-3.4-1.1-2-1.2-3.9-.8-2.2-1-2.8-1.7-3.5-.6-2.7-.6-2.5-2.6-3.4-.7-2.4-1-2.9 0-2.5" fill="none" stroke="#9bb99b" stroke-width="1.0" stroke-linejoin="round"/>
<path d="M318.3 298.1l.5-4.6 .9-3.9 .5-4.1-.1-4.8 1.7-3.5 .3-4.6 .7-4.2 1.3-3.5 .6-4.2 .7-5.5 .7-4 .8-4.1-.3-3.4-2 3.2-.9 5.5-2.3 4.4-1.2 4-1.6 4.5-2.1 5.8-2.5 3.1-1.3 5.3-2.2 4.3-1.7 4.9-.7 5.1-2.1 3.5-2.4 4.7-1.3 4.7-1.7 3.9-2.3 4.4-2.3 5.7-3.1-2.8-4.7-1.7-5.1-1.6-4.1-1-2.6-3.6-2.8-4.2-3.2-4-2.4-3.8-3.4-3.9-1.9-3.9-2.3-4.3-2.8-3.8-1.9-4.5-2.7-3.5-2.5-3.8-1.8-4-2-4-4-4.4-2.3-3.3-1.4-4.9-2.5-3.9-2.1-4-2.9-3.8-2.5-3.9 3.1 2.7 2.5 3.4 3.6 2.6 3 3.7 2.9 3.4 4 3.4 .1 2.7 .7 3.2-.8 3.7 1.4 2.9 .2 3.8 .3 3 .1 3.2 .4 3.4 .2 3.7 .8 2.4 .5 3.8-.2 3.2 .1 3.8 1.4 2.6-.6 3.4 .1 3.6 1.1 3.4-.2-3.3-2.5-2.9-.6-3.5-1.1-2.6-1.4-3.1-.6-2.7-1.2-2-1-3.5-1.2-2.7-1.3-2.8-.6-3.3-.7-2.4-1-3-.6-3.2-.9-3.1-1.9-3.2-.3-1.8-1.3-4.1-1.3-2.3-.4-3.7-.6-2.9-1.2-3.1 0-3.1 4.3 .2 4.5-.3 4.4-1 4.6 .6 .7 3.8 1.8 3.4 1.9 4 1.3 3.9 1.3 3.2 1.7 4.7 1.6 4.1 1.4 3.6 1 4 1.2 3.9 1.6 4.5 1 4.1 1.6 2.8 1 5.1 1.5 3.4 .5 3.5 2 3.4 1.2 5.3 1.1 3.4 4.3 .5 3.2 .5 4.8-.1 4.4 .4-4.5-.5-4.2 0 4.1 2.3 5 1.4 .7-4.2 1.1-5.3 1.4-4.1 .9-4.7 1.9-5.1 .6-3.6 2.5-5.7 .6-4.7 1.1-4.2 .9-5 1.5-5 1.3-4.7 .9-5 .9-5.2 1-4.4 1.8-4.6 2.9 .4 3.8-.4 4 .7 3.9 .4 4.1-.3-2 4.4-1.6 2.9-1.6 4.4-1.4 4.2-1.6 3.1-1.8 4.7-.4 3.3-2.1 4-1.4 3.7-1.8 3.4-1.7 4.2-1.9 4-.3 3-2.4 4.2-2.4 3.2-1.3 3.8-1.8 4.5-1.3 4.4-4.3-.8-3.9 0-4.4 .2-3.6-.1-4.3 1-4.6-.3-3.3-1.1-5.2-.9-3.5-.4-3.7-1.2-4.3-1.2-4.5-1.2-3.1-.7-4.7-.9-3.6-1.1-4.8 .5-3.8-1.8-4.1 .1-.9-3.5 .1-4.4-1.4-4.3 .1-4.2 .2-3.6-1.3-3.2-.4-4.3 .3-3.5 .3-4-.3-3.6-.3-4.2 1-3.4-.4-4.7-.3-3.5 .5-3.5-.6-2.5 .4-1.6 .3-2 3 1.7 3.6 2.6 3.1 2.7 3.4 1.7 3.7 2 3 2.6 3.4 2.3 3.8 1.7 3.7 2.1 3.5 1.3 1.1-2.2 1.9-3.6 1.7-2.9 3.2-3.3 .4-3.3 2-3.5 1.8-3.3 2.4-3 1.4-2.7 2.5-4 .8-2.7-2.7 2.5-2 .6-3.4 1.2-2.5 1.8-2.8 1.4-2.6 2-3.1 1.2-2 1.1-2.8 1.8-2.4 1.2-2.9 2.5-2.3 .7-2.7 1.7-2.2 1.9-3.3 1.5-2.1 1.4-2.9 2.3-1.6 1-2.8 2-2.8 2 3.6-2 3.7-1 3.5-1.5 3.9-1.8 2.6-.7 3.9-1.3 3.7-1.7 4.3-.7-.5 4.9-.7 5-.4 4.5-.7 4.8 .3 5-.3 5 .1 5-.5 5.1-1.1 4.9-.1 4.7-.4 4.8-.2 4.2-.6 5.6-.5 4.5 4.7-.1 4.6-.9 3.6 .2 4.7-.4 4.8 1.5 4.8 .9 4.6 1.3 4.6 .1 4.1 2.5 4.6 .9 4.2 .7-3.1-1-3.4-1.1-2.3 0-3.6-1.8-2.7-.2-4 .1-5.2 .3-4.3-.6 3.6-2.6-.1-5.1-.5-4.1-.1-4.8 0-4.7-.2-4.1 1-4.5 0-5.3-.1-4-.3-4.7 .5-4.8 .6-4.4-1.2-5.1 0-4.1 .1-4.8-.4-4.4 .6-5.1-.3 5.5-.4 3 .8 5-.4 4.3 .1 4.2 .9 4.3-.3 3.6-.8 4.8 .5 4.3-.2 4.6-.3 3.7-.2 4.9 .3 4.2 .1 4.2-2.7-3.3-1.5-2-2.2-3.2-1.8-3-1.6-3-1.8-3.6-2-2.5-2.2-2.9-1.1-3-2.2-2.6-1.8-3-2-3.1-1.8-2.8-1.6-2.8-1.8-2.1-3.1-3.5-1.4-2-1.4-3.8-1.6-3.4-2.2-2.3-1.6-2.8-2-3.2-2.2-3.3-1.9-2.3 .2 4 0 2.9 .1 4-.6 2.9-.3 3.8-.3 3.3 .3 3.6-1.1 3.4 .5 3.7 .4 2.7 0 3.8 .2 4.1-1 3 .2 3.4-.6 4.4 .1 2.7-.1 4.2-.1 2.9 .5-4.3 .7-3.9 .7-4 .1-3.1 .2-4.9 1.2-3.9 .1-4.4 1.1-4.7 .4-3.6 .5-4.6-1 4.3-1.5 3.7-1.4 3.2-1.4 4.7-.4 3.7-.3 3.3-1.2 4.1-.1 3.4-.7 4.3 .3 3.5 .1 2.9 0 2.5 .6 .9 3.1-3.7 2.6-4.2 3.4-4 3.5-3 3-3.5 2.8-3.8 4-3.4 3.7-3.3 2.7-3.9 2.4-3.6 3.7-3.2 2.1-4 3.8-4.7 3.3-2.6 2.9-4.9 2.8-2.4-2.3 1.8-3.2 1.2-3 1.6-2.7 1.9-3.1 1.7-3.3 1.3-2.7 2.4-3.2 1.1 .4-3 .9-2.8 1.5-3.4 1.1-2.5 .3-3.4 1.7-3 .6-3.4 .5 3.5-.5 2.8 0 3.8 .5 3.3 .4 3.5 .5 2.8 .3 3.1" fill="none" stroke="#9bb99b" stroke-width="1.0" stroke-linejoin="round"/>
<path d="M257.4 322.5l3.8-1.4 2.3-2.1 3.3-1.2 2.8-1.4 3.2-1.7-1.8-3.4-1.7-2.7-1.3-2.6-2.3-4.2-.8-2.7-1.7-3.5-2.4-2.6-1-2.7-1.1-3.5-1.7-2.8-1.7-3.1-1.8-2.7-2.1-3.3-1.5-3.3-1.1-2.8-1.4-3.5-1.8-3-2.2-1.9-1.1-4.4-1.6-2.6-1.6-3-2-3.8-1.2-3.2-1.9-2.2-1.6-3.7-1.5-2.5-1.5-3.2 4.5-1 5.4-.7 4.6-1 4.9-1.6 4.6-.6 4.2-1.2-3.6-.3-5.6-.1-3.9 .1-4.5 1.1-3.8-.1-5.1 .2 0 6.1-1.1 3.9-.4 5.5-.4 3.9-1.4 5.1-.4 4.6-.4 4.9 .7 5.2-1.5 4.6-.1 5 0 5.1-.3 3.4 .1 5.4-.9 5.6-.9 4.1 .1 4.9 1.8-3 2.6-3.2 1.9-3 3.1-3.4 2.3-3 1.6-3.3 1.7-2.7 2.5-3 2.1-3.7 2-2.8 2.6-3.6 2-3 1.4-3.4 3.2-2.2 2.2-3.3 2-3.4 2.6-3.5 2.8-4.7 2.4-3.1 3.3-3.3 1.5-4.6 2.5-3.9 3.6-4-.3 4-.3 3.1-1.6 3.4 .2 4.6-.6 2.7-.7 3.3 .3 3.4 0 4.4-.2 1.8-1.3 4.4-.4 3.7-.1 3.4-1.1 3.1-.4 3.1-.5 3.5-.3 4.3-.8 3.6 .3 2.9-.8 3.3 1.1 3.9 .5 4 .4 4.6 .9 4.1 1.2 3.5-.2 4 1.5 4.2 3.2-1.6 3.6-1.6 4.6-.4 3.5-2.2 3.9-1-3.6 .4-3.2-.3-3-.8-3.7 .4-3 .5-3.2 .2-4.5 .1-2.8 .3-2.7-.1-3.3-.2-3.1 .1-3.3 .7-3.8-.6 4.1 .5 3.3-.8 3.9 0 3.6 .4 3.7-.7 3.4-.2-.3-4-.3-3.3-1-3.6-.5-3.3-1.1-3.4-.7-3.9-.9-3.6-.4-3.6-1.5-3.4-.2-3.5-.4-4.1-.7-3.9-1.1-2.6-.4-4.1-1.1-3.5-.4-3.6-.1-4.5-.9-2.8 1.3-3.6 2.9-2.4 2.2-3.2 1.1-3.5 1.7-3.2 2.5-2.8 1.5-2.3-2.8 1.6-2.2 1.4-2.7 1.9-2.4 2.3-1.9 1.5-2.7 1.4-3 2.1-2 2.1-2.7 1.3-3 2.6-1.8 .8-2.2 1.8-2.2 2.4 3.8-.3 2.8 .8 4.3 .9 4.1 1.5-2.6 2.4-2.6 4.7-.6 4.4-3.1 3.8-2.1 3.3-3 3.1-.4 5-2.2 4.1-1.2 3.6-2.6 4.7-1 3.5-1.8-4.7-.9-4.2-.9-4-1.6-4.6-.8-4.4-.1-4.3-.6-4.1-.5-4.4-1-4.4-1.1-3.7-.9-4.7 3.8-.7 4.5 0 3.9-1 4.4-.3 4.2-.5 3.1-.7 4.5 0 4-.3 3.8-.7-2 4.9-.7 4.6-1.7 4.4-2-3-1.9-3.9-2.7-2.1-1.4-3.2-2.2-4.3-2-2.2-1.6-3-2.4-2.4-1.2-3.4-2.3-3.7 3 3.1 1.8 2.5 2.6 2.7 2.4 2.8 1.6 3.7 2.9 2.4 2.4 3.5 2.6 3.5 2.9 2.7 2.1 2.5 2.5 3.2-3.1-1.4-2.5-2.6-2.1-2.6-2.2-1.3-2.6-1.8-2.4-3-2.6-1.9-1.5-2.1-3.2-2.2-1.7-2.3-3.1-2.1-2-2.2-2.7-1.7-2.7-1.6-2.6-2.5 2.9 1.7 3.4 2.1 3.1 1.1 2.4 .8 3.5 2.5 3.1 1.5 2.5 1.7 3.3 1.9 2.7 1.6 2.8 1.3 3.1 1.8 3.3 1 2.7 2.2 2.9 1.4-3.5-.1-4.3-.7-3.9 1.5-5.2 .2 .2 4-.6 4.1-.1 4-.1 3.7-1.1 4.6 .2 3.7-.5 4.4 0 3.6-.5 4.9-.5 3.6-.3 4.5-.9 3.8 .1 4 .7-3.2 1-3 .1-3.3 1.7-3.2 1.1-4.1 .8-2.1 1.1-4.3 1.2-2.4-.5-3.8 1.8-2.5 1.2-4.2 1-2.7 1.1-3.4 .9-2.9 .2-3.2 1.4-3.4-3.2-2.3-3.2-3-1.6-1.7-3.8-2.4-2-2.8-2.1-2.2-3.1-2.5-3.1-2.1-2.8-2.6-1 4.1-.9 5-1.7 3.8-1.2 4.6-1.1 4.4-.8 3.1-.3 2.8-.6 2.7-.8 2.7-.1 3.4-.6 3-.6 2.4-.9 3.6 0 2.8-.8 3-.4 2.7 .1 3.4-.4 3.2 3.1-2.8 2.9-2.6 3.6-2.5 3.5-3.7 2.9-2.1 3.8-3.4 3.4-2.1 3.4-3 2.7-3.2 3.8-3.4 3.3-1.8 3-2.7 3.7-2.7-1-3.1 .3-4.9 1.2-4.4 .9-3.3-.2-4.4 .3-4.3 1-3.7 .5-3.6 1.1 3.1 3.3 3.9-.6 2.8 .6 2.6 0 4 .3 4.1-.1 2.9-.4 3.4 .8 2.9 .2 3.1 .1 3.9-.1 3.2 .1 2.8 1 4-.3 2.7 .3 3.2 .2 3.9-.1 3.1-.1 3.8 .4 3.8-.2 2.3 .2 4 .4 2.1-1.1 4 1 3.6-2.4 2.7 3.7 1.8 2.9 1.3-3.9 .3-3.2-2-2.1-3.2-1.5-4.1-2.7-2.6-.4-3.7-2.7-3-1.4-2.9-2.2-2.9-1.5-3.9-1.6-3.2-2.7-2-1.3-4.2-2.4-3.4-1.7-3.2-1.3-2.9-1.3-4.3-1.4-2.7-2.9-3.2-1.2-3.8-2.4-2.8-.5-4-1.8-3.7-1.8-2.8-1.8-3.2-1.7-2.5-1.8-3.8-2.4-3.6 .8 3.8 .2 3.7-.3 4.1 .5 3.7 .3 4.5-1 2.9-.7 3.2-.3 2-.3 3.6 .2 3.2-.3 3.4-.3 2.6-.2 3.7-.8 3-.4 2.9-.3 2.9-.2 2.7 .7 2.8-1.3 3.5 .1 3.2-.4 2.8 .2-4.1-.5-4.4-.5-4.3 .9-5 .2-3.6 .9-4.4-.9-4.8 .7-4.8-.1-3.8 .5-4.4 1.5-4.4 .2-4.6-.7-3.8 .5-4.6 .6-4.1 2 4.7 .7 5.1 1.2 4.7 1.1 4.8 1.7 2.3 .8 3.9 .9 3 1.2 3 1.4 3.2 1.1 3.1 .4 2.4" fill="none" stroke="#9bb99b" stroke-width="1.0" stroke-linejoin="round"/>
<path d="M252.9 279.1l.6-4.5 .5-3.7 1.6-4.7 .6-3.9 2.2-4.1-.1-3.6 .9-4.3 1.3-3.9 1.5-3.5-3.4-1.6-5.4-1.3-3.8-1-3.6-1.6 3.6-.4-2.9-2.3-2.3-1.2-2.6-2.2-2-2-2.8-1.5 4.5-1.7-5-.5-3.4 0-.9 3.3-.1 4.5 0 4-.5 4-.3 3.5 0 5.4 .5 5.8-.5 4.5 .6 4.3 0 5.5-.4 4.7 .3 5.3 0 5.3 .2 4.3-1.1 5.7-.1 4.6 .7 5.8 .7 4.4 2.5-4.4 1.7-3.1 3.1-4.7 .6-3.3 2.8-3.5 3.3-4.3 3.7-3.5 1.9-4.1 2.2-3.6 3.4-3.4 2.5-3.6 1.3-5-.3-4.1-.6-5.4-1.5-4.8-.3-5.7-1.1-3.9 0-4.6-.8-5.6 1.6 4.5 2.5 4.4 2.4 4.8 1.1 5.1 2.8-4.1 1.5-3.1 2.7-3.6 1.7-4.2 2.4-3.3 1.6-3.2-.2 4.6-1 4-.3 5.7-.8 4.1-.1 5.2-1.1 4.2 .1 4.3-1 5.1-.6 4.5-.2 4.8-1.1 4.8-1.7 5 .5 3.3-1 5.8-.1 4.8-.5 4.5-.6 4.2-1 4.8-.5-2.9-.6-2.8-.3-2.7-1.6-3.3-.1-2.5-1.3-3.4-.8-2.7-1.3-3.9 .1-2.5-1.2-3.5-1.2-2.6-.3-3.1-1-3.2-.9-2.4-.6-3.9-.9-2.6-.6-2.9-.9-3.2-.6-2.4-1.7-2.4-2.6-3.5-2.5-2.3-2.8-3.4-1.6-1.8-1.4-3-2.6-2.1-2.6-3.1-1.9-2.5-2.5-1.9 2.4 2.9 2.4 4 1.6 2.5 2.8 3.8 2.7 2.8 3-.7 2.8-1.3 2.7-.6 4-.9 2.2-1.2 4.3-1.4 2.9-1.2 3.2-.9 3.6-.3 2-1.9-3.8 .1-3.9 .5-3.6-.1-3.1 .2-4.2-.4-3.8-.1-3.7-.1-3.8 0-4.4 2.7-3.3 3 3.3-.6 3.3-1.3 4.5-2 2.8-1.2-1.9-.9-3.9-.6-2.4-1.4-3.9-1-3.3-1.3-3.2-2.3 2.3 4.6 2.3 3.4 1.5 3 1.8 3.5 2.3 3.6 2.1 3.4 .9 3.7 2.8 3.4 1.2 3.6 2.1 3.2 1.8 3.4 2.3 3.7 1.7 4.2 2.1 3.2 1.4 3.3 1.7 3.1 2.6 3.1 1.7 4.2 1.7 3.9 2.6 2.9 1.2 3.2 2.3 3.9 1.7 4.2 2 2.8-1-2.7-1.8-4.9-1.2-2.9-1.8-3.3-1.6-3.7-1.1-4.1-1.4-2.8-1.5-3.6-2-3.2-1-4.2-1.8-3.2-1.6-3.1-1.9-3.6-2-3.7-1.5-3.9-1.7-3-.9-3.2-1.1-3.7-1.5-3.9-3 3.6-3.3 3.5-2.3-4.2-.5-3.6-2.5-4.5-1.5-3.8-2.1-4.3 4-.7 3.8 0 3.4-.8 3.9 .1 3.5-.6 4.7-.4 2.6-.7 5-.2 3.1 .5 4.2-1.2 3.6-.1-1.1 3.3 0 3.6-.2 1.9-1 3.6-.5 2.8-.2 3.5-.1 3.1-.9 2.8 .2 3.5-.5 2.8 .1 3.1-.7 2.8-1 3.7 .2 2.1-1.3 3.2 .3 3.2-.2 2.8-1.9 2.9 .6 2.9-.9 3.9-.7 2.7 .6 3-1.6-4.1 .3-2.6-.7-3.9 .6-4.1-.2-3.1 .2-3.5-1.2-2.7 .8-4.3-.6-3-.6-4.2-.1-3.9-.7-2.7-.5-3.3-.3-3.8 0-4.1-.5-2.9 0-3.4-.1-3.6-.1 3.9-.1 3.8-.4 3.7-1.1 4.4 .2 3.5-1 3.5 0 3.4 1-2.7 1.7-3.8 2-2.2 1.7-2.4 1.2-2.7 1.5-3.7 1.2-3.2 2.1-2 .9-3.5 1.9-3.4 .8-2.8-2.5 3.5-3.1 2-3.7 3.1-3.2 3.2-2.5 2.9-3.1 2.6-4.1 1.1-2.9 .3-2.9 .5-3.5 1.3-2.9 1.1-3.2 .3-.3-5.5 .3-4.8-.3-5.1 2.8-.2 5.5-.9 3.8-.4 4-2.2 1.7 4.2 .9 5.5 .9 3.6 2.1 4.7 1.3 3.9 1.5 3.6 1.4 6.1-.2 3.6-.2 5.4 1.1 3.8 .7 5.2 .3 3.5 .2 5 1.4 3.9 .2 5-.3 4.2 1 5.3 .5 3.8 .6 4.1 .1 4.4-.5 5 .8 4.9 3.2-.4 3.8 .2 3-.2 3.1 .7 3-1.1 3.7 .4 3.7 .4 3.4 0 3.2-.4 2.8 .7 3.7-.5 3.6 .6 3.2 .1 3.4 .5 3.8-.8-2.5-3.9-4.1-.5-4.1-.8-4.4 0-3.9-1.6-4.6-.5-3.5 0-4.7 0-4.3-.2-4.5 1.3-4 .2-3.7 .9-4.3 .2-4.8 .5-4.6 .2-3.2 0-4.1 1-4.5 .3 4.8-1.2 4.2-1 4.2-2.4 4.4 .1 4.7-1.3 4.2-1.4 4.7-1.3-1.9-4.1-2-3.2-2.6-4.4-1.9-3.9-2.4-4.4-1.7-4.1-1.5-5-1.4-3.6-2.4-4.4-2.4-4.6-1.5-4.2-.7-4-2.9-2.6-3.5-.6-3-1.6 1.3 4.5 .7 5.2 1 4.4 0 4.2 1.1 5.1 1.1 4.8 .5 4.4 .5 4.2 .5-4 .7-4.2 .4-4.1 0-3.5-.8-4.5 .5-4.1 .3-3.5-1-4.6 .8-3.5 .1-3.7 1.4-3.9-.6-4.3 .5-4.3 .4-4-1.2-4.6 1.2-3.3 3 3.3 2.5 2.6 3.2 2.9 3 2.5 3.5 3 2.5 3.2-3.4-2.7-1.8-2.7-3.1-2.2-2.5-3-2.7-3.1 .6 4.1 1 3.9 0 3.9 .8 2.9 .5 4.1 .9 2.9 1.4 4.8-.3 4.2 .9 2.3 1 4.2-.4 3.4 1.5 3.4-.1 3.7 1.3 4.2 .1 3.6 .6 2.9 .7 4.3 .3 3.3 1.2 3.9-2.1-3.5-1.4-3.5-2.3-4.3-1.7-4-2.4-3.7-1.3-3.1-1.1-3.3-3.2-3.6-1.5-3.4-1.8-4-2.2-4.1-2.1-3.6-2.4-3.5-1-3.8-2.2-3.7-2-3.6-2.1-3.1-1.9-4.2-2.1-3.8-1.7-3.1-2.2-3.8 2.8 .2 4.2-.5" fill="none" stroke="#9bb99b" stroke-width="1.0" stroke-linejoin="round"/>
<path d="M325.1 291.1l-4.1 3.2-3.2 2.8-3.9 4-4.4 2.5-4 2.9-4.1 2.2-4.7 2.1 .3 1.8-5.4 .4-4.6 2.2-4.4 .6-5.4 1.8-4.7 1.2-4.3 .8-5.2 1-5.6 1.3-4.3 1.1-4.5 1.7-5.3 1.2-4.6 .6-4.7 1.5-4.7 .4 3.2-.6 4.1-1.2 3.6-.6 3.4-.2 3.9-1.9 3.5 .1 4.1-.6 3.9-1.8 3.5-.2 2.7-.5 5.2-.1 3.2-1.7 4.1-.6 3.6 .3 4-1.3 3.5-.2 3.9-.4 3.4-.8 4.2-1.3 .2-3.2 .2-4.1 .2-3.9-.2-4.4 .6-3 .3-4.2-.1-3.4 .3-3.3-.2-4.9-1-3.3 .6-3.7 .2-4.2 .2-3.3 .1-4.2-.4-4.1 .2-3.7 .1-4 .4-3.1-.2-3.1 3.4-1.3 3.9-.8 3.9 0 2.9-1 3.5 .3 2.9 3.8 4 1.4 5.2 1.5 4.5 1.2 4.9 .6-3.4-.7-3.7-.3-3.3-1.4-2.9-.3-3.5-1-4.5-.2-2.5-1.1-3.2-1.1-3-.8 3.7-.4 .7 3.6 1.2 4 .8 2.8 1.1 4.5-.4 4.1 .3 3.3 .1 4 1.2 3.8-.2 4.2 .9 3.3-.1 3.9 .1 4.5 1.4 4 .6 4.4 .1 3.4 .7 3.2 .4 5.1 .1 3.5 .3 3.9 1.2 3.8 .4 3.8 .1 3.1-3.6-.6-3.4-1-3.7-1.2-4.1-.1-4.6-1.2-2.8-1.3-3.5-1-4.6-1.7-3.7-.7-3.2-1.3-4.2-.2-3.4-1.7-3.6-1.5-3.8 .3-1.6-3.2-2.3-3.5-1.5-3.8-2.4-2.5-2.6-3.2-1.8-4.3-2.3-2.8-1.9-4-2.2-2.8-1.6-2.8-1.9-4-2.8-2.8-1.5-3.8-1.6-2.7-2.3-3.6-1.8-4.5-1.9-2.3-1.3-3.6-2.4-3.7-1.7-3.5-2-3.1-1.9-4-2.4-2.2-1.7-3.8 4.8 1 5 1.8 4.3 .1 5.4 1.8 3.9 .9 5.1 1.4 5.5 1.6 4.1 1.4 4.2 1 4.9 .2-2.4-1.6-2.7-1.1-3.2-1.6-2.7-1.4-3.5-1.8-3.3-1.1-3.4-1.5-2.4-1.8-3-1-3.1-1.2-3.4-.9 3.7 .7 2.9 1.5 3.1 .8 3.2 .5 2.9 2.5 3.4 1.1 2.4 1.2 3 1.1 3.1 .8 2.6 .8 2.5 3.2 .5 3.6 .5 5.2-1.1 4.5 .8 5.5 .7 3.5 .3 4 .2 4.6-.3 5.6 0 3.2 .9 4.9-1.3 4 .6 5.1 .4 4.1-.6 4.8 .4 3.9 3.8 2.3 4.5 2.3 3.4 2.4 4.1 1.3 4.1 2.1 .7 4.1-4.7 .1-3.7 1.3-4.1 .8-3.8 1.7-.5-3.7 .1-5.7-.7-3.7-2.3-4.7-1.5-4.3-3.1-2.6-2.9-3.8-2.1-4.4-2.6-4.4-1.6-3.9-2.7-3.9-1.9-4.2-2-3.5-2.6-4.1-2-4.5-2.6-3.5-2.4-3.5-3-4.8-1.5-3.6-2.3-3.7-2.5-4.2-2.3-4.3-2.2-3.3-2.6-4-2.4-4.3 3.7 2.5 4.2 4 3.8 1.6 3.7 3.2 3.8 2.6 2.7 3.4 2.9 2.9 1.8 3.2 3.2 3.2 2.7 3.2 1.8 2.3 4.1-.5 3.4-1.6-3 3.8-1.8 1.9-3.7 2.9-2.2 2.3-2.8 2.2-2.6 2.8-2.5 3.3-3.9 1.8-2.1 2.3-3.1 3.4-1.8 1.6-3.9 2.6-1.8 2.7-3.3 2.6-2.4 3-.1-4.2 1.2-4.1 .9-4.2 .1-3.6 .5-4 .3-3.7 1.4-3.9 1.7-3.8 .1-3.4 1.1-3.6 .6-3.7 .9-3.6 .7-3.2 .8-3.9 .6-3.4 .7-3.6 .1-3.1 1.2-4 1.3 3.6 .4 3.7 2 4.1 1.2 3.6 .7 3.5 1.1 3.9 .6 4 .8 3.5 .3 4.2 .6 3.5 .9 4 .3 4.6 1.4 3.8 .6 4.2-.3 3.9 .9 4 1.1 4.4-1.4-2.7-1.1-3-1-2.8-1.9-3-1-3.3-1.2-3.4-2.4-2.9-1.1-2.7-.4-2.9-1.6-2.9-1.9-3.3-1.6-2.4-1.1-2.8-2.2-2.9-1.2-3.3-1.2-3-1.5-2.2-.5-4.9-1.8-5-1.5-4.4-1.9-5 1.7 4 4 5 2 3.4 1.6 5.2 2.8 3.2-2.1-1.8-2.9-1.5 1.8 3.9 2.3-2.3 3.7-1.4 2.9-2.2 3.3-1.4 3.1-2.5 2.9-1.1 3.7-1.8 3.4-1.8 3.1-1.1 2.8-2.1 2.5-2.2 3.6-1.1 3.4-1.9 .7 2.9-.4 3.5-.2 3.6 .4 3.3 .3 2.8 0 3.5 .3 3.4 .9 3.2-.5 2.7 .8 2.8-4.7 .6-4-.6-4.8-.1-4.9-1-4.5-.7-4.7 .4-4.4-.8-4.7-.1-4.2-1.3-5.1-.4-2.1 4.5-1 3.4 1.5-2.5 2.3-3.2 2.4-2.6 2.3-3.3 2.8-3.3 1.5-3.2 2.4-2.3 2.6-3.6 1.5-2.2 2.8-3.3 2-3.1 2.8-2.8 .5 4.4 .3 4.3 1.8 4.7 .2 4.2 .5 3.6 1.1 4.6 1 4.6 .3 4.7 1 3.1 .6 5.3 1.3 4.1 .9 4.5 .8 4.3 1.2 5.6-.4 3.2 1.2 5.1 1.1 3.3 .8 4.6 1.1 4 0 5.1 5.5 .8 3.5 1.2 4.8 .3 3.7 1.5 5 .7 3.8 .7 2.5-3.8 2.8-3.5 1.5-3.3 2.1-4.5 2.6-3.5 2.6-3.5 1.8-3.9 3.1-4.5 1.3-4.1 2.7-4.3 1.6-2.6 2.6-4.3 1.6-3.9 2.3-4.6 2.1-2.8 2-4.8 1.9-4.3 2.6-3.6-2.8-3.1-1.7-4 3.5-2.3-4.2 .7-3.7-.1-4.4 .3-3.9 .2-4.6 .4-.1 4.4 .4 5.5 .7 4.5 .7 4.8 .9 5.5-.6 3.5-.6 5 1 4.9-.6 4.4 .2 5.2 .5 4.7 .1 4.7 .6 5.1-.2-5 .2-5.4-.3-4.4 .9-5 .4-4.9-.8-4.5-.1-4.4 .7-5.4-1.1-4.4 .7-4.8 .1-4.6 .8-5.6 1.2-1.3 2.6-3.4-1.2 3.1-.1 3.1-1 2.6-.6 3.2-.4 4.5-1.2 2.7-.4 3.5-.9 2.8-.4 3.2-1.3 3.5" fill="none" stroke="#9bb99b" stroke-width="1.0" stroke-linejoin="round"/>
<path d="M283.2 322.5l3.8-2.7 4-2.5 4-1.8 1.7-4.4 1.4-4.2 3-4.2 1.6-3.9 1.3-4.1 1.7-4.6 2.3-4.4 1.3-3.3 2.4-4.6 1.6-4.8 1.7-3.8 1.7-4.5 1.7-3.8 2-3.9 1.8-3.5 3.3-4.7 1.5-4.4 1.6-4.4-.7 4.5-.2 4.6 .4 3.3-.4 3.9-.9 4.7 0 4.4 .1 3.9 .4 3.8-.6 4.1-.9 3.8 0 4.7-.1 4.1-.1 4.1 .1 4.8-.6 3.6-.3 4.8 .7 3.4-1.6 3.4 0 4.7-4.3-.3-4.1-.6-3.7-.5-5.1 .3-3.8-.7-4.1 .5-3.3-.5-4.9 .4-4.3 0-4.2 .4-4.4 0-3.6-.4-1.7-3.9-1-3.5-2.5-3.5-1.5-4.6-1.2-3.3-2.6-3.5-2-3.6-1.2-3.7-1.9-4.4-1.6-3.5-1.5-4.3-1.5-3.8-2.2-3.8-.9-3.1-2.7-4.3-1.2-4.1-1.8-3.1-1.5-3.9-2.4-3.6-1-4.1-1.8-4.6 3.8-1.9 1.9-1.8 2.7-1.4 2.7-3.4 2-2.1 1.5 3.8 .9 3.7 1.9 3.8 .3 4.7 1.6 4.2 .2 3.7 .8 4.6 1.8 3.4 .7 4.1 1.9 4.8 .8 3.2 .2 4.6 2 3.6 1.2 4.1 1.4 3.9 1.4 4.3 1.6 4.2 .3 3.2 1.5 4.1 .7 3.4 1.8 4.4-4.9 .6-4.5 .2-3.6 1-3.8 .3-4.1-.2-4.8 .1-3.4 1.5 4.1 .6 5.2 1.2 3.9-.2 4.8 .4 3.7 .9 5.2 1.7 4.2-.2 4.5 .8 5 1 3.5 1.4 5.3 .5 3.2-.1 2.7-4.1 1.8-4 1.9-4.3 1-4.9 2.5-3.7 3.2-2.9 1.2-4.9 2.1-4.4 1.3-4.3 2.2-4.2 1.5-3.8 1.3-4.8 2.1-4 3.2-3.2 1.5-5.3 .9-3.6 2.3-4.5-3.9 .4-2.8-.6-3.9 .1-3.8 .1-2.2-.4-4.2-.6-3.5 .7 4 .1 2.6 .1 4.1-1.2 3.3-.8 4-.7 2.9-.4 4.5-.1 .3-4.1-1.9 4.4-2.3 4.4-2.4 4.9-2.6 4.8-1.7 4.1-1.9 4.6-2.3 4.9-1.9 5.1-1.8 4.2-2.2 4-1.6 4.8-2.6 4.7-1.7 4-2.2 5.7-3.2 3.4-1.7 4-5.6-1.2-4.4-.2-5.8-.6-4.5 .8-4.9-2.9-4.1-2.2-4.3-1.5-4.3-2.3-4.9-2.1-5-2.2-3.2-2.1-5.1-2.8-4.5-1.8-4.7-2.2-4.8-2.1 .5-3 1.4-3.3 1.3-3 1.8-3.3 1.1-2.3 .2-4.5 1.3-2 1.2-3.5 1.1-3.1 .7-2.7 .3-3.3 2-2.6 .7-3.8-.3 4.1 .5 3.1-.5 4-.6 3.9-.4 3.7-.6 3.7 .4 3.2 .9 4.7-.3 3.2-.3 3.6 .6 3-.2 4.9-.1 2.6-.7 4 1 4-.1-3.2 0-2.7 1-3.9 .2-3-.3-3.1 .4-3.7 .6-3.6 .5-2.5 .4-3.1 .4-3.2-.4-3.4 1.3-3.6 .3-2 0-3.7 .8-3.6 1.5-3.5-.9-2.6 .7-3.6 .1-3 .9-3.4-2.1 4.4-3.3 4.4-1.8 4-1.6 4.8 4.3 .7 2.3-3.4 3.7-3 2.1-3.2 3.4-3.5 3-3.4 3.1-3 3.1-3.2-.1 2.9 .9 2.9 0 3.4 2.7-3.9 1.9-3 1.7-4.9 2-3.4-3.1-.7-4-1.3 .9 4 1.2 2.1 1.6 4.1 1.6 2 1.6 4 .7 2.5 1.8 2.8-.4 5-1 3.8-.1 4.3-.8 4.6 .5 4.4-.4 4.6-.5 4.3-.3 4.1-.6 4.6 0 3.8-.5 4.5-.5 4.5-.4 4.4 .3 4.9 3.6-.7-1.6-3.6-3.1-4.1-1.7-2.7-2.4-3.9-3-3.9-1.3-3.6-1.9-4.2-1.4-3.7-2.6-3-2.2-4.6-2.3-3.6-1.6-3.2-1.1-4.2-3.4-3.7-2.4-3.3-1.9-4-1.9-3.6-2.3-4-2.1-3.9-2.8-3.3-1.7-4.3-1.4-3.1 4 .5 4.7 .4 5 1 4.5 .3 4.8 0 4.2 1.1 5.1 1.1 4.4 .5-3.4 0-5.4 .9-3.7 .2-4.9 .1-3.3-1.6-3.3-2.4-4.1-2 3.2-.8 3.4 .3 3.5 .3 3.2-.6 3-.3 3.6-.5 3.9 1.3 3.1-.8 3.6-.1 3.2 .6-1.1 4.8-1.6 4.1-1.9 5.2-1.7 3.9-2.1 4.4 .5 3.1 .6 4.7-.1 3.5 .3 3.4 .6 3.3 .2 3.7 .1 3.3 .1 3.6 .8 4.2-.1 3.5 .5 3 .4 3.5 .2 3.2-.1 3.9 .5 3.1 .8 3.7 .3 3.6 .1 3.4 0 4.3-.2-3.6-1.7-5-1.3-3-.4-4.4-2.4-2.3-1.4-4.2-2-4-.8-2.6-2.6-3.7-1.2-4-2-3.9-1-2.4-1.6-4.5-1.5-3.6-1.1-3.5-2.8-3.7-.6-5-1.1-4-1.7-4.5-.6-5.1-1.5-4.2-1.2-5.5-.5-5.1-1.3 3.5-2.5 3.3-1.1 3.9-2.1 3-1.4 3.7-1.1 3.6-2.4 4.3 3.6-1.3 2.7-.7 2.4-.4 3.5-1.1 3.4-.8 4.1-1 3.5-.8 3.6-.7 3.9-.4 2.7-1.3 4.6-1.3 4.1-.8 3.1-1.6 3.3 .1 .1-3.5-4.2-1.2-5.1-.9-4.5-.4-4.5-1.4-4.7-.9-4.8 .1-4.6-1.6-4.8-.6-4.5-1.1-4.1-.9 3.8 2.9 4 2.7 3.9 2.5 4.5 2.1 3.4 2.6 4.6 2.7 4 2.2 4 3.8 3.5 3.3 4.4 2.7 4.8 2.3-4.2-2.5-4.1-2.4-2.7-2.4-3.8-3.1-3.4-2.9-2.9-2.4-3.2-3.3-3.8-3.3-3.4-1.5-.4 4.4 .2 4.6-1 4.1-.2 4.6 .2 3.9-.4 5.2-.7 4.5-.1 4.4-.4 4.7-.3 4.7 .7 4-.6 5.3 .2 4.4-.2 4.3 .7 4.4-.5 4.3-.1 4.6-.8 4.3 2.9 .6 3.7 0 3.3 1.2 2.7-.2 3 .3 2.9 0 2.9 1.1" fill="none" stroke="#9bb99b" stroke-width="1.0" stroke-linejoin="round"/>
<path d="M404.5 235.2l-4.2-1.8-2.5-2-4.1-.9-3.7-2.5-4.1-1.1 1 3.6 1.3 4 1.8 3.4 .9 3.2 1.5 4.2 2 3.8 .5 3.2 2 3.4 1.3 4.1 1.4 3.1 .6 3.4 1.7 3.9 1.8 3.7 1.5 3.6 .5 3.4 2.6 3.8 1 4.2 1.7 3.2 2.2 3.4 2 3.4 1 2.8 1.3 4.3 .9 3.2 1.8 4.8 1.8 2.6 1.4 3.1 3.7 2.4 3.3 .6 4.2 .1 3.6 .8 3.4 1.2 4.6-.2 3.5 1.5 3.5-.2 4 1.7 3.9 1.6 3.3-.3 3.9 .5 4 1.7 4.8 .4 3.1 .6-4.7-.7-3.8-1-4-1.3-4.3-1.3-3-.5-4.3-.9-4.6-1.5-3.2-1-4.5-1-3.9 .3-5-1.9-2.5-1.2-4.3-1.5-1.7-2.6-1.9-4.6-1.2-2.9-3-4.1-1.3-3.7-1.5-3.9-2.5-3.2-1.9-4.1-2-3.2-1.8-4.7-2.3-3.2-.7-4.4-1.7-3.7-2-3.4-.9-4.2-1.8-3.3-2.1-4.1-1.2-3.1-2.6-3.8-1.4-3.5-1.7-3.5-1.7-3.6-2.3-4.7-.8-4 1.4-4.4-1.5 4.2 0 3.4-.4 3.6 .3 3.1-.7 2.9-1.1 3.4-.5 3.9-1 3.5-.6 3.7-.3 3.9 .1 3.3-.4 3.5-.8 2.8 .1 4.5 .3 2.9 .2 3.8 0 3.7 .1 3.9-.1 3.4-.2 2.8 .3 3.6-1.2 4.5 0 2.3 .7-5.1 .8-3.2 .5-4 .2-2.9 0-3.9 .1-3.3 .3-3.5-.5-3.7 1.1-4.1-.6-3.8-.2-3.4 1.3-2.8 .6-5.2 .1-3.1 .9-4-.3-3.1 .1-3.2 .7-3.8 0-4.2 4.1-1 5.8-.5 3.6-1.4 4.8-.4 4.4-1.7 5 0 4.5-1.2 4.8-.5 4.1-1.5 4.5-.5 4.9-1.2 .5 4.4-.1 3.8-.5 5 .2 5.2 .4 4.8-.3 4.9-.1 4.2 .8 4.4 .5 5.1 .6 5.2-.3 4.4 .1 4.3-.2 5.7 .6 4.3 .2 4.5-.2 4.3 .4 5.4-.1 3.8-.1 5.6-.6 4.6 4.7 1.1 5.5 .1 4.7-.4 4.2 .3 5.6 .4 4.1 0 4.1 1.4 5.2 0 4.3 .9 5.3 .4 4.5 1.1 4 1.4 5.3-.6-5.3 .2-4.9-.9-4 0-4.7 0-5.9-.4-4.6-.6-5.1-.2-4.6-.6-4.3 .4-4.6-.2-5-.6-5.2-.3-5.4-.4-4.1 0 3.3 .9 4-.7 4 .8 3.4-.1 4.3 .5 4.1-.4 3.7 .7 3.5-.2 3.8 1.1 3.9-.7 3.9 1.4 3.9-1-3.9 1.1-3-.3-2.8 .8-3.8 1.5-2.9-.5-3.6 1-2.7 .4-3.3 .4-3.4 1.5-3.8 .9-.5-4.9-2.6 .2-3.3-.5-2.9-.4-3.8-.4-2.6-.9-4.8-1-2.9 .4-3.4 0-3.3-.5-3.2-.5-3.1-1.1-3.7 .9 3.4-.7 3.5 .2 3.6-.7 3.5 .9 2.6-.7 3.2 .8 3.5 .7 3.3 .2 3.5-.7 3.1 .6 3.2 .6 3.4-.8 3.6 .3 2.9 .9 3-.5 4.1 .9 2.9 .2 3.7-.4 3.3-.4 2.9 .2 3.8 .3-5.1 .3-4.3-.6-6 .6-4.1 .2-4.5-.5-4.6 0-5.5-.1-4.6 .3-4.4-.1-4.7-.7-5.3 1.1-4.5 .1-4.5-.8 4 1.1 4.9-.7 5.2-.1 5.3 0 5-.8 3.9 .7 5.4-.5 4.1 .6 5.4-.6 4.9-.9 5.1 .9 5.1-.3 3.9-1 4.6-.2 5.9 .9 4.6-.4-5.1 1.1-4.6 .1-4.6 1.5-4.1 1.6-5.5 0-4.9 1.9-4.4 1.8-.2-4.9-1.6-3 .5-4.5-.3-4.1-.1-4.2 .6-4.3 .4-3.9-.2-4.1-.4-4.7 1.2-3.9 1.5-3.9 0-4.2 .6-3.6-.1-3.7 .4-5.1-.5-3.9 1.3-4 .4-3.7 0-4-.3-5 .5-3.6 .1-4.6-.3-3.8 4.8-.6 4 .1 3.7-.9 4.7-.8 3.7-.3 4.4 .1 4 0 4.1-.9 4.4 .1 .2 4.6 .3 4.3 .6 5.1 .8 4.2-.2 5 .7 5.4 .2 4.1 .8 4.5-.2 5.1 1.8 4.5-.4 5.3 1 4.5 0 4.6 0 4.3 1.2 4.4 0 4.8 .3-2.8 1.7-4.1 0-3.6-.1-4.1 0-3.5-.2-3.8-.2-4.2 0-3 .6-4-.5-4 .3-3.4-.9-3.4 .5-3-.2-4 .3-3.6 .2-3.5-.4-2.4-.4-2.5 .8-.5-.1-1.6-1.4-2.7 0-4.5-.7-2.5-.2-4.5-4.8 .6-4 .6-4.6 0-5.1-.1-3.7-.1-4.6-.1-3.5 .8-4.6-.2-4 .4-4.2 1.5-3.7-.2 2.8-.2 3.2 .2 2.9-1.1 3-.3 3.5-.6 2.8-.6 3.2 0 3.1 .2 3.1-.6 2.7-.6 2.7 .3 3.6-1.1 2.8-.3 3.3-.2-2 3.9-1.3 4-1.6 4.3-1.6 4.2-1.9 4.4-1.3 5.1-1.6 3-1.7 5-1.8 4.9-1.6 4.3-2.1 4.3-1.8 4.3-.6 2.8-1.9 4.5-2 4.8-2.1 3.7-1.5 4.5-1.2 4.4-1.9 4.9-2 2.9-4.1 2.2-4.6 1.7-4.1 1.6-4.1 1.1-5.2 1.6 4.5 .1 4.9 .8 4.2 .6 4.1-.8 4.3 1.1 3.6 .2 4.6 .2 5 .4 4 1.1-3.3-.7-2.4-.1-4.6-.6-2.8 .3-2.7-.2-4.5-.6-2.8 .1-3.1-.1-3.1-.4-2.5 .5-3.7-.9-3.2 .2-4-.3-2.9-.2-3.1-.2-2.7-.3-3.7-.2-3.2-.1-3.7-.5 3.8 .4 4.1-.1 4.2 .1 2.9 .5 4.1 .5 3.3 0 4.2 0 3.8-.5 4.1 .6 4.1 .3-.4-3.2-.7-3.9 .9-3.5-1-3.9 .1-4.5-.2-3.9 .2-3-.3-3.8-.2-3.7-.2-3.5 .7-3.5-.6-4.5 0-4 .5-3.3 0-4.1-.5-3.9 0-3.3-1.1-4.4 1.3-3-.5-4.1-.7-3.8 .2-3.8-.6-3.8-.5-3.3 2 4.1 1.3 5 1.6 4.2 1.9 5.3 1.7 4.1 2 4.4 1.5 4.6 1.5 4.7 2.1 4.5 1.4 5.1 1.3 4.2 1.4 5.5 1.4 4 1.6 3.9 .8 5.8 2.8 4.4 2.1 3.3-1.5-3.9-2.9-4.3-.9-4.6-2.4-4.3-1.2-4.2-1.5-4.1-2.7-4.5-1.6-4.8-2.6-4-1.6-4.2-1.1-3.8-1.3-5.1-1.4-5.1-2.7-4.3-1.8-3.9-1.5-4.6-1.5-4.6-1.7-4.2 3.8-.5 3.9 1.3 3.8-.2 4.4-.5 3.4 .1 4.2-.3 3.8 .3-.8 3.5-1 3.1-.4 2.8-.2 3.5-1.3 3.4-.4 3.4-1.7 3.2-1.7 2.4 .2 3.6-1.1 3.7-2 2.5 .3 4-1.2 2.7-1.4 3.5 0 2.8-.5 3.3-1.1 3.3 0 2.7-.7 4.4-2.3 2.2 .2 3.9-.7 3.1-1.6 3.3 .3 2.8-2.3 4.1-.3 2.9-1 3-3.3-.6-3.6 .1-2.2 1.6-4.5-.3-2.5 1.2-3.9-.2-3.7-.3 .7 4.2-1.6 2.1-1-2.6-2.5-2.7-.9-2.8-1.9-2.5-2-2.8-.7-3.2-2.2-2.7-1.8-2.2-1.5-3-1.6-3.5-.5-2.6-2.1-2.9-1.3-2.8-2.1-3-1.6-2.8-.7-2.7-2.2-2.9-1.4-3-1.4-2.7-2.1-2.5-1.8-3.3-1.2-2.1-1.3-3.3-1.2-2.6-2.3-3-1.1-3.3-2-3-1.4-2.1-1.5-2.4-1.1-4.1-1.5-2.9-1.1-3.1-2.4-2.4-.1 6.2 .1 3.8-.4 4.5 .1 4.4-.4 4.9 .1 4.8 .4 4.1-.3 5.4-.4 4.3 .1 5.2 .2 4.1 0 4.9-.8 4.9 1.4 4.3-1 4.3 .4 4.5-.3 4.7 0 5 0 4.4 3.5 .1 3.3 0 2.9-.2 3.7-.4 3.2-.2 3.4-.2 3.1 .1 3.1-.5 2.6 .1 3.9-.2 3 .2 3.1-.4 4 .7 2.7-.1 3.2-1.3 3.3 .6 3 .1 3.8-.2 3-.3 3.7 .5 3.3 .5 2.7-.3 3.8-1.6 2.9 .6 2.6 .3 3.1 .7 4.1-.1 3.3 0 2.5-.4 4.2-.4 3 .2 3.1 .4 3.3 .3-4.1-.8-4.7-.6-4.9 .1-4.2 .5-.5-5.2-1.5-3.9-1.1-4.6-.8-4-.3-4.4-1.7-4" fill="none" stroke="#f6be92" stroke-width="1.0" stroke-linejoin="round"/>
<path d="M483.2 286.4l.4-2.8 .3-4.2 1.2-3.5 0-3.5 .9-3.2 .9-3.2 1-3.6-.5-3.6 .8-4.3 1.1-2.5 1.3-3-.3-4 .8-3.8 .5-3.1-1 3.8-2.3 3.1-2.1 3.5-.2 3.9-2.1 3.5-2 3.2-1.5 3.7-1.8 4-1.8 3.7-1.1 3.6-1.3 3.4-2.1 3.1-1.5 4.1-1.6 3.2-1.9 3.8-1.7 3.8-1.6 3.3-1.8 2.8-1.9 4.4-1.4 3.3-1.8 3.4-1.5 3.8-2.5 3.5-1.1 3.9-3.4-2-4.4-.7-2.5-2.3-4.2-1.5-2.9-.5-3.2-3.5-1.6-3.3-2-3.6-1.9-3-2.3-3.3-2.2-3.5-1.2-4.4-3.7-2.5-.3-4.1-2.5-2.6-1.9-3.3-2.3-3.5-1.9-3.7-2.1-3.4-1.7-3.5-1.9-2.8-2.3-3.4-2.4-3.6-1.3-3.9-2.5-2.6-2.7-3.4-1.8-2.7-2.1-4.3 4.6-1.5 2.3-1.4 3.8-.6 3.4-1.5 2.9-.7 4.6-1.6 3.6-1 2.8-1.1 4.8-.6 1.9-1.1 4-.6 .6 4.3-.2 3.9 .4 3.8 .5 4.1 .3 3.3 .4 3.3 .7 4.8-.5 2.1 .9 4.6-.1 3.7 1.1 3.7 .1 3.6 .6 3.8 .5 3.4 .1 3.8 .6 3.4 .2 4 .7 4.3 .8 2.7 .8 4.6-1 3.6 1.8 4 .5 3.2 4 1.3 2.5 1.3 3.7 2.1 3.2 1 3.1-.2 3.7-1 4.1-1.5 3.8-.9 2.8-2.4 3.3-.5 4.6-1.6 3.4-1.3 2.3-1.2 4.3-1.4 3.1-1 3.8-.9 4.2-1.1 2.8-1-.1-4.3-.4-3.1 .8-4.3 .5-3.3-1.1-4.2 .1-3.7 .2-4.3-.1-3.1-1.1-4-.3-3.6 .1-4.3-.5-3.4 .6-3.3-.2-4.1-1.2 3.7-2.1 4.4-1.8 3.4-1.2 4.3-2.5 4-1.7 4.1-1.7 4.2-2.3 4.7-2 3.8-1.7 3.4-2 4.2-2.4 3-2.8 5.1-1.5 3.3-2.7 3.8-1.8 4.2-2.3 3.9-1.8 4.1-1.1 4-3.1 1.7 2.1-4.2-3.7-1-4-.9-3.6-.6-4.2-.3-4.3-.9-3.6-.2-4.1-.6-4.4-.3 4.6 1.2 4.9 .6 4.4 1.2 5 .6 5.1 1.6 .3-5 .3-4.7 .4-5 .3-4.9-.1-4.4 .6-5.6 .1-4.1 .3-4.5 .5-5.7 .6-4.6 1.4-5-.9-4.9 1.1-5 .6-4.8 .1-4.3 .6-5.8-.8-4 .5-5.1 1-5.1 3.5-.4 4.3-1 4.2-1 4-1 4.5-.6 3.4-1 4.2-.8 5-.2 4.6-.1 4.7 .1 .2 4.3 .2 4.1 .4 4-.2 5.3 .5 3.7-.1 3.6 1.3 4.6-1 4.3 .8 4.3-.4 4.2 .8 3.9 .7 4.2-.6 4.4 1.3 4.4-1.1 4.7 0 4 1.3 4.4 .1 3.7-.3 4.4 .6 3.6 .7-4.9 .3-4.3-.9-5.2-.2-4.3 0-5.2-.1-5.3-.4-4.2-.3-5.4 1.3-5.4 .3-4.5 .1-5-.5-5.6 .7-4.3 .1-5.1-.1-5-4.1-.4-4.7-.5-4.8-.8-4.3-1-4-1.1-5.3-.5-4.4-1.4-4.8 .3-4.1-2.1-4.6-.6-4.4-1.6 0 4.3 .2 3.9 .1 4.1 .3 3.6 .3 4.3-.3 4.2 1.3 4.1 .3 4 .3 3.4-.3 4.7 .9 4.2-.3 3.6 .4 3.9 .4 4.1 .4 4.4 1 4.2-.9 4.1 .5 3.3 .1 4.5-.2 3.8 .4 4.6-.6 3.2-4.1 .8-3.6 .7-5 1.5-2.6 .5-4.9 1-4.2 0-3.2 .3-.3-3.3 .4-4.5 .7-4-.3-3.6 .5-4.3-.2-4.6 .1-3.3-.4-4.2 .6-3.8 .3-4.3-1-3.7 1.3-4.3-.4-4.9 .1-2.1 .4-5.5-.1-4 .7-3.7-.6-3.4 .1-4.5 .5-4-.2-4.3 2.2-2.9-.1-5.3 .5 4.1-.1 3.9-.3 2.9-.3 3.5 0 3.3-.8 3-1.1 4.7 .3 3-.2 4-.6 3.3-.8 3.3 .5 3.3-.5 3.1-.5 4.4-1 3.2 .5 3.6-1.1 3.3 0 3.2 0 4.1-1.1 3.1 .2 3 0 4.4-1 3.4 0 3.3 .2 3.1 3.8 1 2.5 1 4.8 .2 2.6 0 4.4 .4 3.6 .8 2.5-.2 3.8 1.1-1-3.7-1-3.3-.6-2.1-1-4.8-.1-3.4 .5-5.2 0-3.7 .1-4.4-.2-3.9 1-4.7 .3-3.8-.1-4.1 1.1-3.8 .8-4.5-.2-4.3 .1-4 .3-4.3 0-3.9 .1-3.8 .3 2-.2 5.1-.2 4.4-.7 4-.3 4 .2 4.4-.2 3.5-.6 4.3 0 3.6-.6 5-.2 2.8-.7 4.8 .2 3.2-.1 5.6-.8 3.4-.2 3.7 .5 4.6-.8 3.7-.3 4.2 4.6-.1 3.7 .6 3.3 1.8 4.3 .9 3.7 1.3 4.3 1.2 3.2 1.6-2.6 .4-4.2 1.2-3.2-.4-3 1.6-5 .1-2.7 1-4.7 .3-3.1 .7-3.7 1-2.7 .3-2.3-3.1-2.5-2.8-2.1-2.6-1.7-3-2.8-2.1-1.7-2.6 0-3.5 .2-3.3 .4-3.6 .2-3.6 .2-2.2 .3-3.8-.3-3.2 .4-3.2-.6-4 .6-3.2 .9-3.4-.5-2.7 .4-3.9 .2-3.4 .2-3.3 .8-3.6-.4-3.5-.5-3.8 .2-2.7 .3-2.7 1.6-4.2-.8-3.5 .1-3.1 .4-3.4 0-2.9 .2-3.2-3.7-2.8-.8 4.5 .3 5.1 .1 4.6 .2 4.2 .3 4.8-.1 5.3 .1 4.3 .1 5.2 .3 4.5-.2 4.2-.2 5.2 .6 4.3-.3 5.3-.1 5.4 .2 4 .2 4.3-.5 5.4 .1 4-2.4 3.2 .4-2.6-.1-2.5 .1-4.3 .4-2.9-.3-3.6 .5-3.3 .4-3.4-.2-3.8 0-3.5 .9-3.3-.2-3 0-3.6 .6-3.3-.9-3.4 .4-3.8-.1-2.8-.2-3.7 1-3.3 .7-2.9 .1-2.8-.6-4.5 1-2.6-.4-3.9 0-3.4 .3-3.4 .6-3.5-4.3-.3-3.9 .5-4.6 0-3.4 .9-3.9 .2-4.5 .6-4.1-.2-3.8 .4-4.3-.2-4.3 1.1-3.3-.6-4.2 0-3.5-3.7 4 2.4 4.7 .6 4.4 1 4.8 1.1 4.3 .2 4.6 .9 4.2 1.3 5.1 .4 4.6 1 4.7 1 4.1 .8-1.5 4.2-1.6 3.4-2.4 3.9-1.8 3.6-2.2 3.1-1.7 3.4-2.5 4.7-1.5 3.8-1.8 3.9-1.4 4.1-2.8 3.4-2.2 3-1.8 4.9-1.6 2.9-2.5 3.8-1.3 4.2-2.6 2.8-1.6 3.9-2.1 4.6-2.1 2.7-2.3 4.3-1.8 3.2-2.5 4.2-1.4 3.6-1.5 3.6 4.6-1.1 4.3-.6 4.7-1.4 4.5 0 5.3-1 5-.8 4.5-1.3 5.1-1.4 4.6-.6 4.4-.9 5.3-1.3 4.4-1 5-1.5 4.5-.8 5-1.1 .4-4.2 .6-5.1 .3-4.9 0-5.1 .6-4.5 .6-5-.3-5.2-.4-4.6 .7-5-.4-4.5 .2-5.3 .3-4.8 .1-4.9 .3-4.3 .9-5.2-.5-4.9-.1-5.1 1.5-4.5-4.7-1.7 3.4 2.5 3.6 2.1 3.2 1.4-.2 3.3-1 3 .8 3.3-.6 2.4 .3 3.3 .1 3.6-1.2 2.7 0 2.6-.6 3.2 .3 3.7-.8 3 .1 2.9 .6 2.8-.2 3.2-.8 3.5 .3 3.3 .1 2.7-.3 3.1-1 2.8 0 3.5-.2 2.8-.4 3.2-.3 3.3 .2 3.3-.7 2.4 .3 2.6-1.3 3.4 3.7 1.2 3.1-1.3 2.5 1.5 3.7 .1 3.1-.5 2.7 .7 3.3-.4-4.4 .7-4.1 .8-4.6 .5-5 .8-4.7 .6-4.7 .2-3.5 .7 3-1.1 3.3-1.8-4.5 .5-3.7 .3-4.5-.1-4.1 .7-4.5 0-3.4 .6-2.4-3.6-2.2-4.2-1.5-3.7-1.6-4.2-1.3-3.1-1.8-4.2-1.6-4.4-2.3-2.5-.4-4.5-2.6-2.8-1.8-4.3-2.4-4.7-1-3.1-2-3.4-2.1-4.3-1.1-4-2.5-3.4-1.8-4.3-1.7-3.3-2.1-3-2-4.4-1.8-3.8-1.5-4.3-1.7-3.2 .1 3.8 0 4 .1 4.3-.3 3.6-.1 4.3-.1 3.8-.1 3.6 .7 4-1 3.8-.2 4.7 .9 3.5-.4 4.1 .7 3.4-.9 4.6 .5 3.9-.2 3.6-.8 3.9 .5 3.8-.7 3.7 .1 4.6 3.4 1.1 3.1 .9" fill="none" stroke="#f6be92" stroke-width="1.0" stroke-linejoin="round"/>
<path d="M417.2 324.5l2.6 1 3.7 .1 3.7 1 2.9 .5 3.8 .8 2.2 .5 3.1 .3 3.7 .8 2.8-2.2 2.4-1.4 2-2.1 2.9-1.9 2.7-1.1 2.9-2.6 2.2-1.1 2.1-3.4 2.2-3.7 .1-2.5 2.3-2.9 .5-2.8 1.7-2.9 1.1-3 1.9-3.3 .8-2.4 2.1-3.3 1.8-2 .2-3.6 1.3-3.2 1.8-3.1 1.1-3 .8-2.3 1.8-3.9 1.4-2.5 1.5-3.6 2.1-2 1.1-3.5 1.8-2.7 1.6-3.4 .7-2.7 2.2-3.1 1.1-2.1 .6-3.2 1.9-2.7 1.9-3.5-2 4.4-1.6 3-.9 4-1.5 3.7-1.9 3.7-1.5 4-1.2 2.9-.7 4.6-2 2.8-1.6 4-2.7 4.2-1.1 3.8-1.6 3.3-.9 3.9-2.5 3.8-.9 3.3-1.7 3.7-1.6 3.8-1.3 4.2-1.9 3.3-1.5 3.8-2.1 3.8-.7 3.6-4.7 .1-4.1 .9-4.4-.2-3.3 .9-4.4-.2-3.8 1-4.5 0-3.7 .1-3.6 .1-.1-4.1 .4-3.3 .6-4.8-.3-3.8 1.4-3.9 .6-3.9-.5-4.5 .7-3.8 .6-4-.2-4.7-.5-3.4 .9-3.5 .1-4.4-.1-4.5 .7-3.2 1.1-4.3-.2 3.7-.2 3.1 .1 3.6-.6 3.6 .6 3.9 .1 3.2 1 4.1-.5 4.2 .2 2.5-.1 3.9 .8 3.5-.5 3.7-.6 3.9 .6 3 .6 4.1-.5 3.4 .2 3.6-.1 3.2 .4 3.8 3.8 1 3.3 .6 4.4 0 3.5 0 4.3 .2 4.3-.1 4.4 .4 4.2 .1 4.3 .3 3.4 .3 4.7-.3 3 .5 5.1 0 2.6-.1-2.4-.4-4.3-.7-2.7-1.4-3.7-.8-4.2-1-2.8-1.4-3.5-.8 .8-3.7 1.2-2.8 1.8-4.1 .7-3.2 1.7-3.8 1.6-3.3 .7-3 2-3.5 .5-3.7 2.2-3.3 1.1-2.8 1.3-4 1.5-3 .5-4.1 1.9-3.2 1.7-3.7 1.2-2.9 .7-3.6 1.9-2.8 1.2-4 .9-2.2 1.4-4.1 .7-3.8 2-3.8 1.8-2.7 .6-4.1-.7 4.7-.6 5.2 0 4.2-1.2 3.8 .2 5-1.2 4.4-.2 4.3 .1 4.7-.2 5.1-.1 4-.6 5-1 4 .3 5-.5 3.4-.8 5.9 0 3.9 0-4.6 1-4.7 .2-4.5-.2-4.6 .3-4.5 .5-4.5-.6-4.8 .4-3.9 .1-4.8 .1-5.2-.2-4.2 .1-4 .4-4.7 .3-4.2-.1-5.3 .4-4.2-.3 3.7 .7 3.5-.6 4.1-.9 2.9 .4 3.2-.5 4.1 .2 3.2 .8 4.4-1 3.1-.3 3.1 .2 4.4 .1 3.2 .3 3.6-.4 4.1-1 3.8 1.1 2.7 .1 4.4-.1 3.6-.1 3.6-.6 3.5 .1 3.4-.3 3.3-.1 4.7-.2 3.3-.6 3.6 .7 2.7 0 4.2-3.6-1.4-4.7 0-4.6-.4-3.3-.6-4.7-.6-3.6-.9-4.3-.3-3.9-.3 .8-4.5 1.7-3.9 1.2-3.6 1.5-4.1 1.8-3.8 2.2-3.3 1.4-4.7 2.1-3.7 1.9-3.7 .9-4 1.8-3.3 1.6-4 2-4.1 1.6-4.3 1.2-4.1 1.7-4.2 1.2-3.4 1.9-3.9 .8-4 2.6-3.7 1.5-3.6 1.5-4.5 2.5-3.5 1.8-3.1-2.7 3.7-1.7 3.7-2.5 4.3-2.4 3.6-1.8 5.1-1.2 4.4-2.2 3.8-2.7 6-2.1 3.3-2.2 3.8-1.7 4.8-1.9 5.1-1.9 3.5-3.2 4.4-1.4 4.3-2.4 4.4-2.3 4.9-2 3.9-1.5 4.7-2.2 3.8 4.3 1.1 5.2-.7 4.9 .7 4.8 .1 5.1 .1 4.4 0 4.8 .6 4.6 0-4.4-.1-4.6 .1-4.3-.2-4.8 .7-4-.1-5.5-.5-4.2 1.2-4.5-.7-4.7 .4-4.5-1.1-4.9 .2-5.1-1-3.6 .4-5.3-.1-3.5 1.4-6.1-.6 4.7 1.6 5 .3 3.6 .9 4.4 .8 3.9 1.3 3.9 1.2 .5-4.9 .1-4.2-.7-4.3 .4-4.8-.1-3.9-.1-4.4-.5-4.6 .7-4.1-.5-5.4-.1-3.5 0-3.8-.2-5.3 .1-3.4 0-4.6 .8-4.9 .2-4.2-.7-4.7 .4-3.9 .5-5 .3-3.7 .1-5 3.5 .5 3.3-.3 3.8 0 4.2-.8 3.1 1.1 4.2-1.1 3.1 1.1 3.8-.3 4-.9 3 1 3.4-1 4.6 .5 3.7-.1-3.1-1.1-3-1.1 .7 4-.9 2.4 .1 4.5-.1 3.5 .5 3.3 .2 3.6-.3 3.8 .5 3.2-.1 3.8-.8 3.6 .7 3.1 .3 4.8 .2 2.3-.1 4.1 .2 3.1-.4 4 1.2 3.2 .2 3.3 0 3.6 .4 4.2 0 3.1 1 3-1.1 3.4 .9-3.5 .7-5.7 .1-4.5 1.4-5.2 .6-4.8-.9-3.9 1.5-5.5-.4-4.6 .6-4.9 .4-4.9 .8-4.3 .4-4.8 .2-5.4 1.6-4.4 .4-4.2-.4 3.1 .2 3.6-.4 3.5-.2 3.7 .7 3.8 .2 3.6 .1 3.5-.5 3.2 .6 4.2-.5 3.6-.3 4.5 .9 3.5-.7 3.3 0 3.4-.1 3.7 .6 3.6-.2 3.3 0-4.2 1.9-4.8 .5-4.3-.4-5.5-.3-4.4 .7-5.5-.2-4.2-.4-4.6 .8-3.7-.9-5.1-.2-3.9 .2-3.2 .6-3.3-.5-2.8 .1-1.3 .5-.6-2 3.4-2.5 3.8-3 3.5-2.2 4.1-2.5 3.9-1.9 4.1-2 3.7-2.5 4-1.8 3.8-2.9 3.2-2.6 4.1-1.7 4-2.8 3.3-2 4.3-2.2 4.2-2.1 3.6-2.4 3.4-2.4 3.3-2.1 4-2.4 3.8 3.4 1.7 4.7 .9 4.4 1.8 3.8 1.6 4.6 .6-5.1 .5-4.3-.5-4.8-.2-5.1-.2-4.3-.9-4.7 .5-4.8 0-4.1 .1-5.4-.4-3.8-.3-4.8-.3-4.9 .8-4.5-1.2-4.8 .3-5.1-.7-3.7-.3-5-.5 3.5 .2 4.4 .9 3.6-.4 3.9 1.1 4.4 .8 3.7-.1 4.8 .3 3.8-.7 3.8 .2 4.3 1.1 3.7 0 4.2 .8 3.9-.5 3.8 .7 .4-4.1 1.7-3.6 .6-4.5 .2-3.4 1.8-4.2 .1-3.9 1.8-3.6 .4-4.3 .7-3.9 1.3-4.3 1.3-3.1 .8-4.7 1.1-3.7 .9-4.1 1.5-3.8 .5-3.5 1-4.1 .2-3.7 1.4-4.5 1.2-4.1 .3-3.2 1.1-4.6 .7-4.1 1.7-3.4-4.9 .3-4.2-.6-3.5-.6-3.8-.9-4.3-.2-.2 2.9-.5 4.4 0 3.9 .8 3.2-.2 4.1-1 4.5 .6 3.1-.7 3.4 .6 4.3-.2 3.5-1 4.4 1 3.4-.1 3.6-.4 3.9-.2 4-.1 4.1 0 4 .7 3.6-.5 3.6-.2 3.7-.1 3.9-.2 4.2-.4 3.5-3.4 .1-3.9 1.3-.2 .6 2.3 3.9 2.5 1.9 3.5 1.5 3.1 .6 3.8 .4 3.5 1.5 3.8 1.2 3.7 .6 3.5 .7 4.5 .8-5.5-.4-2.9-.5-4.2 .4-4.6-.8-3.9 0-4.2-.5-4.7-.2-3.9-.1-3.9-.9-4.4-.3-3.9 .4-3.7-.1-4.5-.8-4.1-.6 3.4 2.1-1.6-3.4-1.8-3.8-1-3.1-1.7-3.3-1.9-3-1.4-3.3-1.4-4-2.2-3.1-1.2-3.2-2.1-3.5-2.2-3.3-1.4-3.1-1.8-3.8-.2-2.8-2.6-3.8-1.8-3.2-1-3.3-1.9-3.6-1.9-3.4-.4-2.9-2-4.6-1.9-3.1-1.8-3.3-1.6-3.2-1.9-2.8-1.5-4.1-1.6-2.1-1.3-5-1.1-2.5 1.7 2.2 2.6 3.1 1.8 3.1 2 3.1 1.9 2.8 2 3.3 1.1 2.4 2.5 3.4 1.8 2 2.4 3.1 2.2 2.8 1 3.1 2.3 2.9 1.6 2.7 2.5 3 2.1 3.5 1.3 3.1 2.7 2.6 1.6 2.5 1 3.7 2.5 2.2 2 3.2 1.2 3 2.5 3.2 1.2 2.7 2.1 3 1.4 3.1 1.6 2.5 1.1 4.6-1.3-3.9-.4-4.4-.4-5.2-.5-4.9-.5-4.3 .2-5-.7-4.3 0-5.1-.2-3.8-.8-4.6-.4-4.9-.1-4.3-.9-5.1-1.2-4.5 .6-4.2-1 4.8 .1 4-.6 5.5-1.3 4.4" fill="none" stroke="#f6be92" stroke-width="1.0" stroke-linejoin="round"/>
<path d="M414.4 284.6l-.1-3.1 .4-3.5 .1-3.1-.4-3.3 .4-3 .4-3.1 .5-2.9-.8-3.7 .4-3-.3-3.7 .9-3-3.9-2.6-2.3-1.7-3.2-2-3.1-1.7-2.7-3.4-2.9-.8-2.6-3.6-2.6-1.2-3.3-3.5-2.6-1.4-3.1-2.5 4.4 .7 4.3 1.7 4.9 2.5 3.5-1.4 4-1.8 1.2 3.1 .7 3 .5 3.3 .8 2.3 1.1 3.5 .5 3.1 1.4 2.9 1 2.8 .4 3.3 .2 2.8 1.1 2.9 1.5 3.2 .3 3.7 .9 3.1 .9 2.8 .8 3 1.3 3 1.1 3.3 1 2.6 .5 2.7 1.3 2.7 1.4 3.9 .6 2.9 1 2.8 0 3.2 1 2.8 1.1 3.4 0 2.8 .8 3.5 1.1 2.8 .7 2.8 1 3.2 .6 3.4 .7 3 5.3-.1 3.4-.6 4.4 0 4.3-.6 4.4-1.1 4.2-.1 4.3-.5 4.3-.5 4-.7 4.5 .8 5-.1 4.2-1.4-4.1-.2-4.4-1.1-4.6-2.4-4.2 .6-4.3-1.4-3.7 .7-.4-5-.4-4.5-.6-4.6-.7-3.9-.6-5 .2-4.4-.1-3.8-.2-3.9 0-4.2-.9-5.1 .9-4.3-1.2-3.9-.8-4.3-.6-4.4 0-4.5 .5-4.2-1.1-4.1-1-4.7-.1-4.5 .5-4.7-.7-4-2.5-3.3 1.1 3.3 .5 3.8 0 3.3-.3 3.3 1.3 3.9-.6 3.6 1.1 3.3-.1 3.6-.3 4.3 .4 2.7-.4 3.7 .6 3.4-.3 3.7 .7 3.7 0 3.5 0 3.7 .8 3.7 .3 2.8 .8 4.2 .1 3.1 .6 3.5-.2 3.7 .3 3.4 .3 3.4 .7 3.3-.3 4.3 3.5-.3 3.5 1.7 3.9 .9 3.2 .6 3.4 0 4.3 .7 2.9 .3 3.4 1.1 3.3 .7 4.4 .1 2.4 .7-2.9-.2-4.3-.7-4.1-.5-3.4-.6-3.6-.3-4.3-.3-3.6-1-4.1-.2-4.7 .2-3.5-.6-3.3-.6-4.3-.9 5.1 .7 5.2 0 5.1 .7 3.9-.3 6.2 .4-3.9-1.5-5.1 .3-3.7-1.5-4 .2-3.9-.1 1.8-3.9 2-3.4 2.2-3.5 2.4-3.1 1.5-3.9 2-3.7 2.4-3.8 .8-3.5 1.9-3.2 2-4.3 1.7-2.6 2.4-3.8 1.9-3.9 2.6-2.6 .8-4.5 1.7-3.2 2-3.6 2.1-3.8 1.9-3.4 2.2-3.5 2.1-3.3 2.1-3.8 1.9-3.3 1.8-3.8 2.9-3-2.8-1.5-.2 3.2 .2 3.3 .1 4 .7 3.3-.3 3.4 1 3.1-.5 3.5 .2 3.7 0 3.1 .7 3.8 .6 3.6 .4 3.1-.1 3.3 .1 4.2 1 4-.3 2.1 .9 4.1 .1 3.5 .7 3.6-.1 3.3-.9-3.9-.6-2.7 0-4.2-1.1-3.3-.9-2.8 .4-3.9-2.9-2.9 1.2-4-1.1-3.1-.3-3.8-.6-2.7-.5-3.2-1-4.2-.1-3.6-.6-3.2-.4-4.2-1.3-2.9-.2-3.5 .1-2.9 .5-4.6-2.1 4.2-1.3 3.9-2.2 3.6-1.8 4.1-2.3 3.1-2 4-1.6 4.9-1.7 3.7-1.8 3.7-2 4.5-1.5 3.1-1.7 4.2-2.6 4.1-1.8 3.3-.9 4.5-2.7 3.9-1.7 3-2.2 5-2.2 4.2-1.4 2.6-2.9 4-1.9 4.2-2.3 4.3-.9 3.5-1.7 3.8 4.4 .7-5.4-.9-5.2-.6-4.5-1.3-4.8-1.1 0-4.5 .7-5 .4-4.7 .6-5.4-1.1-4.1 .5-5.8-.4-4.3 1.1-5 .1-6.1 .7-4.1-.6-4.6 .4-5.5 .6-4.6 .1-4.4 1-5.3-.3-5.1 .5-4.3-2.8-3.2-2-2.9-2.7-3.9-2.2-2.9-4.3 .9-4.3 .2-4.6 .1-3.7 .4-3.8 .4-4.9-.2-3.3 .6-4.5-.2-4.8 .5-4.2-.1 2.3 4.4 3.7 3.7 2.6 5.1 2.4 3.3 2.7 4.5 1.6 4.2 3.1 4.1 2.8 4 1.8 5 3 3.6 2.2 4.8 2.1 4.5 2.3 3.9 3.3 3.8 2.7 4.8 2.6 3.8 2 4.3 2.8 3.9 2.6 4.4 2.5 3.8 .7 1.2-.8-2.8 .6-3.9 .3-3.7 .3-4.4-.3-3.2-.7-3.9 1.1-3.6 .2-3.3-.4-4 .5-3.9 .1-3.5 0-3.7 .5-3.5-.1-3.9 .3-3 .8-3.8-.8 2.7-.3 2.7-.2 3.8-.4 2.9-1.1 3.1 .3 4-.4 2.5-1.2 4-.9 2.9-.4 3.3-.1 3.3-.8 2.8-.2 3.9-.3 2.7-1.3 3.9 .2 2.6-1.2 2.8-.9 3.1 .6 3 2.3 .6 3.5 .6 3.1-1 3.3 1 3.4-.1 3.7 .3 2.7 .7 1.8-2.7 1.5-2.9 1.8-3.7 1.2-1.6 1.8-3.5 1.2-2.6 .8-3.3 2.2-3.1 1.3-3.5 .7-2 1.5-2.9 0-3.5 3.1-2.3 1.5-3.2 .2-2.4 2.1-2.8 1-3.8 1.7-2.9 1.8-2.7 1.2-2.3 1.8-3.9 .1-3 1.6-2.9 1.4-2.7 1.6-3.3 1-2.3 1-3.4 3.3-3.1 3.3-4.1-.3 3.6-.1 5.2 .1 3.3 .3 4.8-.9 4 1.1 4.8-1.8 4.4 .2 4.3-.8 4.3 .1 4-.1 4.9 .6 4.4-1.3 4-.1 3.9-.4 5.1-.4 3.7 .7-3 .7-3.3 .2-3.4 .8-2.7 .5-3.8 .6-3.3 1.1-2.7 0-3.8 0-3.2 .8-3.5 1-3.7 .6-2.7 .1-3.8 .7-2.3 .5-3.5 0-3.1 .5-3.6 .8-3.7 .2-2.4 .7-3.4 .8-3.8 .4-3-4.4 .1 3.2-3.6 2.9 3.1-.5 4.4-.2 4.9-2 3.8 .1 4.2-1.5 4.8 0 4.7-.3 4.1-1.1 4.3-.2 5.3-.5 3.1 .2 5.4-.9 4.1-.4 4.8 0 4.5-1.2 4.4 .6 4.7-.6 4.3-1.1 3.8 .1-2.9-1.6-3.9 .3-3.8-.9-3.4-.2-3.6-.7-3.3 .5-4.5-.6-3.8-.2-3.2-1.7-3.2 .1-3.6-.1-4.1-1.3-3.1 .2-4.1-.4-3.3-1.1-3.4 .5-3.4-.9-4.1-.4-4.1-.2-3.2-1-3.9-.3-3.1-1.5 3.1-.9 3.8-1.6 4.1-.7 4.1-2.5 3.1-.6 4.7-2 2.9-1.5 3.8-1.2 3.9-1.3 3.5-1.8 3.9-.3 3.6-1.9 3.7-1.8 3.4-1.8 3.8-.5 4.1-1.1 3-1.4 4.7-2.1 3.8-1.7 2.8-1.1 4.1-1.5 3.2-.8 4.1-1.5 3.6-3.2 2.5-3.7 1.5-3.4 2.5-3.5 2.7-3.4 2-2.3 1.6 2-2.6 4.7-3.4 3.5-1.7 2.7-2.9 4.5-2.7 1.1-4 2.5-4.2 2.2-3.9 1.5-3.6 2.4-3.9 1.7-4.4 2-3.7 2.3-3.6 1.8-3.2 2-4.5 2.2-3.4 2.9-4.5 1.7-3.7 1.5-3.9 1.9-3.8 2.1-3.9 2.4-3.9 1.5-3.8 3-3.7 1.2-4.5 2.6-3.5-1.1 4.7-.1 4.6-.9 4-.6 4.6-1.5 4.5-.4 4.5 .1 4.6-.6 3.9-.5 5.1-1 4.7-.5 4.2-.5 4.4-1.2 4.3-1.3-4.2-2-4.9-.5-4.2-1-5-2.1-4.2-1.2-4.9-.5-5-1.8-4.5-1.1-4.6-.5-4.9-1.4-4.1-1.2-5.6 3.3-1.5 3.3-2.1 3.7-2.5 3.1-1.3 4.4-2.1 3.5-1.5-4.2 .6-4.4-1-3.8 .3-4.3-.9-4.7 .6-4.2 .6-4.1 .3-4.4-.5-.1 5.2 .2 4.1-.3 5.3-.3 4.2 .9 4.6-1 4.8-.4 4.3 .3 4.1-.1 4.5-.2 5.4-.8 3.6 .1 5.3 .1 4.8-.2 3.5 .2 4.8 0 5.6 0 4.1-.4 4.4 .3 4-.3 4.1-3.8 1.6-4.9 .7-5.2 .6-3.9-1.4-3.8-1.9 2.9 .2 4.3 .8 4.7 .6 4 0 4.5-.4 3.6 .3 4.8 .3-3.6-.8-2.5 0-3.1-.5-4 .1-1.8-.8-3.7 .8-3.7-.9-3.2 0-1.2-2.7-.6-3-1.9-2.5-.4-3.4-2.2-2.2-.7-3-1.3-3.3-2.3-2.6-.7-2.7-1.3-3.1-.7-2.8-1.1-2.4-2-3.2-.8-3.4-.8-2.4-.8-2.4-2.2-2.8-.9-3-2.3-3.1-1-2.9-.7-2.5-1.8-2.8-.7-2.9-2.1-3-.7-1.7-2.3-3.3-.5-3.6-.9-2.4 2.9-1.5 3.5-.9 3.2-1.1 2.7-1.1 2.9-1.2 2.8-1.3 3.2-1.1 3.3-1.2-3.9-.9-3.5-.3" fill="none" stroke="#f6be92" stroke-width="1.0" stroke-linejoin="round"/>
<path d="M469.8 272l1.2 3.8 .3 2.3 .2 4.1 1.4 3.8 .2 3.8 1.5 3-.8 4.2 .8 3.4 1.1 2.6-.4-3.3 1.1-2.1-1-2.9 1.2-4-.1-3.8 .4-2.5 .2-3.8-.3-2.5 .4-2.9 .7-3.7-.6-3.3 1.1-3.3-.7-2 1.5-3.6-.9-3.3 .1-2.7 .3-3.1 .5-3.1 .3-4.4-.4-2.2 1.6-3.6-.3 5-.7 3.4-.6 4.1 .6 4.5 .4 3.7-.3 4.6-1.3 3.9 .1 4.5-.1 4.3 .5 3.8-.4 4.3 .6 4.1-.6 3.5-.1 4.3-.6 4.7 .3 4-.6 4.6-.2 3.6 .3 4.1-4.4 1.2-4.9-.4-4 1.4 1.5-4.6 .9-4.3 2.3-4 1.1-4 1.1-3.6 2.3-4.5 1.7-4.4 1.7-3.5 1.9-4.4 2-4.1 .9-3.8 1.8-3.8 2.4-4.2 .4-3.9 2.3-3.7 1.8-4.2 2.2-4.4 1-3.6 2.2-4.3 1-3.8 1.2-3.3-3.1-2.1-4-.5-4.5-1.3-3.4 0-4.5-.9-4.7-.2-4.2-.3-3.9-1.7-4.2-.1-4.5-.8 1.8 4.3 2.9 4.5 1.4 4.4 2.2 3.3 1.8 5.3 1.8 3.7 1.3 4.2 1.5 3.6 2.4 4.8 2.2 4.8 1.4 3.7 2.2 4.1 2.5 4.3 2.3 4.1 .9 4.3 1.8 3.8 2.4 4.3 1.9 4.6 2 4.1 1.6 3.9 1.1 4.5 3.1 4 2.1 3.8 2.1 3.8-4-.6-2.2 .5-2.9-.8-3.3-.5-3 0-3.6-.6-3.1-.8-2.3-.3-3.2 0-3.4-.1-3.2-.4-2.2-1.1-4 0-3 .2-2.6-.2-.4-3.7-.1-2.7-.6-3.7 .5-2.4-.1-2.9-1.1-4 .2-3.1-.4-2.8 .8-3.3-.5-2.5 .3-3.4-.7-3.3-.5-2.8 .1-3.1-.4-3.7 .2-2.1-.8-3.1 .9-4.3 .2-2.1-.8-3.3-.1-3.1-.5-3.4 .5-3 0-3.1 0-2.3-.4-3.8-.2-2.7 .4-4-.7 4.3-.1 2.7-.1 3.1 .1 2.9-.6 3.4 0 3.2 .3 2.9-.3 3.6 .3 3.4-.7 2.8 0 3.5 .5 3.4-.2 2.9-.1 3.2 .3 3.8-.7 2.9 .3 3.1-.4 3.1-.4 2.9-.1 3.9-.2 2.6-.7 3.4 .2 3.4 .8 2.9 .1 3.1 2.8 .3 3.6 .1 2.7 .4 3.4 .5 3.7-.4 2.9 .2 3.3 .4 3.1-.4 3.7 0 2.2 .4 3.3 1.2 3.7-.3 3-.3 2.9 .7 3.1 .1 3.6 .2-5-.3-2.9 0-4.8-.2-4.4 .7-3.4-.3-3.9 .4-4.2-.4-4.5 .3-3.1-.5-5.1 .5-4.3-.6-4.1-.2-4.1-.3-3.5 .1-4.2-.5-4.2 0-3.9-.3-4.4-.4-1.4-3.3-2.3-3.6-1.4-3.6-2.5-3.2-2.1-3.8-1.3-3.9-2.3-3.5-2.2-3.1-1.8-3.7-1.9-3.8-2.9-3.8-.6-3.3-2.2-4-1.5-3.4-2.4-3.4-1.9-3.7-2.2-3.9-1.1-4.1-1.6-2.5-1.7-3.9-2.8-4.2-1.3-3.2-2.7-3.9 3.6-1.8-.2 4.7-.3 4.6 .4 4.4 .1 4.7-.8 4.1 .1 5.7 .5 5.1-.1 3.8-1.2 4.6 1.1 4.4-.9 5.1 1.1 5-.1 4.8-.4-4.8 .2-5.6-.9-5 .4-5-.5-4.8-.3-4.1-.7-5.9-.1-4.2 .1-4.9 .1-4.9-.1-5.2-.9-4.9 2 4.1 1.5 3.7 2.5 3.1 .8 4.3 2 2.8 2 4.4 2.6 4 1.1 3.5 2.4 2.9 2 4.5 1.6 3.1 2.4 4 1.8 4.1 2 2.4 1.8 3.6 2.2 4.4 1 2.7 2.5 4.4 1.1 3.3 2.4 3.7 1.7 4.2 1.5 3.1 1.9 4.1 4.1 .4 4.4 .9 4.1-.1 3.9 1.1 3.7 1 4.5 .4 3.8 .8 4.6-.2 3.7 .2 4.1-.4 3.5 .4 4.3-.6 4.3 .7 3.5-.8 4.4 .3 4.5-.3-3.3-.4-2.4 .3-3.1-.2-3.4 .2-2.7-.1-3.2-.4-3.5 0-1.9-.1-3.5 .8-2.3-1.1-2.9 0-3.8-.5 1.2-2.7-.4-2.5 .9-3.3 .6-3.4 .5-3 .9-2.8 0-3.4 .3-2.3 .4-3.3 1.3-2.7-.1-3.7 .3-2.6 1.1-3-.1-3.8 .5-2.6 .4-2.8 .6-2.7 .2-4 .5-2.5 .6-3.1 .4-3.4-.2-2.5 1.3-3.3 1.3-3.6-.8-1.8 .5-3.4 .6-2.4 .5-2.8 .4-3.1 .5-3.3-3-.7-3.4-.3-2.8-.5-2.5-.4-4-.6-3.1 .1 4.7-.4 3.8 .6 4.3-.9 4.1 .6 4-.5 3.7-.4 4.8-.5 3.1 .7 4.2 .5 3.4-.1 4.1-.2 4.5 0-2.4 4.9-2.2 3.4-1.9 4.7-2 4.3-2.4 4.3-2 4.8-1.6 3.6-3.2 4.3-1.6 5.5-1.6 4.1-2.6 4.6-2.8 4.3-1 4.8-2.8 4.6-1.6 4.1-2.1 4.2-1.9 4.6-2.1 4.8-1.5 4.7-1.3 3.4-5.2 .8-4.5 .2-1-5.1 .2-4.4-.4-3.8 .1-4.5 .2-4.3-.4-4.6-.2-4.2-.1-5.2 .4-3.6 .1-4.8-.8-4.2 .6-4.1 .1-4.5 .7-3.7-.2-4.9-.8-4.2 .5-3.3 .1-2.8 0-3-.6-1.4 2.1 3.1 1.3 3 2.1 2.7 1.5 2.5 1.1 3.3 .8 2.7 3.3 2.1 1.2 3.1 2.1 2.4 1 3 2.1 1.9 2.1 3 2 2.9 1.6 2.1 1.3 2.7 2.4 2.4 1.7 3.3 1.3 2.9 1.7 2.4 1.5 3 2.1 2.9 1.8 1.8 1.5 3.4 2.1 2.6 .9 1.8 2.2 3.6 1.8 1.9 1.7 2.9 1.9 3.3 1.8 2.4 1.8 2.7-5.2-1.2-4.9 .4-4.7 0-4.3-.4-4.3 .7-5.2 .8-4.3-.1-4.4 .2-4.7 1.1-4.4 0-4.7 .8-4.6-.6-4.3 .7-5.1 .1-3.5 0-5 1-4.3-.6-4.1 .8-4.7 .7-3.4-.2-5.5 .9-3 .4-5.6-.4-4 .3-3.8-.3 4 .1 3.6-.5 5-.3 4.4-.4 3.8-1.6 5.2 .4 3.6-.2 3.8 .2 5 .2 4.5-.5 4-.4 4-.4 4.2-.3 4.3 0 2.4-3.9 2.1-3 2.2-4.4 1.9-3.4 3-3.3 1.8-4.9 2-3.1 1.7-2.5 2.4-4.6 1.5-4.2 2.6-3.7 2.3-4 2.4-3.5 1.1-3.8 2.7-3.9 2.4-3.7 2.3-2.6 1.6-5.2 2.6-2.4 3.1-3.9 1.6-4 2-3.3 2.6-3.5 2.2-4.1-2.3-2.7-3.6 .6-3.3 .1-4 .5-3.7 .9-3.1 .8-3.4-.2 1.1 4.1 .8 3.1 1 3.9 1.2 3.6 .3 4.5 .7 3 1.5 4 .6 3.6 .5 3.5 2.2 3.8 0 3.4 1.7 4.2 1 2.6 .4 3.2 1.4 3.9 0 4 1.5 3.9 .6 2.9 .5 4.4 1.9 3.3 1.3 4.2-.2 3.3 1.6 4.4 .4 3.1-4.3 .2-5.1-.5-4 .2-5-.5-4.7 .6-4.6-.6-5.2 .4-5.1-.7-4.5 .4-4.5 0-4.8-.9-3.5 0-3.7 .9-1.9-1-2.9 .9-1.7-2.9-1.2-3.3-.4-2.8-.6-3.4-1.9-2.8-1.5-2.8-.1-2.8-1.6-2.8-.8-3.4-.8-3-1.7-3.2-.8-2.7-1.2-2.7-.9-2.9-.9-3.6-.9-2.6-1.2-2.6-1.8-3 .1-3.1-1.7-3.2-.6-2.7-1.7-3.2-1-2.6-.3-3-1-3.1-.8-2.3-2.2-3.7-1-2.9 2.1 2.7 .6 3.1 .8 3.2 .2 3.3 2 2.3 .9 2.8 1 2.6 .6 3.4 1.4 2.3 .6 3 1.4 2.8 1.3 2.5 1.4 3.3 .5 2.3 .9 3.5 1.3 3.2 1.2 1.9 1 3.5 .6 2.6 1.7 2.6 .7 3.3 .7 3.1 1.1 2.4 .8 3.3 1.1 2.9 1.4 2.2 1.5 3 .4 2.9 .4 3.4 4.4 0 2.4-1.1 3.2 .6 2.8 .5 3.4-.8 2.5 .2 2.9 0 2.6-.1 3.8-.5 2.5-1.2 3.4 0 3.1-1.5 2.7 .2 2.4 .2 3.7-1.6 2.5 .2 3.7 .1 3-.2 3.3-.9 3.1-.2 2.7-.8 .1-2.9 .1-3.6 1-2.7 .7-3-.7-3.9 .5-2.9 1.3-3.3-.2-3.6-.4-2.7" fill="none" stroke="#f6be92" stroke-width="1.0" stroke-linejoin="round"/>
<path d="M401.1 324.5l3.3 .2 2.8 0 3.4-.6 3.4-.1 2.8-.1 3.3 0 2.5-.6 3.8 .4 2.8-.6 3.4 0 3.5 .4 3.2 .3 3.7-.4 2.2 .3 3.4-.1 3.2-.2 3.5 .4 3-.6 3.1-.1 2.6 .2 3.6 .3 3.7-.1 2.6-.6 3.6 .6 2.8-.3 3.1 1.2 3.1-.6-3.8-.1-4.1 .7-5.4 .1-3.8-1.2-4.7 1.4-3.8 .1-5.1-1 .2-2.1 1.3-4.6 .8-3.1 2-2.9 1.7-3 1.4-3 1.7-2.9 2.2-3.7 1.6-2.6 .9-3.1 2.5-3.3 2.1-2.6 1.2-3.8 2.1-2.6 1-3.7 2.3-2.9 1.7-2.7 1.5-3.6 1-3.6 2.7-2.4 1.4-3.5 1.2-3.4 1.2-3.2 1.8-3.3 1.6-3.9 1.3-1.8 2.5-3.5 1.7-3.3 1.5-3.2 1.4-3.8 .6 4.1 0 2.5 1.7 3.4-.5 3.3 0 2.4 .8 3.5-.3 3 .5 3.2-.2 3.1 .1 2.6 .1 3.6 .3 3 0 2.7 .2 3.2-.1 3.1 .2 2.9-1 3 .3 2.6 .2 2.8-.3 3.4 .8 2.9-.7 1.9 .1 2.1-.3 .9 .6 .8-.1 .7-.8-2.4-.2-3.9-1.6-3.2 .1-3.6 .5-3.8-.5-3.8 0-2.8-.8-3.9-.1-2.3 0-4-.9-3.8-.6-2.8-.4-4.4 0-2.8-.1-3.7-.3-3.7 0-3.1-.4-2.9-1.8 1.8-1.6 2.6-.9 2.7-1.5 2.9-.4 3.2-1.4 2.6-1.2 2.6-1.5 3-.3 2.8-2.4 3-.5 2.3-1.3 3-1 2.7-1.8 3.1-.8 2.8-1.6 2.4-.5 2.6-1.3 3.9-1.4 1.8-.6 3.1-1.7 3.2-.9 2.5-.9 2.7-1.4 3.6-1 1.8-1.6 2.5-1.1 2.1-1.9 3.9-.5 3-.4 3-.6 3.4-1.2 2.6-1.6-3-3-.8-3.2-2 1.9-3.4 .1-2.7 2.5-2.6 .5-3.1 .3-3.2 1.9-2.9 1.1-3.9 1.6-2.2 .1-2.6 2.1-3.5 .7-3 1.1-1.9 .3-3.2 2.5-4.3-.5-2.6 2.4-3.2 .3-2.7 0-2.8 2.6-3.7 .3-2.6 .3-2.9 1.7-3.6 1.2-2.3 1.2-3.2 1-2.8 1.2-3.5 1.3-3.5 .7-2.8 1.3-1.9 .7-3.6 1.7-3.3 .1-2.7-1 4.2-1.9 4.2-1.5 4.1-1.8 3.5-2 4.1-.7 4-1.2 4.1-2.2 4.3-2.4 3.3-1.3 4.1-2.1 4.4-.6 4.3-2 3.7-1.6 3.7-1.7 3.3-1.7 4.5-1.5 3.1-1.3 5.5-1.5 3.4-3.3 3.8-1.2 3.7-2 4.3 5.2 .4 3.1 1.5 4.5 1.1 3.9 1.7 3.8 1.1 4.6 1.2 3.9 1.3 3.6 1.3 4.5 1.9-4.7-.2-5.6 .4-4.6-1-4.9 1.2-5.3-.4-4.4 1.3-4.8-2.1-3.1 1-3.9-.3-3.6 .1-3.5 1.3-4 0-4.9-.2-3.7-.6-4 0-3.8-.1-5.1 0-3.6 .1-4.2 0 3.7-.3 3.7 .5 3 .3 3.7-1 3.2 .5 3.4-.3 3.4 0 3.5 .5 3.5-.8 2.5 .2 4 .3 3.9 .2 1.8 .2 4.3 0 3.5 .3 3.7-.4 2.5 .1 3.2 .9-4.7-.2-4.3 0-5.5-.1 3.8 2.6 3.9 1.4-3.4 .6-3.6 .2-4.6 .1-3.8 .2-3.6-.5-4.1 0-4.5 .5-3.1 .1-4.2 .9-3.7-.4-4 .6-3.5-.8-4.7 .5-2.7-1.1-3.1 .4-3.8 .1 3.9 .2 1.7 .2 4 .2 2.8-.1 3.9 .3 2.3-.3 3.1 .1 3.9 .4 2.6 .1 3.9-.7 2 .7 4.5-1.8 2.8-1.8 3.6-2.8 3.2-.9 3.7-2.3 3.8-2 2.7-2 4.3-2 1.9-3.7 1.4-3.7 2.1-2.9 1.2-3.8 1.7-4.1 1.6-3.2 1.3-3.2 2.3-4.6 1-2.7 2.1-4.4 2-3.2 1.6-3.3 2.2-3.9 1-3.4 1.7-3.7 2.5-3.7 1.6-3.3 1.1-3.7 2.2-4.2 1-2.9 2.1-4.4 .8-3.6 1.7-3.1 .3 3.9-.2 4.2-.8 4.8-.8 3.9 .1 4.2 .1 4.5-.3 4-.5 4.1 .5 4.8 1 4.3-.5 3.7 .1 4.4-.1 4.6 .6-3.3 .6-2.5 1.1-4.1 1.1-2.7 .7-3.5 .2-3 0-4.1 .1-2.8 .3-3.5-.3-3.2 .1-3.7-.6-2.1 .3-2.4 .1-3.2 .1-1.7 .8-1.4-1-.4-1.3 3.6-3 2.6-1.1 3.5-3.6 3.1-1 4.2-2.4 2.5-1.3 4.1-2.2 3.4-1.8 3-2.9 3.5-2.2 3-1.7 3.8-1.9 2.9-3.3 3.1-.8 3.3-2.7 4.1-1.6 2.6-3.3 3.9-1.3 2.9-2.5 3.2-2.8 3.2-1.3 2.9-1.8 3.6-2 3.4-2.5 3.7 4.1-.2 3.9 1.1 3.6 .8-3.7 0-4.7-.1-3.8 1-4.9-.3-3.1 .2-4.7-.6-4.1 .4-4.6 .2-3.5 1-4.5 .9-4.9-.1-4-.6-3.9 .6-4.9 .2 4.1 .5 2.7-1.4 3 .3 3.8 .7 2.6 .3 3.9-.3 3.3-.3 2.9-.2 4.1 .1 2.6-.2 3 .9 2.9-.4 3.8 .3 3.4 .3 .4-4.7-.5-4.7 1.8-4.3 .8-3.8 1.7-4.6 .6-3.9 1.4-4.6 1.1-4.3 1.3-3.6 1.8-4.7 1-4.1 .6-3.6 1.9-4.6 .5-4.7 .9-4.8 .8-3.8 2-4.2 .7-4.3 1.2-4.1 1.6-4.8 .4-3.9 1.2-4.4 4.3-1.5 4.8-1.5 4.8-1 3.8-2.2 4.8-1 1.6-2-3.3-.3-2.1 .7-3.7 .6-2.9 .1-3.4 .8-2.7-.4-2.6 .2-3.8 .1-3.4 .6-2.4 .8-3.6-.4-2.6 .4 4.6 .5 4.5-.6 4.2 0 4.3-.8 4.7-.4 4.8-1.5 4.3 0 4.7-.7 .6 4.2 0 3.9-.3 3.4 .5 5.2-.3 4.5 1.2 3.8 1.5 3.8-.2 4.8 .5 3.5 .3 4.2 .1 4.2 .4 4.9 .4 4.1 1 3.3 0 4.3 .4 4.6 .6 4.3 .3 4.1-.1 4.2 .9 3.9-.9 4.6 .6 4.3 .5 3.7-.3 3.5-5.9 1-4.2-.6-4.7-.6-5.2 .1-5.4-.1-4.6-.7-5.5-.6-4.7 .4-5-.1-4.7 .3-4.6-.4-5.4 .6-5-.7-4.7-.2-5.4 0-4.4-.4-5.1-.6-5.5-.1-4.7-.2-4.6-1.2-4.8 .6 3.4-1.1 2.5 .6 4.2-.7 3.7-.4 2.8-.1 3-.6 4.3-.8 3.1 .4 3.3-.9 3.7-.4 2.8-.6 3.3 .2 3.4 0 3.4 .3 3.8-1.1 2.8-.1 3.8-1 3.2-.7 2.9 1.1 2.4-3.6 1.2-3.1 .3-3.4 1.1-3.6 1.7-3.5 .7-2.7 2.3-2.8 .8-2.8 1.5-3.4 2.2-3.4 1.1-2.9 2-2.9 .7-3.3 1.2-3 1.5-2.5 1.7-3.8 1.3-3.2 1.3-3.2 1.8-1.9 .8-3.9 1.6-3.4 1.5-2.3 1-3.6 1.3-3.1 1.6-3 1.5-3.5 1.1-2.9 1.2-2.9 .7-3.9-2.9 3.7-2.3 4.4-2.8 3.7-2.8 4.1-1.5 4.7-2.3 4.3-3.1 3.6-1.7 4.5-2.2 4.1-1.9 5-2.4 3.5-3 4.1-1.6 4.7-3.1 3.8-1.3 4.2-2.6 3.5-3.7 4.4-2 4.2-2.4 3.8-2.4 5.1-1.9 4.7-2.4 3.4-5.3-.3-4.6 .8-4.4-.9-5.3 .4-4.3-1.4-4.4-2-4.2-2.6-4.8-1.6-3.9-1.9-4.3-1.5-3.9-2.3-5.4-1.5-4.5-1.1-4.3-1.7-4.6-1.1 2.3-3.3 3-2.8 3.4-3.1 1.7-2.4 2.1-3.5 2.9-3.4 3.2-3 2.8-2.1 2.8-3.5 1.6-2.8 2.1-4.2 3-2.4 3.3-3.7 1.6-2.1 3.8-3.7 1.4-2.4 3.7-3.1 1.6-3.6 2.7-3 .4 4-.8 3.6 .7 3.8-.6 3.5 0 3.5-.8 4.3-.1 3.2 .8 3.8-.7 3.6 .1 4.1 0 3.2 .3 3.6 .5 3.6-.8 4.3-.3 3.4-.1 4 .3 3.4-.6 3.8 .2 3.5-.3 4.1 3.9 .2 3.8-.2 .3 .9-.9 1.1 3.4-.5 4.3 .9 3.7-.5 2.8-.8 .9-3.2-.5-3.8 .1-3.2" fill="none" stroke="#f6be92" stroke-width="1.0" stroke-linejoin="round"/>
<path d="M419.2 255.7l-2.7-2.8-3.5-1.8-3-2.9-3.1-2.4-3.2-2.7-2.8-1.8-4-3.3-3.1-1.6-2.1-1.7-3.6-3.5-2.8-2.6 4.4-1.5 1.7 2.8 1.5 3.2 1.8 3.9 1.2 3.2 2.4 3.5 1.2 3.2 1.8 3.6 1.4 2.8 1.5 4.3 1.8 2.5 2.8 4.2 1.4 2.7 1.1 2.7 1.9 3.8 1.7 4.5 1.6 2.5 1.6 3.2 2 4.1 1.4 2.9 2.7 3.4 1.1 3.8 1.2 2.7 1.7 4.1 2.2 2.8 1.3 3.2 1.3 3.8 2.4 2.4 1.1 3.6 4.1-.6 4-.9 3.1-.3 4-.5 3.8-.8 3.4-.4 2.2-3.2 4-2.9 1.9-2.3 2.6-2.8 2.1-3 2.3-4.1 2.3-1.6 2.7-3.4 2.7-2.7 2.3-3.4 2-2.1 2.6-3.1 2.3-2.5 2.6-3.2-2.6 2.8-2.5 3.6-2.1 3.7-3.3 2.7-3.2 3.3-2.4 3.5-2.7 3.2-1.9 3.4-2.6 3.2-2.5 3.2-2.9 3.7-2.7 4.4-4.2 1.1-3.7 1.2-4.1 .7-3.1 2.2-4.4 1-4.6 1.6 3.5-.6 3.2-1.7 4.3-1.3 2.3-1 2.8-1.5 1.5-3.7 1-3.5 .5-3.3 .7-4.1 1.1-2.7 .7-3.6 .6-3.4 .7-4.2 1-3-.1-3.9 1.1-3.9 .1-3.1 1.2-3.6 1.1-3.5 .1-3 .6-3.3 .8-4.1 .7-4 1.1-3.1 1.2-3.5 .3-3.4 .4-3.6 .5-3.1 .5-3.9 .3-3.5 5.3-.7 4.9-.4 4.3-.2 4.5-1 4.9-1 .3 4.5-.2 4.3 1 4.2-.2 4.7-.2 5.2 .3 3.5 1.3 4.4-.5 4 .7 4.1 .3 5.6 .8 3.5-.2 4.2 .5 4.3-.6 4.3 .4 4.5 .9 4.7-2.5-4.3-1.2-3-1.5-3.6-1.9-3.7-1.8-3-1.9-4.6-.2-3.7-1.5-3.2-1.5-3.2-3.1-2.9-1-5-1.6-3.1-2.3-3.4-2.1-3.8-.5-3.4-1.2-3.3-1.2-3.9-1.3 4.8 0 3.4-2.2 4.3 .1 4.7-1.6 3.7-.5 3.1-1.1 4.6-.8 4.4-.4 3.7-1 4.6-.2 3.9-.9 4.2-1 3.5-.1 4.7-2 3.6-.8 4.2-1.2 4 .2 4.1-1.5 4.6-4.1 .2-3.8 .9-4.4 .5-4.7 1-3.5 .2-4.3 .3-3.8 1.3-4.5 .2-2.9-3.5-2-2.4-3.2-3.8-2-2.9-3-3.8-2.5-3.7-2.7-2.5-2.3-3.3-1.8-3.5-3.4-3.1-3.4-2.8-2.1-3.7-2.7-3.2-2.2-3-1.2 3.7-1.4 4.4-.1 4.4-.7 4.3-.3 3.7-.5 4.4-.5 4.2 1.1-4.8 1.1-4.4 2.1-5.5 1.3-3.9 .9-5.2 1.2-4.8 1.1-4.4 1.6-4.8 .7-4.5 1.4-4.6 .9-4.5 2-5.1 1.3-4.6 1-5.2 1.5-4.5 .4 4.5-.1 3.4-.9 4 1.1 3.8-.2 4.4 .2 3.2 0 4.5-.9 3.8 .6 3.8 .5 4.8-.5 2.9 1 4.4 0 3.8 .4 3.6-.1 3.7 .2 4.9-.7 3.2 .4 4.3 .2 3.6-.3 3.6 1 4-.7 3.2 3.2 .8 4.2-.6 3.8 1.2 3.4-.2 3.7 0 3.7-.7 4-.2 3.5-.2 4.2-.2 3.6-.6 4.1 .8 3.8-.6 1.2-3.2 2.8-3 1.9-3.4 1.4-2.9 2.4-2.8 2.6-4.1 2-2.2 1.9-3.7 1.7-3.4 2.2-2 1.4-3.8 2.8-3.3 1.6-3.7 2.1-2.4 1.9-3.6 1.7-2.6 2.1-2.7 1.8-4.6 2.6-2.3 1.6-2.8 1.4-4.6 2.1-2.3 2.8-3.3 2.1-2.9 1.3-2.8 2-3.4-.8-4.1-2.8 3.6-1 3-3 4.4-1.4 3.8-1.8 4.3-2.5 2.9-2.2 4.1-1.9 4.5-1.7 3.7-2 3.8-1.3 4.2-1.9 3.6-2.5 3.7-2.2 3.8-1.6 3.7-2.8 4.9-.9 3-2.5 4.4-.8 3.9-2.6 3.4-2.1 4.3-2.1 3.6-1.8 4.3-4.4-.7-5.1-1.2-3.4 .2-4-1.5-4.6-3-2.9-2.6-3.2-2.4-2.7-3.2-2.7-2.9-4.3-3-2.9-3-3.3-2.9-3.6-1.8-2.9-3.4-3.6-2.7-3-2.5-4.2-3-.1-2.6 1.5-3.4-.6-3.2 .9-2.9 .6-4 .3-2.1 .5-3.4 .2-3.3 1.9-1.6-1.2-4.1 1.3-3.4-.4-2.5 .3-3.4 .8-3-.2-2.9-.1-2.8 1-3 3.5-1.6-4.9-1 3 .8 2.6 0 2.9-.1 3.7-.3 2.8 .2 2.9 0 3.2 .3 2.8-.9 3.1 1 3.7-.3 .3 4.4 .2 3.2 .8 5.2 .2 3.9 .8 3.7 .9 4.8-.8 4.8 1.5 3.9 .5 4.6 .7 4.1 .5 4.6 0 4.7 .4 3.8 1.2 4.6-.4 4.7 .5 3.1 1.3 5.2-.1 4.6-.3 4.1 .9 3.6 .7 3.9-2.9 4-3.3-1.8-.6-3.7-2.3-2.4-1.4-2.8-2.3-2.1-1.1-3.2-1.5-1.9-1.1-2.6-2-3.4-1.2-2.9-1.9-2.1-1.6-3.3-1.3-2.6-1.7-3.1-1.6-2.5-1.5-3.2-1-3.6-.9-2.1-1.9-2.3-1.5-2.9-1-2.3-1.7-3.1-1.3-2.9-2.3-1.9-1.9-3.3-1.1-2.5-1.4-3.3-1.6-3-1.6-2.6-.8-2.9-2.3-2.8-.3-2.4-.1 4.3-.3 4.7-.5 4.6 .5 3.4 .1 4.9 .1 4.1 .2 4.4 .8 5.2-.6 4.2 1.2 4.2 .2 4.4 .4 3.7-.4 4.8-.4 4.8 .4 4-.3 4.8 2.8 .6 4.3 1.5 3.3 .6 4.5 .8 3.1 1.3 3.2 1 4.2 .8 3.1 .8 4.1 1.2 4.1-.5 2.5 1.9 3.4 .5 3.7 1.3 3.9-.1 2.6 1.6 3.7 1 4.2 1.8 3.6 .2 3.3 1.9 2.6-2.7 1.8-3.9 1.1-2.9 2.4-3.5 2.4-3.1 2.1-3 1.4-3.1 3-2.8 .8-2.8 2.4-3.4 2.2-3.2 1.9-2.9 1.4-3.4 2.6-3.1 2.3-3.1 2.2-2.3 2.6-3.6 1.6-2.5 1.5-3.6 1.9-2.9 2.8-4.2-.7 4.8 .3 2.7-.4 2.7-.6 3.6 .4 3.4 0 2.7-.6 3-.3 3.3 .6 2.8-.5 3.9-.3 1.9 .9 3.7-.7 3.1 .1 3.7-.5 2.2 .6 3-1 3.6 .2 3.4-.4 2.4 .5 3.6-4.2-.5-4.2 .1-3-.7-4.2-.3-3.7 .1-3.5 .4-3.8-1.1-4.6-.3-3.4-.3-4.2-.2-3.1-.3-4.6-.4-3.5-.2-3.3-.2-4.2 0-1-3.7-.2-3.6-.3-4.3 0-3.2-.8-3.8 .1-3.6-.4-4.1-.3-4-.8-4-.7-3.5-.9-4.3 0-3.9-1.7-3.8 1-3.6-.6-3.8 0-4.4-.7-3 .2-4.7 0-3-.1-3.4-.9-4.5 .1-3.5-5.5-1.3-4.6 1.7-4.9-1.1-4.4 .4-5.3 .1-5.2-.7-4.8 .5-5.6-.4-5.3-.6 4.6 2.6-3.3-4.3-3.7-2.6 4.1 .3 4.7 .2 5.6 .1 4.7 .6 3.6-.6 5 1.1 4.9-.6 4.6 .9 5.1 .4 3.9-1 6 1.3 1.6-4.4-.1 4.2 .5 5.6-.8 4.6-.3 4.7 .4 4.7 0 5.5 .6 3.9 0 4.7 .5 5.1-.6 4.4-.8 4.5 .4 5.2 .2 4.4 .5 5.2 .1 4.7 .3 5.1 .7 4.7-.7-4.8 .7-4-.6-3.9 .1-4.2-.2-4.4 .1-3.8-.5-4.3 .4-4.4-.2-3.4-.2-4-.7-4.4 1.2-4.2-.7-4.2-.6-4 .3-4-.2-4-.4-3.9 .5-4.4-4.1-.6-4.3-.2-4.5-.8-4 .1-4.1-.7-3.4-.6-4.4-.2-3.9-.9-4.2-.7-3.9-.6-4.1-.8-.4 3 .4 2.6-1.6 3.5-.4 3.3-1 3.2-.3 3.2 .5 2.8-1.5 3.4 .7 2.9-1 3.3 .4 3.4-.6 2-.4 4-1.1 3 .7 3.2-1.1 2.7-.4 3.4-.1 3.2-.5 2.8-1 3.1 0 3.1-.3 3.4 .3 3.3-.8 2.9-1.7 2.3 .5 4.1-.4 3.1 2.3-4.1 3.1-4.8 3-2.8 2.9-4.1 1.7-3.7 2.9-4 2.4-4 2.7-3.6 2.6-3.8 3.1-3.1 2.4-4.9 2.5-3.5 2.8-4.1 2.1-3.6 3-4.4 3.2-3.7 2.6-3.1 3.2-4.1 2.9-3.6 2.1-4.1 .3 3.9 .2 4.1-.3 4.1 0 3.9 .5 4.2-.1 3.5-.5 4.7 .3 3.8-.2 3.7 0 3.6-.1 4.2 0 3.9 .6 4-.1 4.1 .8 4.1" fill="none" stroke="#f6be92" stroke-width="1.0" stroke-linejoin="round"/>
<path d="M475.7 281.8l1.6-2.8 1.1-3.1 1.1-2 1.3-3.1 1.4-3.2 1.9-2.4 .7-2.5 2.4-2.8 0-3.2 2-3.5 1.7-1.9 .8-3.3 1-2.3 2-3.3 1.3-2.4 1.5-2.4 1.3-3.7-2.3-1.8-1.2-2.4-3-1.7-4.2-1.2-4.3-.1-4.6-.1-3-.3-4.6-1.6 4.4 2.6 3.5-.6 4.2 .1-.5 3.1-1.5 2.9-1.7 2.3-.7 4.2-.5 2.7-.8 3-1.5 2.8-.5 3.7-.8 1.9-.8 4.2-1.5 2.2-.6 2.9-1 2.7-1.5 3.4-.6 2.8-.9 2.6-1 3.4-.8 2.5-1.2 2.7-.7 3.4-1.5 2.7-.8 3.8-.5 2.7-1.5 3-.6 2.7-1 3.6-.9 1.9-.4 3.2-1.5 3.1-.7 2.9-2.9 .7-3.5 1-3.5 1.1-1.7 .9-4.2-1.4-3.6-1.7-3.7-.2-1.6-3.4-1.7-3.6-2.5-3.3-1.1-3.8-2.3-1.9-2.7-3.8-1.2-3.6-2.4-3.4-2.2-3-1.4-3.5-2.1-2.9-1.7-3.4-1.9-3.4-2.4-3-1.9-3.1-2.4-3.9-1.3-2.8-2.5-4-2.1-2.5-.9-3.1-3.2-3.2-.7-4.3-2.1-2.1-3.4-3.2-.8-4 3.4-.8 3.3-1 4.2-1.3 3.6-.6 3.7-1.3 3.9-.5 3.2-1-4.4 .5-4.5-.8-4.4-.1-4.9-.5-1.6 .1-2.7-.7-2.9-1.5 4.4 1-.8 5.1 .9 4.1-.9 4.5 .7 4.7-.5 4.8-.2 5.2-.2 4.2 .2 5.2-.4 4.6-.2 4.7 .3 4.6 .5 4.1-.4 4.5 .2 4.4-.4 5.9-.3-5.1-1.6-4.8 .3-4.5-1.4-5-.1-5.2-1.7-3.8-.4-4.8-.3-4.8 0-4.4-.5-4.7 .4-5 0 3.4-.6 3.4 1.2 3.9-.1 3.3-.2 3.1-.4 3.3 .2 3.7 .4 3.3-.4 3.4-.8 3.1 .3 3.7-.2 3.6 .7 3.5 .1 2.8 .5 3.8 0 2.9-.8 4.6-.1 3.2 .7 3.3-.8 3.5 .5 3.1 .3 3.2 3.9-.1 4.4 .8 4.5-.6 4.6-.1 4 0 4.3-.4 5.2 .8 3.3-.6 5.1 1.4 3.8-.9 4.9 .6 3.7-.4 4.2-.6 4 .5-3.6 0-4 .5-4.1-.2 5.6 .8 3.5 2.4 4.5 .4-3-1-2-3.5-2.1-2.1-1-3.4-2.3-3.4-1-2.6-2.5-2.8-1-3.3-1.7-3.9-3.4-1.4-1.5-3-1.6-4.2-2-2.2-1.5-3.4-1.7-2.7-2.4-3.3-1.9-2.9-1.5-2.9-1.9-2.4-1.8-3.4-2.4-2.2-2.1-4-1.7-2.4-1.6-3.2-2.4-3.1-1.9-1.8-1.3-3.6-3-3.2-1.7-3.8-1-1.8-2.4-2.9-1.7-3.6 .6 4.4 .2 4.6 .3 4.1 .2 4.5 .3 4.3-.1 3.9 .8 5.4 .4 3.4-.1 3.9 0 5 .1 4.5-.3 4.6 .3 3.5-.1 4.6 .4 4.1 .1 4 .8 5.5 .6 3.4-1.2-3.9 .6-3.6 0-4.1 .1-4.4 .3-4.3-.6-3.8-.3-4.1 .3-3.4 .7-4.3-1.1-4.5 .3-4.1 .2-3.5-.5-4 .4-4.4 .2-3.9-.7-3.8-.5-4.2-.1-4-.5-4 .4-4.2 3.7 2 3.8-.3 4.9-.1 4-.1 3.7-.2 3.4 .8 4.4-.4 3.9 .9 4.3-1 4.2 .1 3.4 .2 4.3-.9 2.6-.5 4-2-2.5 .3-3.3 .4-3.5-.8-3.2 .6-2.7-.6-3.7 .5-3.4 .7-3.9-.2-2.6-.3-3.4 .6-3.5 .5-2.8-.5-3.6 .1-3.7 .2-2.9 .4-3.6 1.7-.5 4.2 .7 3.9-.4 4.7-.1 4.9 .1 3.4 .3 4.8-.4 5.2 .7 4-.5 4.8-.2 4.3 .2 3.5 0 5.2-.7 3.7 .2 4.8-.5 5.3 0 3.6 1.6-3.5 2.3-3.7 .9-3.7 1.5-3.9 1.4-4 2.5-3 1.2-4.6 .8-3.7 2.4-3 2.2-4.3 .5-3.7 1.8-3.9 2-3.9 1.6-4.2 1.9-3.7 1.1-3.2 4.3-2.2 4-2.2 3.6-1.7 3.5-2 3.7-2.5 3.9-2-4.1-.7-4.3 1.5-2.8-.4-3.5 .3-3.6 .3-2.9 1-4.2 .7-2.9-.9-4.3 1.4-3.2 .1-4.1 .4-3.3 .5-4 .5 4.7-.5 4.2 .6 3.2-.5 4.8-1 4.5-.2 3.4-.2 4.7 .7 4.7-.1 4.5 .2 4.2-1.5 4.2 .4-4.5-.5-4.3 .4-4-.2-4.7-.1-4.2-.1-4.9 .2-3-.3-1 4.3-2 3.9 0 4.8-1.2 3.4-.6 4-1.3 4.3-.3 3.7-1.8 4.7-.8 3.1-.8 4.8-1.1 3.9-.2 3.8-.7 3.9-.6 4.4-1.4 4.9-.8 2.5-.8 4.9-1.2 3.5-.5 4.1 3.5 2.1 3.8 1.2 3.7 1 3.6 2 3.4-.3 3.4 1.5 4 1 2.9 1 4 1.6 3.9 1.1 3.6 1 3.5 1 2.7 1.2 4.3 .9 3.8 1.1 3.4-.3 3.8 1.2 3.9 .2 3.5 .5 3.3-.6 3.9 1 4.1-.3 3.4-.7 4.1 .1 2.4-.9 4.4-.3 2.8-1.3 3.3 .4 3.5-.7-4-.9-5.4-.6-4.1 .4-5.2-1-4.6-.4-4.5-.9-4.6-.5-5.4-1.6 2.8-3.3 2.6-4.8 2.3-2.4 1.6-5.4 3.2-3.9 2.4-4.4 2-4.2 2.9-3.4 1.6-4.5 2-4.4 2.3-3.9 2.2-4.7 2.2-4 1.9-3.9 2.6-4.3 2.5-4.7 2.2-3.3 2.4-4.3 2.4-4.8 1.7-3.5 2.5-4.4-3.6-.8-3.8 .9-3.3-.9-4.7-.1-3.3-1.1-3.8 .4-4-.2-3.7-.1-3.7 .2-3.6-.3-3.4-.7-4-.3 4.1 .5 3.8-.3 3.6 .6 3.7-.8 4.4-.4 3.5-.2 3.9 .7 3.6-.1 3.4-.1 4.3-.2 3.9-.4 4-.1-1.1 2.8-2.1 3.2-1.7 3.1-1.6 3-1.5 3.1-1.3 2-1.6 3.2-1.4 3.7-1.5 2.6-1.5 2.7-1.3 2.8-1.9 2.7-1.1 3.7-1.5 2.5-1 3-1.2 3.3-1.9 2.3-1.6 3.6-2.1 2.9-.6 2.2-1.5 3.9-1 2.1-1.6 3-1.9 3.2-1.6 3.1-1 2.8-2 2.1-.9 3.3-1.7 2.9-1.7 2.6-1.6 3.2-3.1-.5-4 1-3.2-.1-2 .5-3.8-.3-4-.4-2.6 1.2-3-.6-2.5-2.4-2.2-1.4-2.7-2.8-2.3-2.4-2.8-2.5-2.6-1.1-2.4-3-2.4-2-2-3.2-1-2.6-.5-3.4-2-2.2-1.5-4.1-.4-2.9-1.8-3.9-.7-3.3-1.6-3.2-1.4-2.9-1.7-3.6-.8-2.3-1.3-3.4-1.4-3.3-1.7-3.1-.8-2.6-1.5-3.1-.6-3.9-1.7-2.9-2.1-3.2-.5-2.9-1.4-3.3 4-.3 3.8 .6 3.1-.9 4.3 1.1 3.8-.6 4.1 .8 2.7 0 4.2-.1 4.2 1.2 3.9 .2 3.4 0 4.1 .2 3.7 .2-.2 4.7 .8 3.7 .4 5.4 .3 4.5-.4 4.2 0 4.6 .3 4.3-.2 4.9-.9 4.4 1.4 4.3 .5 5.4-.3 4.2 .2 4.5 .5 4.5 .6 4.5 .3 4 .3 4.7 0 5.6-.1-4.5 0-4.2-.3-4.1 .8-2.8-.4-4.2 .3-4.1 .5-3.3 0-4.4 0-3.1 .3-4.4-.6-4 .1-2.9-.6-5.1 .8-2.9-.1-4.2-.1-3.5-.4-4.1 .7-3.9 .1-4-.1-3.7-.6-3.3-1.7 4.1-1.3 3.3-3.1 3.9-.9 3.7-2.5 3.7-1.9 3-2.6 4-1.2 3.7-2.3 3.7-1.4 4.1-2.6 3.3-2.5 3.5-.4 4.6-2.9 3.5-.8 4-2.4 4.1-1.5 3.8-2 2.8-.5-3.6 .2-4-.2-4.5-.1-3 .2-4.3-.7-4.2 .2-3.6-.1-4.5 .3-4.3-.3-3.5 .4-4.2-1.1-4-.2-3.2 .1-4.6-.1-3.9-.8-4.1 .3-4.2-.3 3.4-.9 2.7 .1 2.6 .1 3.3 1 3.5-.9 3 0 2.7-.8 3.9 .7 2.6-.2 3.1-.4 2.8-.5 2.3 .6 3.6-.3 3.4-.2 2.7-.5 2.8 .7 2.8-.6 3.7 .1 2.4 .6 3.1-.5 2.3-.2-3.9-.8-3.6-1.1-4.7-.2-3.1-.7-4.4 .2-4.3-1.3-4-.9-5.7 0-3.2-.8-3.7 .1-4.6-1.1-4.1-.3-4.5" fill="none" stroke="#f6be92" stroke-width="1.0" stroke-linejoin="round"/>
<path d="M445.2 324.5l-4.1-1.2-4.9-1.4 .4-5.2 0-4.4-.1-5.1 .2-5-1-4 0-5-.2-5.1 .9-4.4-.3-4.5 0-4.7 .4-4.5-.3-5.3-.5-4.8 .3-4.3 .7-5-.1-4.6 .6-4.8-1.1-4.6-.4 4.3 .9 4.3-.5 4.3 .1 4.5-.6 4.6-.5 4.1 .4 4.8-.9 4.4-.5 5.3-.4 3.4-.5 4.7 .6 3.8-.4 4.5-.8 5 1.1 4.6-.8 4.2 .1 4.2 0 5.1-.4 3.9 4.7 .6 4.5-.9 4.4 .9 3.5-.1 5.2-.1 3.9 .3 5.3-.2 5 0 4.3-.5 4.5 1.3 4.8-.4 4.6-.1 5.1 .6-3.1-.9-3-.1-3.9 .5-3.5 0-3.3-.4-3.1-.2-3.8 .3-3-.3-2.5-.7-3.1 .7-3.3 .2-3.8 .2-4.2-.1-2.7-.7-3.4 .4-3.1-.6-3 .1-3-.1-1.8-2.9-1.5-3-1.4-2.2-2-3.1-1.1-3.6-1.1-1.9-2-3.2-1-3.6-1.5-2.4-1.2-2.7-2.3-3.3-.7-3.1-1.2-3.3-2-2.8-1.3-2.9-1.6-3.8-1-2.4-1.2-2.8-1.9-3.2-.9-3.4-1.7-2.6-1-2.6-1.8-2.6-1.7-2.9-1.4-3.9-1.4-3-1-2.7-.9-2.7-2.3-3.9-.7-2.4 3.6-.1 3.4-.7 3.8-.1 3.6-.6 3.7 .7-.4 2.5 .3 2.2 .8 3.8-.2 3.2-.6 2.6 .4 3 .6 3.6 .3 2.8-1.2 2.4 .4 3.3-.3 3.3 .3 2.8-.5 3.1 .5 2.7-.1 3 1 3.5-.6 2.7 .5 3.9 .1 2.4-.3 2.7 .4 3.2-.6 2.8-.7 3.2 .3 2.9 .6 3.7 .1 2.7 0 3.5-.5 2.7 .5 2.4 4.1-.6 4.2 .3 4.1 .7 3.7 1.5 3.4 .9 3.3 .4 4.4 1.2 4.3 .6 3.7 .9 3.3 .8 .3-4.3 .2-4.3 .7-3.3 .4-3.5 .1-3.7-.3-4.3 .1-4.3 .3-3.8 .2-3.4 .1-2.9 .3-4.4 .5-3.5-.2-4.4 .1-3.3 1-4.1-.2-4.1 .3-3.3 .3-3.7 1-4.4-.5-3.6 .2-4.3 .4-3.8-.1-3.4 0 3.5-.1 3.4 .1 3.3 .7 2.7-.9 3.8 .2 3.6 .2 3.5-.3 2.9 .6 3.6-.6 3.4 .2 2.7-.1 4.1 .2 3.6-.7 2.9-.2 3.7 1.3 3-1.3 3.8 .9 2.6-1.4 3.4 0 3.8 .2 3-.5 4.6-.1 1.8 0 3.4 3.3 .6 4 .2 4.4 .5 3.1-.8 3.1 .1 3.8 .2 4.2 .6 3.2-.6 3.7 0 3.6 .7 3.4-.3 4 .2 3.5-.1 3.5 .2-3.3 .4-4.3 .5-4.9-.4-3 1.4-5-.5-3.1 0-4.6-1-3.9 1-4.7 .2-3.7 .4-3.5 .3-4.1 .2-4.3 .4-4.5 .1-3.1 .1-4.7 .5-4.3-.3-4 1.6 .4-5-.2-3.8 .7-3.8-.1-4.5 .2-4.2 1-3.2-.7-5.1 1-4.1 0-3.5 .4-4.4 .6-3.7 .3-4.1-.9-4.4 1.1-3.9 .1-4.4 .5-3.4 .7-4.5 .1-3.8 .6-3.9 .6-3.8-.2-4.2 1.4-4.2-3.9-.6-4.3-.3-3.6 .1-3.6-.5-4.6-.7-3.5-.2-4.6-1.1-3.4 .3-4.1-.6-4-.6-4.2 0-1 2.8 .6 3.5-.4 3.5-.2 4.2-.6 3.5 .2 3.1-.6 3.3-.6 2.9 .9 3.8-1.1 4.4 .1 3.7 .4 2.8-.7 3.8-.5 2.8-.5 4.4 .8 3.8-.4 3.2-1.3 3.5 1.1-5.1-.8-4 0-4.8-.1-4.2-1.1-4.7-.4-4.8-.6-4.7-.5-5.2 .9-3.7-.8-4.5-.5-4.3 .3-5.3-1.1-4.4-4.1-1.1 5.2 0 4.1-1.1 5.7-.2 5.1-1.4 4.6 .6 5.8-.6 3.8-.6 .7 4.7-.8 3.4 .2 5.1 .2 4.9 .8 4 1 3.7-1.2 4.2 1 4.8 .1 4 .4 3.8-.4 4.9 .3 4.3 .5 4.5 .4 3.6 .7 3.8-.3 4.4-1.6-2.5-1.5-3.9-2.2-2.9-1.9-3.8-2.1-2-.9-3.9-3.4-3.5-1.5-1.3-1.8-4.4-1.7-3.1-1.9-3.2-1.1-3.1-3-3.1-1.5-3.1-2-3.2-.6-3.1-2.9-3-2.1-2.7-1.4-4 0-3.4 .3-3.9 1.8 3.6 2 3.1 2.1 3.7 1.6 2.9 1.2 3.4 1.6 3.9 1.5 3.1 2.3 2.5 1.6 4.8 2.3 2.8 1.2 2.9 1.9 3.9 1.9 2.7 1.9 3.5 1 4.1 2.2 2.4 2 3.9 .7 3.3 1.7 3.6 1.5 3.1 2.7 3.9 1.5 2.7 2 3.6 1.3 4 2.2 2.1 .7 4.3 2.5 3.2-1.5 3.7 4.1-.6 3.9-.5 2.4 .5 3.2-1.1 2.7-.4 3.5-.8 2.6-.6 3.3 .4 1.8-2.6 2.1-3.5 1.9-2 .9-3.6 1.4-2.5 1.3-3.1 1.5-2.5 1.9-2.6 1-3.2 1.5-2 2-3.6 1.6-2.8 .8-3.4 1.3-2.7 1.7-2.6 1.3-2.6 1.8-2.7 1-3 1.4-2.6 2-2.6 1.3-3.1 .8-2.3 1.7-3.6 .9-3.4 2.1-2.3 1.9-3.1 .9-2.1 1.2-3.4 2.2-2.2 1.2-2.5 1.3-4-1.1 4.4 1.1 3.3-1.2 4.1-.3 4.1 0 4.2-.2 3.4-.7 3.6-.1 4.4-.6 3.6-.1 4.2 0 3.7-.3 3.8 .4 3.5-.2 3.8-.6 4.8-.9 3-.6 4.5 .1 3.5-1.9-2.1-1.1-3.1-1.7-3.2-2.2-3.3-1.4-1.8-2.3-3.1-2.4-2.3-.9-3.1-1.8-2.4-2.4-2.2-1-3.6-1.5-2.8-1.7-2.1-1.3-3.3-1.9-3-1.5-2.7-2.5-2.4-1.6-2.5-1.4-2.8-1.3-2.7-2.2-2.8-2.3-3.5-.8-2.1-.9 3.3 .3 3.5 1 3.2 .7 3-.9 3.7 .6 2.5-.1 3.9 .9 3.1-.5 2.9 .6 2.9-.4 4.1-.1 2.7 .4 2.7 .5 4-.6 2.9 .6 3.6 .1 3.7 .8 2.9-.1 2.9 0 3.1 1.2 3.4-.7 3.7 .3 3.2-.6 2.8 .2 3.7-4 .9 1.9-3.4 2.5-4.2 1.9-3.6 1.3-3.9 2.1-4 2-3.5 2-3.6 1.3-4.3 1.8-3.1 2.5-4 1.7-4.2 1.5-3.1 2.6-4.2 2.2-3.3 2.1-3.7 2-4.2 2.7-3.3 1-3.9 2.3-3.9 1.5-4.4 2.5-2.7 1.4-4 1.7-4 1.6-3.3 2.9-3.8-4.2 .2-4.7-.3-4 .4-4.5-.2-4.3-.5-4.1 .2-4.4 .3-3.4-.4-5.2-.8 4.8-.7 4.7 .5 3.6-.7 4.8 .2 4.9-.5 4.4-.5-1.7 3.9-1.3 4.1-1.8 4.4-1.3 3.2-2.1 4.2-1 3.7-1.9 4.2-2.1 4.6-1.1 3.4-2 3.9-2.3 3.9-1.1 4.4-1.3 4-1.4 3.7-2.1 4.2-1.5 4.1-1.5 3.9-1.4 3.9-1.7 4.5-1.7 4-.9 4.3-3.4 2.8-4 3.5 5.3 2.1 3.6 1.9 4.4 2.2 5 1.4 4.5 1.6 3.7 2.3 4.6 .8-4.4 .9-3.1 .4-3 .5-4.2 .8-4.7 1.1-3.9-2-4.3-1.8-4.2-2.3-3.8-1.4-4.3-2.1-3.7-1.1-4.5-1.2-4.3-1.2 1.3-5.4-.5-4.2-.3-4.2-.4-5.4-.1-4.3-.4-4.1-.7-3.8 1.8-5.2 0-3.9-.5-4.3 .1-5 0-4.8 .1-3.7-.1-5.1 .8-4.3 .3-4.6-.1-3.8-.4-4.7 .8-4.3-4.2 .1-3.9-.8-4.6 .4-3.2 0-2.9 .1-4.9 .5-3.2-.7-3.2 .1-4.8 .1-3.4-.8-3.8-.1-3.8 .4-.4 4.7-1 5 .8 4.5-.6 4.4-.9 5.4-.3 4.7-.3 4.3 .1 4.8-.6 5.1 1.3 4-.2 4.8-.3 4.6 .2 4.9-.5 5.2-.4 4.1-.5 5.5 1.1-4.6 2-3.6 1.9-4.4 1.8-4.5 .6-3.7 1.7-4.8 1.3-3.9 2.5-3.4 1.2-4.5 1.8-5.1 1.5-2.5 1.6-5.1 1.9-4.1 1.8-4.4 .6-3.7 3.4-4-.6-4 2.3-5 .7 3.9 .3 3 .9 4.1 1.1 3 .3 3.9 .9 3.1 .3 2.9 .3 3.9 .8 3.8 1.1 3 .2 3.3 1 3.9 .4 2.9 .5 4.3 .9 3.8 .6 2.8 .6 3.2 1.1 3.6 .5 3.6 .3 3.5-.1 3.2 .4 3.6 .6 3.8 0 3.4 4.6 .5 3 .2" fill="none" stroke="#f6be92" stroke-width="1.0" stroke-linejoin="round"/>
<path d="M403.4 273.4l-.3 4.1 .8 4.4-.5 3.9 1.2 3.9-.8 3.7-.1 5.2 1.2 2.8-.5 5 .7 3.8-.3-4.8 .4-4.5-.2-3.4-.3-4-.2-5.2-.3-3.9 .3-4.1-.4-4.1-.4-4.1-.8-4.6 .2-4.9 .8-3.1-1-5.5 .9-4.1-.7-3.8-.6-4-.4-4.5 .3-4.2-.6-4.2 3.2-.3 2.6 .2 3.1-.8 3.5 .6 3 .2 3.2-.8 2.6 .2 2.5-.4 3.4 .3 3.1-.9 2.9-.4 .7 5.2 .1 5.4-1.3 4.3 .5 4.2-.3 5.7-1.1 4.8-.3 4.9 1.2 4.5-.6 4.2 .3 4.7-.1 5.8 0 4.8 .7 3.9-.6 5.4 .2 5-.5 4.6 .8 4.8 .7 5-.8 4.3 .4 4.8-.4 5.5 3.5-2 3.3-1.2 3.4-.7 3.6-2 3.6-1.2 3-1.1 4.1 .1 2.8-1.9-3 .5-3.1-.2-4 .9-2.9 .9-3.4 .7-3 .8-3 1.3 3.2-2.1 5.3-1.7 1.5-3.7 2-3.1 2.3-4.2 3.1-3.7 2.5-3 1.6-3.8 2.8-4.1 2.4-3.3 1.8-4.3 2.1-3.4 2.2-3.4 3.3-3.8 2.3-2.8 2-3.9 2.2-3.8 2.6-3.7 2-3.7 2.3-2.7 2.3-3.9 2.5-4.4 1.7-3.3 2.9-3.2 2.1-4.2 2.7-3.9 .2-2.7-2.9-.7-4.7 .5-4.3-1.9-4.2 0-3.9-1.2-3.8-.3-4.7-.6-4-.3-4.1-.7-4.1 0-.1 3.5-1.1 5 0 4.3 0 4.2-1.4 5.3-.6 4.7 .4 4.2-.8 4.4-.3 4.9-2.3 3.9 1.1 5.5-.5 3.7-.4 4.4-1.5 4.6-.4 4.7-.7 4.2-.3 4-.3 5.3-.5 4.5-.1 1 .3-2.9-.4-3.9 .1-3.1 .9-4.4 .2-3.1-.1-2.9-.3-3.4 .6-4.1 .2-4.1-.7-3.1 0-3.2-.2-3.2 .4-3.1 .3-3.8-.4-3.6-.1-3.2 1-3-.7-4.8 .1-3.4 0-2.8 .6-4-.4-3.1-.9-3.8 1.3 3.6 .2 4.9-.4 3.2 .7 4.1 .1 3.8 0 3.8 .7 4-.3 3.3 1.2 4.7-1 3.6 .6 4.2-.2 3.2 .9 4.6-.7 4.1 .6 2.8-.3 4 .6 3.9-.5 3.8 1 3.8 0 4.5-.5 3.6-3.9 .6 .2 .9 2.5-3.8 2.9-3.3 2.5-2.5 2.6-3.6 1.7-2.9 4.2-2.9 2.3-3.3 3.1-2.8 3.1-2.3 .9-3.3 3.5-3.8 2.1-3.3 3.2-2.5 2.8-3.3 2.9-3.5 2.1-3.6 3.1-2.8 2.4-2.5 2.2-4-.6 3.9 .8 3.3-.1 2.8 0 3.4 .2 3 .4 4.6-1.3 3.2 .5 3.6-.3 2.9 .5 3.7-.2 2.9 .6 3.5-.8 2.8 .6 4 .2 3.5 .4 2.6-1.1 4.2 1.2 3-3.3 1.4-3.9-.3-3.3 .6-3.6 .5-3.5 .7-2.7-.8-4.3 1.2-2.8 .4-3.6 0-3.6-.1-3.3 1.3-3.3-1.3-2.8 1-3.3 .8-3.3 1.8-3.2 .6-3.5 .8-3.6 1.5-2.8 .9-3.3 .1-3.4-.4-3.5-.3-2.5-.8-4.2-.9-3.2-.6-3-1.1-4.2 .1-2.3-1.1-3.8 .1-3.4-1.3-3.1-.8-3.9-1-2.6-.8-3.6-.9-3.7 .2 4.9-.1 4.9 .5 4.8 .4 4.5-1 4.7 .1 4.8 .3 5.9-.5 3.7 0 5 .8 4.8-.3-2.8 .8-2.7 .3-3-.3-3.1-.3-3-.5-3.4 1.5-2.6-1.2-3.7-.2-2.4 .1-3.1 .4-3.6-.7-2.9 .5-2.8-.5-3.7-.4-2.9 1.5 2.9-.3 3.7-.7 4.1 .5 4.2-.6 3.1 .5 3.7-.3 4 .3 3.9-1.1 3.5 .5 3.1 .3 4-.4 4.3-.1 3.1 .4 3.4-.3 4.4 1 3.8-.7 3-.3 3.6 1.6 .7-4.5 .5-4.5 .2-2.6 .1-3.6 .2-3.6-.2-3.7 .8-3.2 .5-4.8 1-2.9 .2-4.5-.3-3.6 .4-3.1-.2-4.5 .8-3.2 .5-4 .8-3.9 .9-2.8-1-4.4-.2-3.2 .4-4.6 .2-2.6-.5 3.5-1.4 4.5 .1 3.1-1.3 3.4 .6 3.4-.7 3.7 0 4.5-.4 4-1.7 3.1 .4 4.2 0 2.9-1.2 4.3-.6 3.5-.2 4.1-.9 3.9-1.8 3.1 4.3-4.4 1.6-3.1 3.9-3.5 1.9-3.3 4.1-3.7 2.6-4.2 2.1-3.1 2.2-3.8 3.5-3.8 2.8-4.9 2.3-3 3.1-4 2.5-4.5 2.7-2.9 3-3.4 2.4-3.8 3.4-4.1 2.1-3.7-3.5-.9-4-.2-2.7 .4-4.4-.9-3.9-.2-3.5-.7-4.5-.2-3.1-.1-3.7-1-3.4-1-4.4 .5-3.5-1.8-4 .7 .9 3.3-.2 4.7-.1 4.5 .3 4.3 .8 3.9-.1 4.8 .7 3.9 0 4.8-.4 3.9 .4 4.1 .7 5.5 .1 3.5 .5 4.3-.2 4.4 .7 4.6 .1 3.9 .4 4.6 .4 4.1 .5 3.9 .1 5.3-4.3 .9-4 1-4.2 .8-3.8 1.9-4.1 .7-4.3 1.4-3.9 1.5-5.2 .8-3.7 .8 2.7-.1 4.5-.6 3-.7 .1-3.3-.4-3.6 .9-2.8 0-3.9-.4-2.7-.4-3.7 2.1-2.9-.9-4 .4-3-.2-3.3 .4-3.8 .4-3.6 .8-3.2-.4-3.4 .3-3.9 .2-2.3 .7-3.1-.4-4.3 .5-2.8-.3-3.1 .1-4.2-.1-3 .3-3.6 .6-2.9 0-3.4 .6-3.7-.1-3-.5 4.5 0 4.6-.9 2.9 .5 5.3-.5 4.6-1.2 4.2-.7 5-.2 3.8-.4 5-1 3.7-.2 4.3-.9 4.7-.6 4.4-.9 4.9-.4 3.6-.1 4.3-.4 4.7-.2 5.2 4.5 0 4.6 .9 .1 .8 .2 1-5 1.6 4.2 .1-2 2.5-1.8 2.5 3.4 0 2.4-.8 3.2-1.2 3.3-.5 3.5 .1 1.9-1.8 3.1-2.7 2.3-1.4 3.1-1.3 2.7-2.8 2.4-1.1 2.6-1.1 2.6-2.2 2.8-1.8 3.8-1.3 1.9-2.3 2.6-2.2 2.6-.7 3.5-2.2 2.1-2.2 2.9-1.8 2.3-1.9 2.8-1.6 2.6-1.5 .3-3.6 .1-3.4-.2-3.2 .7-3.7 .5-3.7 .8-3 0-3.8 .2-3.2 .8-2.9 .7-3.1-.2-4.7 .1-3.4-.2-2.9 0-3 .3-4-1.5 4.5-2.6 4.4-2.8 4.1-2.1 4-2.4 4.1-2.1 4.2-2.8 3.6-2.1 5.4-2.9 3.8-1.8 4.7-3.2 4-1.5 4.6-3.3 3.6-2.3 4.7-2.5 4.7-2.7 3.9-1.8 3.4-3.1 4.8-2.2 4.1-4.8 2.5-3.7 .9-5.1 2.4-3.8 1.6-.7-4.4 0-5-.6-4.1-.3-5.1-.4-5.5 .2-5.2-.9-3.8-1.4-5.1-.5-5.1-.1-5.4 .2-4.5-.3-4.5-.1 3.9-.4 3.3-.2 3.6 1 3.8 .3 3.3 0 3.8 .6 3.2 .2 3.6 .6 3.9-.2 3.4 1 3.3-.2 3.7-.4 3.7 .3 3.5 .2 1.3-.2 .7 .1 .1 3.7 1.6 3.6 .1 3.7 1.4 2.8 .4 3.9-.3-.5-3.7-.5-3.4 1.2-4.1-.8-3.5 .4-3.6-1-3.6 .3-3.6 .4-3.7-.6-3.5-1-3.1 .5-3.8-.2-3.8 .3-2.8-.1-4-.4-4.1-.3-3.5-.2-3.4 .4-3.2-1.3-4.1 3.5-2.7 3.8-1.3 3.4-3.3 4-2.1 4.7-2 2.9-2.2 3.4-3.2 3.4-2.3 5.3 0 4.9-.2 3.5-.5 4.5-.6-2.7-1.2-2.8-.3-3.4 .1-2.8-.6-2.8 1-3.3 .5-3-.1-2.7-.3-3.2 .6-3.3 .3-2.6-.5-3.9 1.3-2.2 .4-4-1.6-1.7 1.7-.8-5.6 3.2 1.1 2.9 .1 2.3 .1 4 .5 3.1 .4 3.3 .8 3.3-.3 3.2 .6 2.4 .8 2.9 .2 4-.1 3.3 .4 3-.2 3.1 .4 3.4 0-1.4 3-1 2-2.8 3.3-.7 2.4-1.2 2.3-2.6 3.1-.6 2.3" fill="none" stroke="#f6be92" stroke-width="1.0" stroke-linejoin="round"/>
<path d="M563.6 270.4l1.4-4.4 1.5-4.3 1-4.4 1.9-5.2 1.6-2.8 .4-5.1 2.6-3.7 1.1-4.2 .7-4.7 1.8-4.3-.7 3.9 .5 4.8 .6 4.3 .9 4.6 .4 4 .6 4.5 .6 4.3 0 4.1 .6 4.4 1 5.5-.7 3.7 .8 4.4 .9 4.3-.2 4.3 .7 4.8-.3 4.6 .9 4.5 .5 3.8 .5 4.4-.9 4.5 4.7 .7 4.5 2.1 4.3 0 4.2-.8 4.3-1.2 4.5-.5 3.4-.8 5.2-.7 3.9-.5 4.2-1.5 4.4-1 4.4-1.2 .5-3.8 0-3.7 1.1-3.7 .9-5-.8-3.9 1.7-3.7 .1-4.6 1-3.6 .9-4.3 .8-4 .3-3.8 .4-4.1 1.3-4.4 1.4-4 .9-3.4 .2-3.9-.2-4.6 1.2-4 .7-4.1-1.5-3.2-1.5 2.4-.6 3.5-1.9 3.2-2.3 2.9-1.1 3-1.2 3.3-1.8 2.7-1.9 3-1 3.3-.8 3.3-2.5 3.2-1.3 2.6-1.1 3.7-1.7 2.4-1.4 3.6-1.8 2.6-1 3-2 3.4-1.6 3.1-1.4 1.8-.7 4.1-1.7 2.7-1.5 3.1-1.5 3-1.1 3.2-1.6 3.7-1.1 1.9-4.3 1.1-2.3 .3-3.2 .4-3.7 .3-2.9 .7-3.9 .5-3.4-.4-3.5 1.1-3.1 0-4 .4-2.6 .2-2.5-2-1.7-2.9-1.9-3.2-3.1-2.9-1.7-2.2-2.2-2.7-1.8-2.9-1.6-2.3-1.7-3.1-3-2.2-1-3.3-2.4-2.6-2.7-2.3-2.4-2.3-1.7-3-1.4-3.1-2.7-2.2 3 2.5 3.3 3.3 3.1 2.2 3.3 3.2 2.4 3.4 3.9 2.3 1.9 3.1 3.7 2.5 2.9 2.1 3.2 3 3.7 2.6 2.7 2.4 3.1 3.3 3.8 2.3 1.9 2.8 4.1 2.4 4.6 .2 3.9 1.6 4.3 1 3.6 .6 5 1.1 3.9 .6 3.9 0-4.1-1.3-4.4-1.5-4.2-1.7 .2-3.6-1-5.6 .5-4.6-.2-3.9 0-4.8-.5-3.8 .2-4.7 .2-5.3-.5-4-1-4.2 .7-4.2-.5-4.8-.6-4.2-.3-4.5-.1-4.3 .5-5.7-.2-3.9-.9-4.2 .6-4.9 .5 5.5-.9 4 1.1 3.7-.7 5-.2 4 .1 4.1-.4 4.8 .8 4.3-.4 4.9 .6 3.7 .5 5-.5 4.5 .4 4.2 .8 4.4-.6 4.5 .1 4.2 .2 4.4 .3 4.3 0 4.7-.3 4.1 .7-3.8 3.7 1.1 3.1 .8 3.4 .9 4 .4-3.3 0-2.2 1.1-3.5-.8-3.1 0-3.6 .4-2.7 .5-3.4-.5-3.3-.2-3.6 .8-3.2-.7-2.8 1.4-2.8 .5-2.7-.8 3-1.4 3.7-2.6-1.6-2.6-1.8-3.9-2.3-3.2-2-3.9-1.6-3-2-3.2-.6-3.7-2.9-4-2.2-3-2.3-2.6-2-3.1-1.9-3.7-2-3.5-1.5-3-2.5-3.4-1.5-3.5-2.6-3.7-2.1-3.2-1.2-3.1-2.1-3.7-1-3.6-2.7-3.2-1.1-3.6-2.4-2.9-1.8-4-2.6-4.2 2.9 3.7 1.3 3.1 1.9 3.7 .5 2.7 2.4 3.9 1.8 2.9 2.2 4 1.7 3.1 1.3 3.3 2.5 3.2 1.5 3.1 1.8 3.5 2 2.9 1.6 4.1 1.6 3.1 1.8 3.5 1.3 3.5 1.3 3.6 2.4 2.8 2.3 3.1 .5 3.7 1.9 3.8 2.4 3 2.4 2.7 .9 3.8 2.4 3.2 3.3 .3 3.9 .8 2.9-.1 4.7 1 3.5 .1 3.5 .6-3 0-4.4 .8-3.2 .1-3.5 .2-3.2-.6-3.1 .4-4.3 .2-3.8-.3 4.3 2.7 2.7 1.7 .2-4.5-.1-3 .2-3.7 .2-4 .3-3.9 1-3.5-.8-3.6 .5-4.1 1.3-4.3-.3-3.2 .5-3.8 1-3.8 .3-3.7-.4-3.5 .2-4.9 1.1-3.1 .5-3.9-.5-3.5 1.6-3.4-.7-4.1 1.1-3.8 .2-3-.3-4.2 1-3.6-.4-3.8-3.6-1-4.1-.3-3.7-.2-3.6 .1-3.4-.2-3.8-.1-4.4 0-4.1-.1-3.5-.9-4.2 .4-3-.2-4 0-3.4 .2-4.5-.5 3.2 3.3 2.3 4.8 1.4 2.9 1.3 3.7 4 2.8 .8 4.1 2.8 2.3 1.7 4.8 1.1 3.9 2.8 3.9 2.8 3.4 1.5 3.1 2.5 2.9 1.7 3.8 2.7 3 2.1 3.5 1.8 3.7 2.2 4.5 2.6 2.5 1.9 5.1 1.6 3.4 2.7 2.8 1.5 4 3 2.8 1.6 2.9-1-2.9-2.5-4.3-2.9-3.2-1.8-3.2-3.1-2.7-1.7-4.7-2.4-2.4-2-4.3-2.1-3.4-.9-4.4-3.2-2.3-2.1-3.3-1.8-3.9-2.7-3.2-1.8-3.4-2-3.5-2.1-4.1-2.5-3.8-1.5-2.8-2-3.7-2.7-3.2-2.4-3.8-2-3.5-1.1-3.7-3.1-4 3.3 .2 3.9 .9 3.9-1.5 3.5 0 3.5-.5 4.1-.4 2.9-.1 4.2-.3 4.1 .8 3.6-1 3.3 .6-3.4 .1-2.7 .3-3.7 .6-2.2-.5-3.7-.4-3.2 .4-3.8-.4-3.4-.4-2.7 0-2.6-.6-4.3 .4-3.6-.8-3-.1 4.8 .6 3.8 .5 5.4-.2 4.7-.1 4.7 .3 4.8 .4 4.2-.4 5.2 .3 4.3-.2 5.6 .9 3.7-.1-.3 3.9 .9 3.8 0 4.3-.5 3 .3 4 .3 3.7 .2 3.5 .7 4.3-.5 3.2-.9 3.8 .6 4.7 .5 2.7 .1 4.3 .6 3.9-.4 4.5-.2 2.4 .6 4.9 .4 4.1-.5 2.9 .2 4.2-.1 3.5 .5 3.4-.8 3.5 1.4 4 .1 4.2 3.9-1.7 3-.9 4.1-.9 3.2-.8 4.2-.3 3-1.9 3.5-3.3 2.8-1.5-3.4 3.3-2.4 1.8-2.7 3.1 3.2 1.6 3.4 1.4 3.8 1.5-3 .6-2.4 .4-2.8-.2-4.1 .4-2.3-.1-2.7 .8-3.4 .6-3.2 0-3.3 .6-2.6 .6-3.1-.3-2.9 .6-3.4 .2-2.6 1.2-3.5-.2-2.5-.9-3.3 1.1-2.7 1.1-2.9 .5-2.7 .7-4.4-.1-2.3-.5-3.1 .9-2.9-.7-3.2 1.6-2.4-.6 2.2 0 3.3 .3 2.9-.2 2.7 .3 3.5-.1 3.3 .9 2.5-.2 3.2-.4 3.1 .2 2.4-.8 2.9 .6 2.8 .4 3.4-.1 2.1 .2 4.1-.3 3.1 .4 2.6-.1 3-.1 3.7 .2 2.5 .3 3.4 1.1 2.6-1.3 2.9 .8 3.1-1.2-4-1.2-4.6-2.7-5-1.8-4.3-2.9-4.5-1.7-2.8-4.1-3-3.5-2.1-4.7-3.1-3.3-2.4-4.4-3.3-4.2-1.6-4.5-2.6-4-2.7-3.9-2.4-4.9-2.6-4.6-2.6-3.9-2.4-4.5-2.5-4.3-3.3-4.1-1.2-4.9-2.8-3.4-2.4-5-2.7-3.4-2.4-4.9-3.5-3.3-2.1-5 2.1-2.5-.6 3.1 4.7-.9 .9 2.2 1.5 2.6 1.9 2.1 .8 2.7 1.8 3.2 1.5 1.8 1.5 3.6 2.5 1.3 .7 3.6 1.1 2.4 1.7 2.9 1.3 1.9 1 2.8 2.2 3.2 1.6 2.2 .9 2.9 1.3 2.7 .9 2.5 1.7 3.3 1 2.1 1.1 3.5 2.6 1.8 1 2.7 2 3.7 .4 .9 1.5 4 1.3 2 1.9 3.5 1.3 2.5 1.5 2.9 .8 2.5 2 2.5 1.1 2.8 3.2 .4 3.4-.6-.2-2.8-.1-3.5 .1-3.5 .3-3.1 0-3.4-.1-2.8 .6-3.2-.4-3-.1-4.1 .1-2.6 0-2.7 .1-3.4-1-3.1 1-2.7-.5-2.9 .7-4.1-.8-2.6 .8-2.9-.4-2.9 .3-3.1-.3-3.4-.3-1.9 .5-3.8-.7-2 .3-3.3-.3-1.9 1.1-2.4-.3-2-.2-1.3-.1-1.9 .1-2-.1 .4-.3-.8" fill="none" stroke="#f6be92" stroke-width="1.0" stroke-linejoin="round"/>
<path d="M630.3 273.8l2-4.5 1.3-2.8 1.5-3.7 2.5-4.4 1.2-3.4 1.8-3.7 1.6-4.3 1.7-3 2.3-4.5 1.7-3.3 1.5-3.5 1.7-4.2-3.1 .7-5.1-1.1-2.8 0-4 .1-4.3-.6-3.2-1-3.4 1-3.5-.9-4.5-.6-3.8-.3-2.9 0 2.7-3 2.4 0 3.4 .1 3-.1 2.5 .6 3.7 .7 3-.4 3.7 0 2.7 .3 3 0 2.4-.7 2.6 .6 3.6 0-.9 3.7-1.5 3-1.7 3.4-1.5 2.9-1.3 3.2-.8 3.3-1.6 2.7-1.1 3.6-1.8 2.8-.7 2.7-1.3 4.3-.9 2.6-1.4 3.7-1.3 2.9-2.4 3.3-.8 2.9-1.7 2.6-.7 3.1-2.2 3.5-1.2 3.5-1 2.5-1.6 3.4-1.2 2.6-1.6 3.3-1 3.2-.6 3.4-1.6 3.2-1.3 3.4-1.5 3.1-.8 3.4-1.9 2.5-3.6-1.3-4.8-.7-3.2-1.6-4.4-1.8-4.5-.9-4-1.4-1.6-3.3-1.9-4.8-1.4-4-2.4-3.4-1.2-4.1-1.4-4.4-1.2-4.5-2.4-4.1-2-3.8-.9-4.8-1.4-4-2.1-4.4-2.1-4.1-1.2-3.6-1.4-4-2.2-5-1.6-3.6-1.3-4.4-2.4-4.1-.6-4.1-1.6-4.2-4.6-.8-4.7-2-1.5 3.6-4.6-.5-.9 5.1-1.6 4.5-.7 4-.5 5-.9 4.9-.7 5-.3 4.6 .5 5.6 .2 3.3 .1 5.7 0 4.6-.4 4.8-.4 3.5 .6 4.4 .2 2.9 0 3 .1 .8-1-3.4 .3-4.9 .3-4.1 0-4.4 .3-4.8-.3-4.7-.1-4.2 .5-3.6-1.2-4.3 .8-4.2 .3-4.3-.8-4.5 .8-3-.5-3.3-.2-4.2 .6-3-.2-2.2 .3-2.4-.9-.7 .9-1.2-.1 4.2 1 3.4 .7 4.7 1.1 3.9 .4 4 .8 3.8 .3 5.4 1 3.6 1.8 3.9 .3 3.8 .6 4.5 1.3 4.2 .8 3.2 .8 4.7 .5 3.9 0 4.1 1.9 4.8 .4 3.7 1.8 3.6-.2-5.2-1.1-5 .2-4.7 .1-4.6-.6-5.4 .4-4.3 .1-4.9-.9-5.4-.4-4.6-.9-5.2 .8-4.9 .5-4.5-.6-5.2-.1-5.1-1.3 4.4-.8 4.2-.5 5.3-.6 4.1-2.2 4.7 .2 5.4-.9 3.3-.5 4.9-1.4 5.1 .5 3.6-.4 5.2-1.4 4.5-.5 3.9-.3 4.8 .4-5 1.2-4.2 .2-5.1 1.2-4.8 .5-4.7 1.3-5.5 .5-4.5 1-4.4 .4-5.1 2-4.4 .5-5.3 .5-5 .8-4.6 .1-4.3 .5-5.1 .1 4.6-.1 4.4 .7 5.2-.4 5.1 .8 5.2-.5 4.1-.6 5 .1 5.2 .2 4.7 .4 5-.3 5.3-.6 4.6 .7 4 0 5.3 .7 5.1-.3 4.8-1 4.8 .3 4.4 3.9 .2 4.5 .8 4.5-.8 3.6 1 4.4 .4 3.8-.3 4.1-.5 4.2-.1 4.4 .9 4-.4-.7-4.4-2-3.9-.1-4.2-1.5-3.4-1.5-4.1-2.1-3.8-.8-4.2-.7-3.8-1-3.7-1.8-4.5-.6-4.4-1.4-3.5-.5-4.2-1.4-4-1.6-3.8-.6-4.5-2.5-3.6-1.2-3-.9-4.6-1.4-3.4-.8-4.8 .2 2.6 2.7 4 .2 2.6 1.3 3.4 1.2 3.4 .8 2.5 1 3.1 .3 3.5 1.3 2.6 1.9 3.2 .9 3 .3 2.7 1.8 3 .6 3.4 1.7 2.3 .8 3.2 .8 2.2 .8 4 1 3.5 1.1 2.8 1.9 2.8 .3 2.8 1.1 3.3 .7 3.3 1.2 3.3 .5 2.4 .6 3.3 2.9 2.5 1.2 2 3.3 1.9 2.2 2 2.6 2.4 2.9-4.7 2.1-3.9 1.2-4.8 1.5-4.3 1.7-4.4 1.9-5 .4-4.2 1.6-4.9 1.6-4.9 1.4-4 1.8-4.7 1-4.2 1.7-5.1 1-4.3 2.9-5.5 1.7-4 1.3-4.4 1.8-3.7 1.6-5.2 .7-4.5 1.7-4.9 .7 4.3 .5 3.9-.3 3.9 .4 4 .9 5-.6 3.8 .9 3.8 .7 4.1 .2 4 .2 4.1 .2 4.1 1 4.7 0 4 .8 3 0 4.1 .9 4.8-.3 3.8 .6 4.1 1.7 3.7-.5 4 .2 4.6-.2 3.9 .6 4.6-3.9-.6-4.8-2.1-4.7-.4-4.6-1.3-4-1.2-4.2-.4-4.4-1.4-4.8-.3-4.6-.7-4.7 0-3.8-.2-3.8-.4-4.7-.7-4.9 .5-1.4-3.8-2.3-3.5-2-4.1-1.9-4.1-2.2-3.2-1.9-4.4-1.7-4.3-2.4-4-2.7-4.3-2.2-3.1-2-4.1-1-3.3-2.8-4.4-2.8-3.9-1.7-3.7-1-4.3-2.8-3.8-1.8-3.8-1.8-4.8-1.6-3.5-2.9-3.7-2-3.7 3.4-.5 2.4 .2 3.8-.8 3.2 .2 3.4 .4 2 .3 4.2-.4 3.9 .3 2.8-.3-.2 4-.8 3.7 .6 4.8-.4 3.1 .4 4.9 .2 4.3-.9 3.4 1.2 4.5-.2 3-1.5 4.1 .9 4.6 .5 3.3-.8 4.3 0 4.1 .2 4-.5 4.8-.4 3.2 .5 4.1-.6 4.2 .2 3.7-1.1 3.6 .5 4.4 .2 3.4 .5 4.1-1.7 4.1 3.4-1.2 2.3-2.2 3.1-1.9 3.2-1.9 2.7-1.7-1.2-2.6-2.4-2.8-1.2-3.3-1.4-2.8-1-2.6-2.2-3.2-.4-3.9-1.1-2.6-2.1-2.8-1.6-3.4-2-2.6-1.5-3.7-1.1-2.8-1.1-2.9-1.5-2.9-.9-3.7-2.7-1.8-1-3.4-1.7-2.7-1.6-3.2-2-3.2-.9-3.2-1.3-3.2-1.8-3.3-1.5-2.3-1.7-3.3-1.2-2.2-1.9-3.6-.4-3.2 1.1-3.5 1 3-.1 4.1-.3 3.1 .2 3.2 1.1 3.9-.1 3.6 .2 3.7 .3 3 .2 3.4 .1 3.7 .6 4.8 0 2.3 .7 3.8 .4 3.5 .6 3-.1 4.8 .1 2.6-.1 3.8 .6 2.7 .7 4 .4 3.4 .1 3.7 .3 3.8 0 2.8 .1 3.7 .8 3.7 4-.2 4.3-.4 4.2-1 3.9 0 4.3-.8 4.4 .2 3.8-.6 4.2 .5 3.2-.9 5.4-1.1 3.7 .2 3.9-.8 4.2 0 3.8-.7 4.8 .1-.5-3.6-.3-4.7-.2-3.7 .2-4.5-.3-4.1 .2-3.3-1.1-4.6 .6-4 .7-4 .4-4-.8-4.8-.6-3 .3-4.6-.1-4.5-.6-3.6-.2-4.5 0-4 .2-4.1 .3-3.4-.4-4.8-.6-4 2.8 .2 3.9-.7 2.8-.3 3.2-.2 2.3 .3 3.3-.6 3.2-.3 2.6 0 2.5-.6 3.6-.8 3.5 0 2.3-.1 3.2 .2 2.9-.5 2.6-.6 3.2-.4 2.8-1.4 .6 4.4 .6 4.9 .7 3.6-.1 4.6 1.3 3.8-1.1 4.7 1.5 4.8 .4 4.2-.3 4.2-.1 3.4 .4 4.4 0 4.9-.5 4.1 1.3 4.1-.6 4.3-1.1 3.1 .9 4.9 0 3.9-.2 4.1 .3 4.1-.2-3.8 .1-3.4 .7-4.1-.9-3.5 .7-4.4-.9-3.6 1-3.3-.6-3.6-.3-3.8 .9-3.9-.6-3.7-.9-3.5 1.3-4.3 .3-3.3-1.1-3.2 .7-4.1-.2-3.6 .2-4.2-.6-2.3 .3-4.2 .1-2.6-.1-2.8-.1-.3-3.3-2-4.4 0-3.5 .8-4.2 .5-3.6-1.2-3.9-.2-3.7 0-4.4 0-3.3-.4-3.5-1-4.7-.1-4.1-.9-3.5-.3 4.4 .3 4.2 1 3.9-.3 4.4 .8 3.8 .7 4.5-.8 4.4 .4 4.5 .1 3.6 .4 4.4 .9-1.9 4.1-1.8 4.3-2 4.9-2.4 3.9-1.9 4.2-1.3 5-1.9 4.6" fill="none" stroke="#f6be92" stroke-width="1.0" stroke-linejoin="round"/>
<path d="M576.5 324l4.1 0 4.4 .6 3-.2 4.8-.6 4.2-.4 4.9 .4 3.9 .1 4.2 .1 3.4 .3 4.6-.6 4.6 1 3.8-.1 4.2-1.1-5.3-.2-3.8-1.5-4.7-.5-4.9-.5-5-2.3-4.5-.9-4.8-.1-5.4-.9-3.6-1.7-2.5-4.5-1.5-4.3-1.5-4.8-1.8-3.8-1.3-4.6-1.2-4.6-2.2-4.6-1.2-4.4-2.5-4.5-1-3.9-2-5.5-2.1-4-2-5-1.2-3.6-1.6-4.8-1.3-4.6-2.1-3.6-1.5-4.9-1.7-5-3.5-1-4.8-.5-3.5-1-4.2-1.7-4.7-.4-4.1-.6 5.5-.5 3.6 .4 5-.4 4.8 .7 5-.8 4.4-.2 5.5-.3 4.7-.4 4.9-.1 4.6-.1 5.2-.1 .1 2.9-.5 3-.1 3.7-.7 3.3-.1 3.3 .6 4-.7 3.5 .2 3.8 0 3.2-.8 2.9 .5 3.5-.4 3.1-.3 3.5 .4 3.1-.5 3.2 .4 3.5-.4 3.5-.2 3.8 .8 2.8-.5 3.9-.7 3.5 .2 2.7 .1 3.3-.1 4.4-.7 2.6 .4 3.2 .7 3.8-.5 3-.4 3.4 .5 3.5-4-.3-3 .3-3.2 .1-3 .3-2.9 .1-4.4 .1-2.5 .3-3.5 .1-2.7 .3-3.9 .9-3-.4 4.8-.4 4.5-1 4.7-.8 4.8 .3 4.5-1.5 4.6-.2 5-1 4.7-.8 4.8-1 4.9-.1 4.2-.9 2.1-4.2 2-4.5 2.4-4.2 1.8-4 3.6-4.6 1.9-3.6 3.6-3.4 1.5-4.2 3.2-4 2.9-4.5 2.1-3.8 2.5-3.8 3.2-3.8 1.5-4.4 2.7-3.7 2.3-4.5 1.9-5 2.6-4.1 2.2-3.6 3.2-4.2 2.6-3.8-2.2 3.6-2.4 2.3-1.4 4.1-2.6 2.7-2.1 3.1-3.4 3.2-1.8 3.5-2 2.7-2.1 3.7-2.4 2.5-2.3 3.8-2 3.7-1.8 3.4-2.2 2.2-1.7 4-2.9 2.4-1.1 4.3-2.3 3.1-2.4 2.8-.4-3.7-.9-3.9-1.7-4.2-.6-3-.7-4.6-.2-4.7-1.2-3.7-.6-4-1.1-4-1.6-4.2-.4-4.3 3.2-1.2 3.5-1.4 3.2-2.2 3.4-1.8 3.1-1.9 3.4-.7 3.9-2.5 3.1-2.1 2.8-1.1 3.2-2.7 3.1-1.9 4.6-2 2-1.4 3.9-.8 3.2-1 4-.7-1.5 3.4-1.8 3.8 .1 4.4-1.5 3-1.8 4.2 .1 3.3-.5 2.8-.9 4.3-1.3 4.2-.6 3.4-.8 3.7-1.3 3.3-.3 3.7-1.5 3.6 .7 3.6-1.5 4.7-.5 3.4-1 2.7-.1 4.6-.6 3.8 0 3.2-1.1 4.2-.8 3.3-.2 4.1-.2 2.9-4.4 .9-4.7-.1-3.3 1-4.6-.8-3.9 1.2-4.1 0-4 .8 3.6 .2 3.1-.5 3.3 .6 2.7 .2 3.9 .1 2.8-.7 3.1 1.3 3 0 3.8 1.1 2.9-.3 2.3-.2-2.3-.2-3.2 .1-3.5-.3-3.2-1.3-3.6-.2-4.4-.3-4.7 0-4.2-.4-3.8-.1-3.9-1.1-3.4-.2-4.5-.9-4.3 .2-2.3-3.7-2.7-2.8-1.7-3.6-3.1-3.5-1-3.3-2.4-3.5-2.3-3.8-3.4-3.1-2.7-3.2-1.5-3.2-2.4-3.4-2.5-3.4-2.5-3.1-2.6-3-2.9-3.4-1.6-3.2-2.3-4.3-1.8-2.9-2.6-3.6-3-2.1-2.8-4.1-2.4-2.5-2.5-3.6 4.3-3.3 3.8-1.7 4.5-2.1 4.1-1.5 3.2-3.1 4.1-2.3 .6 3.5-.1 3.3 2 3 .9 3.8 .8 3.1 .6 3.5 .3 3.3 1.3 3.7-.1 3.2 .5 3.2 .9 3 .5 4.2 1.7 3.6 .9 2.8 .4 3.1 1 4.3 .7 2.9 .3 3.9 1.2 2.1 .5 4.1 1.3 3.9 .1 2.8 1 3.5 .6 3.7 1.1 3-4.3 .4-2.9 .5-3.8 .7-2.9 .6-3.4 .6-4.1-.5-2.9 1.1-3.8 .3-3 0-4.4 .7-2.1 1.5-3.6-.7 2.7 1 4.4-.8 4.4 1.2 3.6-.3 3.9 .5 3.8 .5 3.6-.8 3.4 .2 4.8-.1 3.6 1.6 3.9-1 3.9 .5 3.8 .5 3.9 .5 3.4-.1 4.2 .8 4.3-.3 1.1-3.6 2.2-3.3 1.9-4 2.1-2.6 2.5-3.1 1.8-3.3 2-3.4 1.3-3.9 2-2.7 1.5-3.9 2.3-3.5 2.3-3.1 1.5-4 1.9-3.2 1.7-3.2 1.2-3.2 2.4-4.2 1.4-3.4 2.4-3 1.5-3.5 2-4.1 1.5-2.9 2-3.5 2.2-3.6 .4-2.7 2.5-4.1 2.1-2.7-1.2 3.3-1.3 2.6-1.7 4.5-1.5 3.9-1.5 3.6-1.2 3.9-2.4 3.1-1.9 3.5-1.4 4.2-2.2 3.9-1.1 2.4-.9 3.9-2.4 4.6-.8 3.6-2 3.2-1.5 4.3-2 3.3-1.4 3.3-2.1 4.5-.9 2.9-1.9 3.9-1.5 3.4-.9 3.9-1.5 3.4-2.1 3.1-3.3 2.2-3.8 2.1-3.5 1.2-3.6 1.1-3.2-.1-2.2 1.1-3.8-.1-3.7 1-2.7 .4 2.8 .4 4.6-.7 3.3 .2 3.9-.4 2.6-.5 4.9-.2 .1-3.4-1.2-3.2 .8-3.4 .2-3.7-.1-3.6 .2-3.8 .6-2.9 .3-3.1-.5-4.1 1-4.2 .6-4 .5-2.5 .1-2.8-.8-4.6 1.1-2.5 .7-4.5 .7-3.3-.9-3.8 .7-3.3 .1-4 0-3.5 .2-3.4 .2-3.7 .5-3.8-.3-3.5 .7-3.4-.4-3.7 .1 4.3-.5 3.8-1.2 4-.3 3.3-.5 3.7 .3 4.3-1.2 4-.4 3.6-.4 3.7-.6 4.2-.8 3.3-.2 4.1-.9 3.5-.4 4.3 .3 2.8-1.2 4.7 .1 3.8-.5 3.9-1 2.9-.5 3.6-1.1 4.6 1.2 3.9 3.2 .2 4.9-.9 3-.2 4.3 1.8 3.4-.5 4.1 .1 3.4 .4 4.1 .7 3.7-.5 4.1-.3 3 1.2 4.2 .3 4.1-.4-4.4 .8-3.3 0-4.6-.3-4.5 0-4.3 .3-3.7 .7-4.3-.5-4.3 .6-4.1 .3-3.4-1.1-4.4 1.3-4.9 .5-3-.8-3.2-1.3-4.2-.4-3.4-.4-2.7 3.7-2.5-3.9-1.4-5-4.1-3.9-1.2-4.5-3.6-4.6-1.8-3.7-3.1-4.5-1.8-4.1-3.2-4.2-2.8-4.6-2.3-4.5-1.1-4.3-3.8-3.9-2.4-4.6-1.5-4.5-3.2-4-2-5.1-2.7-3.7-1.2-4.6-3-4.7-1.5-3.1-1-3.7-.7 4.4 .3 4 .4 3.5 .1 4.1 .3 3.2 .1 4.2-.2 3.8-.1 4.3 .7 3.9-.9 3.6 .4 3.8 .2 4.5-.6 2.4-.5 4.4 .4 4.4 .2 3.6-.1 3.9-.9 4 .6 3.9 .4 3.9-.3 3.8-.4 3.9 1.3 2.8 3.8 .1 3.8 .9 3.9-.5 4.4 1.1 3.1-.6 3.6 .4 4.4 .5 4.3 .3 4.1 0 3.9 .1 3 .6 4.3 .7 4-1.4 3.7-.2-3.9 .2-2.7-.7 4.3-.4 3.3 1.6 3.9-.3 3.8 .1 4.4 0 4.3 0 2.4 .9 1.3-3.8-.3-4.3-.2-3.7-.6-5.1 .3-2.5-.5-4.3 .4-4.4-.8-3.9 .9-3.3-.6-4.1-.3-3.5 .9-4.3 0-4.3 .1-3.4 0-3.8 .5-5-1.3-3.3 .2-3.1 .2-4.3 .5-4.6-.9-3.5 0-4 4.9-.7 4.8-.2 5.2-1.4 4.4 .4 5.6-.2 4.7-1.2 4.8-1.4 4.8-.7-3.2 .3-4.5 .1-2.9-.1-3.1 .4-4.1 0-3.1 .7-3.8-.1-3.5 .2-3.6 .9-3.4 .5-3.3-.1 3.1-.4 3.8-1.2 2.1-.3 3.1-2.2 3.5-.8 2.9 .2-.9 3.9-1.1 3.8-1 4.3-.3 3.3-1.8 4.3-1.4 3.2-.2 4.6-1.7 4-.3 4-.6 4-1 2.9-1 5.2-1.6 3.2-.8 4.6-1.4 2.6-.6 4.3-1.6 4.2-1 4.1-1.4 3.8-1.7 2.9 0 4.1-1.3 4.7-2.1 3.8" fill="none" stroke="#f6be92" stroke-width="1.0" stroke-linejoin="round"/>
<path d="M562.5 279.2l2.2 4.1 3.3 4.4 2.4 3.4 3.5 4.2 2.3 3.6 3.6 4.1 2.8 3.7 2.8 4.5 0 1.5 4.8 1.6 4.4 2.5 5.4 1.6 4 1.1 .5-4.5-1.3-4.9 .3-4.6-.7-5-.3-4.8-.1-4.7 .5-4.9-.1-4.9-.5-5.2-.6-5 .2-4.9 .5-4.1-.9-5.1-.2-4.9-.4-4.4-.1-5.3-1.2-4.4 .7-5.4-.5-3.8 4.2-1 4.7-1.2 3.6 .2 4.5-.3 4.3-.3 4.2-.8 4.5-.1 4.3-.6 4.1-.3 5.3 0 3.6-.2 4.5-.6-.6 3.4-.2 3.6 0 3.1-.6 3.3 .1 3.4 0 3.4-1 3-.1 3.8-.3 2.5-.7 3.5-.7 3.6 0 3.2-1 3.6-.6 3.6 .4 3.4-.9 3.1 .1 3.6-1.2 3.6-.7 2.3-.4 3.7-.7 3.3 .1 3.2-.3 3.9-.9 2.1 .8 4.5-.3 3.4-2 2.8 .7 3.8-.6 3.4-1.3 2.9-2-.6-3.9 .4-3.5-.5-2.6-.6-3.1-.5-3 .1-4-.9-2.6-.2-3.4-.2-2.6 0-4.2-.2-2.7 .3-3.2-1.9-3.2 .2-3-.2-3.3 .3-3.4-.7-2.5 0-3.8-.7-2.6-.3-3.3-.8-3.1 .4-3.4-.7-3.1 .6 5.5-1.7 4 .3 4.5-.4 4.9 .1 .4-4.7 .7-5.1-.4-4.7-.1-5.2-.3-4.2 .8-5.2 .5-4.4-.4-3.8 .3-6.3 .4-4.6-.1-4.4 .9-4.7 .3-4.3 .8-4.8-.3-5.1 .5-4.6-.5-4.7 1.2-4.8-4.5-.3-4.1-.4-3.7-.4-4.4-.1-3.5-.6-4.4-.8-3.4-.2-4.4 .4-3.9-.7-4.6-.3-3.9-.5-3.5-.9-4.6 .7 .2 4.3 .5 3.4 .3 4.3-.3 4.5 .5 4 .9 4.1-1 4.5 .6 3.9 .2 4.2 .5 3.9-.2 4.6 .4 3.9 .6 4.6-.4 3.8 .4 4.7-.6 3.8 .3 4.3 .8 3.3-.3 4.3 1.1 5 3.5 .6 4.2 .9 3.5 1 4.2 1.8 3.6 .5 3.4 .9 3.9 1.5 3 1.9 5 .3 3.9 1 3.9 1 3.9 .9 2.8-2.8 3.9-1.2 3.1-1 3.6-2.1 2-3.8 2.6-3.4 1.5-3.8 1.9-2.7 2-3.4 2.5-3.6 1.4-3.6 2.1-3.7 2-3.2 1.8-2.7 2.2-3.9 2-3.2 2.5-3.2 2-3.3 1.1-3.8 3.2-3.7 .8-2.6 3-4.1 2.7-3.2 1.2-4.1 1.1-3.2 2.8-3.3 3.9-3.2 3.4-2.5 3.2-4-.2 5.2 .5 4.6 .7 5.4 .6 4.8 .5 4.3-.5 5.4 0 4.6 .1 4.4-.6 6.1 .6 4.3 .3 5.4 0 4 .1 5.4-.4 4.8-.3 4.5 1.4 4.5-.8 3.8-.5 2.3 .2-3.5-.7-3.2 .6-2.5-.7-3.8 .5-3.1-.4-2.3 .1-3.3-.1-4.2 0-3.1-.5-3.2 .2-3.4-.3-3-.3-2.8-.6-3.6 .7-2.8-.9-3.6 .7-3.4-1.1-2.6 1-3.8-.7-2.8-.7-3.5 .7-2.9-.1-4.3-4.5-2-3.8-2.2-4.2-2.2-4.1-1.3 .5 4.7 .5 4.9 .7 4 .9 5.2 1.5 3.9 .7 4.6 1.2 4.5 .6 4.8 .3 3.9 1.5 5.2 1.1 5.1 .1 4.1 .6 4.8 .9 5-3.9 2.3-4.4 2.5-4 2.7-4.1 2.2-3.8 3.3-3.6 2.8-4.3 2.8-3.2 2.9-4.9 .7-5.4-1.4-4.5-.6-5.5 1-4-1.4-5.1-.4-4.6-.4-4.6 .3-3-4-2.6-3.8-2.3-4.4-2.5-4.3-2.9-3.9-2.2-4.1-1.5-4.7 1.5-3.9 .4-4.8 .4-4.2 .3-4.3 .5-4.2 .1-4.8 0-3.9 .9-4.7 .1-4 .5-4.4 .5-4.3-.3-4 1.4-5 .3 3 .6 2.9 .1 3.5 1.4 3.4 .3 2.5 1 3.5 .3 3.2 0 2.4 .7 3.3 .4 3.4 1.2 2.4-.3 3.1 1.3 3.6 1.7 2.3 .6 3.2 .6 3.3 .5 2.6 .3 3.3 1.2 3.3 .1 2.7 1.2 3.2 .8 2.9 .5 3.4-.5 2.8 1.4 3.6 .5 2.5 .7 3.1 .6-3 .7-2.7-.8-4.3-.1-3 .4-3.5 .3-3 .2-3.6 .1-3.2 .3-4.1 .1-1.6 1.2-4.2 .6-2.5 .3-4.1-.7-2.7 .7-4.2 .2-2.8 .5-3.2-.7-3.4 .9-3.6-.6-3.7 .9-2.4-1.2-3.5 .6-2.9-4.8-.9-3.4 0-4.7-.4-4.2-.6-3.4-.5-4.7-.9-4.7-.2-3 .6-4.9-.8-4.2-1.1-4.1-.2-3.4-.5-4.8-.5 0 4.1-1 4 .5 4.8 0 3.9-.3 4.7-.9 3.4 .3 4-.2 3.4 1.4 5.1-1.1 3.7 .1 4.4 .6 3.9 .3 4.5 .4 3.1-.4 4.7 .1 3.8 0 4 0 4.2-.9 4.4 .6 3.8 .3 4-.8 4.3 4.5-.3 4.3-.3 4.1 .2 4.7 0 4.1-.4 4.6-.4 3.6 .3 4.7-.9 4.5-.3 4 .2 4.9 .1 4.2-.2 4 0 4.5 .1 4.1-.6 3.6 .9 4.4-1.6 4.7 .1 4.2 0 4-.1 4.5-1.2 4.6 .6 4.1 0 4 .1 4.7-1-4.7 .2-3.7-.2-5.5 .5-4.3-.4-4 .1-4.6 .4-4.1-1.3-4.6 .6-3.8-1-5.3-.1-3.2 0-4.5 .7-4.8-.4-4.4 1.1-4.7 .1-4.8-.3-3.3-.2 3 .2 4.6 .3 3.5 .4 4-.8 4.7-.2 3 .2 4.1-.2 3.9 .3 4.7-.7 4.1 .7 3.5-1 3.8 .7 4.1 0 4.5 .6 4-.2 3.8-.2-4.3-.4-3.9-.2-4.8 .4-3.8 .4-4.3-.4-5.1-.4-2.8-.1-4.3 .3 1.3 3.4-5.1 .2-4.4-.2-4.2 1.1-2.1-4.6-1.9-4.5-2.3-3.6-2.4-4.6-2.1-4.4-3.6-4-1.2-3.8-1.6-4-2.9-3.9-2.9-3.1-2.2-5.1-1.8-4.8-2.8-3.2-2.2-4.6-2.5-4.3-2.6-3-2.1-3.9-1.9-4.8-2.3-3.8-2.8-3.7-2.2-4.3-2.1-4.1 3.4-2.5 3.2 .1 3.4-.1 3.7-.3 3.9 0 3.9-1 3.4-.6 1.7 4.4 .7 4.6 .9 4.1 1.8 4.5 1.3 4.4 .9 5.1 1 4.1 1.2 4.1 1 3.7 2.7 4.6 .3 4.9 1.1 4 .6 4.6 1.6 4.7 .2 3.9 3.2 4.3 .2 4.6 1.2 3.9 1.4 5.1-.1-3.1-.5-4.3-.8-3.6 .1-2.1 .3-3-1.3-3.8-.5-2.9-.5-3.9-.8-2.6 .7-3.9-1-2.6-.3-3.6-.1-3-1.1-3.1-.3-3.7-.4-3.2-.2-3.2-.7-3.4-.6-2.9 .1-3.9-1.1-2.2-.4-4.4-.9-3.3-3.9 .6-3.9-.8-5.2-.6-3.4 0-4.8-1.2-4.5-1.1-3.7-.6-4.6-.6-4.1-.4 .2-2.9 .2 4.1-.8 5.5-.2 4.2-1.4 4.8-.2 4.8 .2 4.6-.4 5-.2 4.6-.4 4.9 0 4.3 .6 4.3-.2 5.9 .2 4.1-.9 5.5 .4 4.5 .4 4.4 0 4.8 .1-4.3-.6-3.6 .3-4.2 .9-3.4-.7-4.7-.4-3.1 .8-4.2-.5-3.9-.1-4.1 1.3-3.3-.5-3.7-.7-4.5 .7-3.5-.4-3.8 .4-4 .2-4.2-.5-3 .9-4.7 .2-3.4 1.2-3.9 0-3.1 .7 2.3 0 2.7 1 3.6 .3 3.4 .3 4.1-.6 3-.2 2.9 .9 2.9 .3 3.8 .8 3.7-.1 2.2 0 4.2 .5 2.8 .5 3.8 .1 2.7-.8 3.1 .3 3.4 1 3 .9 3.2 .5 3.8-.1 2.5-.1 3.3 .3 4 .4 2.6-.1 3.5 .9 2.8 0 3.3 1 3.8-.3 3-.7 3.3 .6 2.6 3.3-.4 3-.8 3.2 .1 3-1.3 3.6 0 3.2-1.1" fill="none" stroke="#f6be92" stroke-width="1.0" stroke-linejoin="round"/>
<path d="M625.6 259.3l-1.6 3.1-1.5 3.6-2.8 3.8-1.2 2.9-1.9 4.4-1.1 2.3-1.6 4.3-2.2 3.2-1.6 3.6-1.8 3.8-1.1 2.7-1.9 3.9-1.7 3.3-1.7 3.9-1.7 2.9-.2 1.1-.2 1-3.5 1.4-3.7 .7-3.6 .6-3.9 .6-3.8-.2-3.8 1.2-2.8-2.6-1.5-3.6-2.3-3.1-1.8-2.9-3-3.7-2.1-3.4-2.1-2.9-2.6-2.6-1.8-3.1-1.7-3.9-2-2.8-2.4-3.3-2.4-3.6-1.5-3-2.8-3.6-2.4-2.9-1.2-3.4-2.2-3.2-2.5-3.6-.4 4.5 .3 2.8 .2 3.5-1.1 3.6 .5 3.7-.1 3.4 .6 4.5 .2 3 .1 4-1.3 3.5 1.1 3.5-.6 4.1 .6-5 .7-4.6 .6-4.1 .3-4.6 .7-4.2-.3-4.7 1.1-3.6 .2-4.5 1.4-4.6 .6-3.8 .4-4.7 .8-4.5 .1-4.2 .3-5 .4-4.2 .2-4.2 .9-4.9 0 4.1 .9 4.4-.4 3.6 .4 4.6-.4 3.5-.1 3.9 .5 3.7 .2 4.4 .8 4 .4 3.4 .1 4.2 .9 4.3-.4 3.4 .1 3.8 0 3.4 .8 5.1 .3 3.6 1.4 4.2-.4 4.8-.4 2.8 1.2 3 0 4.9 .9 4.9-.5 2.7 .4 3.8-.4 5.2 3.5 .7 3.5-1.9 3.3-1.2 4.1-.3 3.5-.4 3.2-.8 4.1-1.6 4.2 .6 3.4-2.3 3.4-.6 3.4-1.3 3.5-.3 3.7-.6 4-1.1 .2-4.2 .8-3.6 .4-3.6 .2-3.9-.1-3.2 1.7-3.6 0-4.3 .3-4.2 .8-3 .1-3.9 .4-3.6 .5-4 .1-2.6 1.3-4.6-.3-3.7 1.5-3.5 .2-3.8 .7-3 .6-4.5 .5-4-.4-3.4 1.3-4.1-.4-3.9-.4 5-1.4 4.4 .9 5.8-1.2 5.1-1.8 4.3 .7 4.9-1.7 4.8-1.7 4.8-.2 4.6-1.2 4.9 0 5.1-.8 4.5 .5 4.7-.8 5.6-.4 4.3-.2 5-1.5 4.8-4.3 .8-4 .8-5.7 1.3-2.5-5.2-3.1-3.8-2.3-3.5-3.1-3.8-2.1-5-2.5-3.3-2.6-4.9-3.9-3.4-2.4-3.2-3.6-4.1-2.5-3.8-2.4-5-1.8-3.4-3.1-4.4-1.3-4.2-2.4-4.9-1.2-2.3-2.1-4.9-2.4-4-1.9-4.3-2.1-3.4 .9 2.6 2 3 2.5 2.8 2 3.2 1.6 3 1.4 2.5 2 3.2 .5 4.6 3 2.6 .9 3.2 2 3.4 1.6 1.4 1.7 3.8 2.1 3.9 2.1 2.5 .8 2.8 1.9 3.9 1.9 2.2 1.5 2.9 2.2 3.6 1.3 2.5 2.2 3.4 1.1 3.1 2.4 3.5 1.5 3.5 2.2 2.2-3.7 .4-3.4 1.6-3.8 1.4-3 1.1-3.4 .4 3.4 .6 3.5-.2 3.8 .1 4.3 .2 2.9 .3 4.9-.1 1.6-2.9-2.5-4-2.5-3-1.8-3.3-1.9-3.5-3-2.8-2.3-3.3-2.4-4.1-2.8-3-2.2-3.8-2.1-3.1-2.4-3.2-2-3.6-2.7-2.4-2.4-4.1-2.5-2.7-2.6-3.9-2.5-3.8-2.1-2.3-2.7-3.4-3.1-3.6-1.7-3.2-2.1-3.1-2.3-3.1-2.1-3.5 2.9-1.1 3.8-1 2.9-.3 4-.5 2.8-.8 3.5-.5 4.1-.7 2.4-.8 4-.5 4.3-1.3 2.9-.2 3.3-1.2 3.1-.6 3.8 .4 3.2 .1-5.5-.3-4.3-.6-4.3 .9-4.1-.8-5.2 .1-3.8 .4-4.9-1-4.4 .6-4.8 .3 1.5 1.8 1 3.3 1.9 2.8 1.2 3.1 2 2.1 1.1 3.1 .9 2.5 1.6 3.4 2.2 2 1.4 3.6 1.1 2.6 1.6 1.8 1.5 3.8 .4 2.2 2 3.1 1.6 2.6 1.2 2.6 1.2 3.2 1.4 2.5 1.5 2.8 1.3 2.6 2.1 2.4 1.5 2.9 1.7 3.1 2.1 .9 .3 5.1 .8 2 2.1 1.9 2.1 3.2 1.3 3.6 .3 1.7 2 3.6-.6 1.2 3.6 .4 3.1 .9 2.6 .6 3.2 1.1 2.4 .4 3.8 .4-.3-2.9-1.1-3-1.7-3-.1-2.4-.3-3.9-.7-2.4-.2-4.1-.6-3.6 1.3-4.4 .3-3.7 .2-3.7 1-3.9 .3-4 0-3.8 1.1-3.5-.8-3.1 1.3-4.5 .1-4.7 .4-3.3 .6-4.1-.5-3.2 .3-3.6 2-4.1-.8-3.7 .7-4.3-2.2-2.6-1.1 4.1 .2 4.7-.2 4.7 .5 3.7 .5 5-1.3 3.6 1.1 4.1-1.3 4.6 0 4.6 .5 3.8 .1 3.9 .4 4.7 0 4.3 .5 3.9-.2 5.6-.8 2.6-.7 5.4 .8 3.4-.2 4.9 .4 3.9 .4 4.6-4.7 .4-4.7-.3-3.1 .5-4.8 .2-3.8 0-4.7 .2-4.6 .3-3.8 .9-4.3-.7-4.8 .1-3.7 .1-4.3 .5-4.5-.8-4.3 1-3.8-.6 3.7 .7 4.9-.3 3.4 .9 4.9-.1 3.9 .4 4.4 .5 3.8 .7 4.6-1.4 .4-3.3 .2-4.4 .3-3.6 .4-4.6 .5-4.7 .6-4.5 .4-4.2 .2-3.9 .3-4.1 .3-4.1 .2-4.3 .4-3.4 .8-4.9 .7-3.9-.3-4.2 .4-5-.2-4.1 .9-4.4-.2-4.4 .2-4 .4-3.8 .8-5.1-2.9 .9-2.2 2.4-.4 3-2 3.5-1.2 2.1-1 3.2-1.8 3-.9 2.5-1.9 3.1-1.2 2.2-1.6 2.4-1.2 2.9-1.8 2.7-1.4 3.3-1.2 2.4-1.9 3.4-.9 2.7-1.6 2.7-1.5 3.4-.8 2.1-2 3-.4 2.6-2.5 3.4-.6 2.2-1.1 2.9-2.1 3.5-1.2 2.3-1.4 2.8-1.6 3.1-1.4 3.1-1.5 1.7-1.1 3.5 1.4-3.3 1.2-2.9 2-3.6 1-3.5 1.2-3.2 1.2-4.2 1.4-2.1 2.3-3.5-.3-4.1 1.4-3.1 1.8-3 1.4-3.8 1.3-3.3 .9-3.2 1.7-3.3 .6-3.5 1.9-2.8 .8-3.9 1.7-3.6 2.5-3 .8-3.7 1.2-3.2 1.2-3.3 1.8-3.2 1-3 1.2-3.2 .4 4.4 .2 5 .1 4 .5 4.2 .5 4.2 .3 5.6 .1 4.2 .6 4.2 .3 5.3 .7 4.3 .2 4.3 1.1 4.6 .4 5.1 1.2 4.1 0 5.1 .9 4.6-.8 3.7 .9 5.3-.1 4.9 2.9 1.6 1.5 3.3 3.5 4 2.4 2.3 4.6 .4 1.1-2.4 2.6-2.7 1.6-3.4 1.5-2.4 1.7-3.2 1.1-2.7 2.8-3.2 1-2.2 1.7-3.4 1.7-2.4 2-3.4 1.2-2.1 2.1-3.3 2.5-2.7 1.2-2.9 1.7-3 2-3.6 .5-2 3.6-2.7 1.6-2.5 .8-3.2 2.5-3.5 1.7-2 1.3-2.6 1.5-3.3 2.1-2.3 1.8-3.1 2.2-3.6 1.1-2.6 2-2.4 1.7-3.1 2.1-2.1 2.1-3.6-.6 3.6 .1 4.7 .1 3.7 .4 3.2 .1 3.7 .1 3.7-.3 4.3 .8 3.2-.6 3.6 .1 4.3 .9 3.8-.1 3.7-.4 3.6 .3 4.1 0 2.4 .2 5.2 .4 3.1 .4-3.7 .2-4.3 0-4.7 .6-4.9 1.4-3.9-.6-5 .5-4-.1-3.9-.6-5.1-.2-3.8 .1-4.5 .2-4.5 1-4.3-.7-3.6 .2-5.3-.5-2.8-1.1 2.4-1.2 3.7-1.9 3.6-.8 2-1.6 2.7-2.3 4.4-1.1 2.7-1.3 3-2.3 2.6-1.2 3-1.5 3.1-2.2 2.8-1.4 3.2-1.3 3.8-2.4 2.7-1.7 2.5-1.6 3.3-1.4 2.3-1.9 4.2-1 2.2-1.6 3.5-1.4 2.9-2.3 2.5-1.5 3.7-2.2 2.8-.4 3.3-1.8 2.1-1.6 4.5 3.2 1.4 2.5 1.3 2.8 1.7-3.2-.6-2.7 .9-4 .8 4.5-.5 4 1.4-4-.7-5.2-.8-4.7-.6-3.9-.7-5.6-.6-4.1 .1-.7-.8-.9-4.4-2-5.2-.8-4 0-4.5-.7-4.8-1.9-4.2-1.3-4.5-.6-5.2-2-3.6 .2-5.5-.8-4.7" fill="none" stroke="#f6be92" stroke-width="1.0" stroke-linejoin="round"/>
<path d="M624.2 324l-3-.3-3.4-1.2-3.9-.1-3.8 0-4.7-.6-3.1-.9-3-.6-3.4-.4-4.3-.6-2.8 .3-2.1-3.6-1.8-3.5-1.6-2.9-2.3-3.2-1.5-2.7-1.9-3-2.2-3.3-2.5-2.9-1-3.7-2.9-2.2-1.1-4.5-1.7-2.5-1.9-2.4-1-3.1-1.9-3.8-2.2-2.6-2.2-3.4-2.2-3.1-1.1-2.6-1.7-3.7-2.5-2.8-1.8-3.3-2.2-2.5-1.3-3.9-2-2.2-1.7-3.8-1.7-2.5-2.8-3.8-1.1-2.9-2-2.4-1.6-3.2 3.1-1.6 .9 4.2 .1 4.3 1 4-.9 3.2 .7 5.2-.3 4 .9 4-1 4.3 1.2 3.3-.1 4.2-.3 4.5 .5 3.9-.3 4.9 .4 3.6-.4 4.7 .9 3.2-.3 4.6-.1 4 .3 3.5 0 4.7-1 4 4.3-4.2 2.1-4.3 1.6-3.7 3.2-3.3 2.2-5.1 3.1-3.7 2.3-3.7 2.5-4.1 2.2-4.8 2.5-3.7 2.4-4.7 2.4-3.9 2.9-4.4 2.8-3.7 2.7-3.7 1.9-4.1 2.1-4.5 3.3-3.6 2.2-3.8-.2 2.9 .5 3.9-.1 3.1 .5 3.7 .2 4.4 .5 2.3-.6 3.2 .1 4.1 .2 3.5-.6 3 .7 3.8 .9 4-.2 2.6 .7 3.7 .4 3.9-1.1 3.3 .8 3 .7 3.9-.3 3.1 0 4.6-.4 3-.2 3.2 .3 3.7-3.5 .7-2.7 1.9-3.3 .7-3.4 1.3-3.4 .5-3.3 1.8-2.8 1.1 4.8 .6 4.5-.9 5.2-1 5 .4 5.2-.1 5.5-.3 4.7 .2 1.5-5 1.4-3.9 2.7-5.1 2.1-4.6 2.6-3.9 1.6-4.9 1.6-4.3 1.8-5.2 2-3.9 2.4-5.1 .6-4.6 2.8-4.6 2.1-4.9 1.7-4.9 2.1-3.7 1.1-6 2.2-4.4 1.7-4 1.9-4.7 3.1-1.4 3.3-2.2 3.9-1.5 2.6-1.1-1.7 4.1-1.6 3.8-1.6 3.9-2.6 3.9-2.4 4-2.5 3.8-1.9 3.5-1.9 3.9-2 4.1-2.8 4.2-1.7 4.3-2 3.6-1.5 4.2-2 4-2.3 4.3-2.2 3.7-1.6 4.3-1.7 3.8-2.7 3.5-1.9 4.1-2.2 3.8-3.3 4.6-3.6 .2-.5 1.1 3.1-.2 4-.2 3 .1-3.3 .1-3.1 .9-3.2-.2-3.4 1-3.7-.6-2.6 .4-3.3 .8-3.6-.2-2.7 .7 1.2-2.8 .9-3.4 1.2-2.7 1.3-3.5 1.2-3 .3 5 .4 4.7-.1 1 .4 1.2-.2-4.9-.3-3.6-.5-5.1 .6-5.3-.2-3.5-.3-4.9-.3-4-.3-5 .9-4.2-.3-5.1 .3-3.8-.1-5.1 .8-3.9 .2-4.3 0-5.4-.6-3.6-4-1-3.6-1.5-4.7-.2-3.6-1.1-4.2-.6-3.8-1.8-3.6-.7-4.7-.9-3.2-.2-4.8-2.5-3.5-.3-3.6-.8-5-1.2 .1 4.7 .7 4.2 .4 5.1 1.1 4-.4 4.9 .5 4.5 .3 5.4-.1 4.5 .8 4.3-.4 4.8 .2 3.7-.9 4.8 0 5 .2 4.7 0 4-1.1 5.2 1.6-4.4-1.6-5-.7-4-.6-4.5 .2-4.6-.1-3.9-.3-4.4-.1-5.5-.6-3.7-.6-4.5-.1-5.3 .4-2.7-.8-5-.1-5.3-.5-3.4-.6-4.6-.5-4.1 1.7 3 2.8 3.6 1.5 3.6 2.3 3.5 2.5 2.5 1.5 3.8 2 2.7 2.4 4.2 1.6 3.8 2.1 3.6 2 3.1 2.5 2.8 1.9 3 1.2 4 3.5 4 .5 3.7 2.6 3 1.4 3.5 2.8 3.1 2 3.1 2.1 3.5 2.6 4 .9 3.3 2 3.7 2.4 2.7 2.3 4.2 3.9-.7 3.6-.3 4.1 .2 1.9-3.2 1.7-3.3 2.5-4.1 2.7-3.2 1.6-3 1.9-3.7 1.7-3.7 2.1-3.4 1.6-3.6 2.9-2.9 .8-4 3.2-3 1.6-3.7 2.5-3.1 1.1-4.2 2.8-3.1 2.1-2.5 2.1-4.1 1.2-3.3 2.4-3.7-2.7-1.7-2.8-2-1.9-2.2-2.3-2.6-3.4-1.4-2.4-1.5-2.2-3-2-2.2-2-2-2.6-1.7 4.4-.3 3.9 .2 4.8-.5 4.7-.9 5.1 1 4.7 .1 4.4-.6 3.9-.4-3.7 .5-3.7 .1-3.1-1.1-4.7 .3-4-.1-3.4-.6-4.5 .2-3.5-.2-4.1-.2-4.5 .1-2.8-.3-4.5 .5 4.7-.6 4.1-.4 4.6 0 4.6 .2 4.6 .1 5.1-.7 4.3 0 5 .7 4-1.1 4.5-.2-2.1 3.2-1.7 2.4-3.6 .2-3.5-.3-2.7 .3-4.3-1.1-3-.2-3.2-.2-3.1 .6-3.9-.4-3.4 .7-2.8-1.3-3.7 .4-3.5-.8-.2 4.7-.8 2.9 1 3.6-1.1 4.4-.8 3.2 .1 4.3 .1 3.2-.6 4.3 .1 3.7-.9 3.9 .6 4.3-.2 4.2-.2 2.8-.3 4-.2 4.5 .4 3.5-.2 3.1 .2 3.9-1 4.7-.9 2.9 .3 3.8-.5 4.3-.1 3.7 .1 4 .3 4.3-4.7-3-3.1-2-3-3.2-1.4-4.1-2.7-3-2.1-4.1-3.2-4-2.6-2.2-.5-4.5-3.2-3.5-1.9-3.5-2.7-3.5-1.7-3.5-3-4.2-2.2-3.3-2.5-2.7-2-4.5-2.1-3.1-2.9-3.8-2.1-3.2-2.8-3.5-1.3-4.3-3.4-3.6-1.4-4-2.5-2.3-2.6-4.4-1.5-3.2 2.9 .8 3 1.2 3.8 .9 2.7 .5 4.2 1.2 3.3 1.4 2.7 1.1 5-2 4.4-1.2 4.8-1.3 4.3-2 4.6-1.5 4.6-2.2 .2 2.6-.3 4.4-.7 2.5-.1 3.4 1.1 2.7-.5 2.8 0 3.3-.2 3.2 .8 3.5 .2 2.9-.5 3.2 .8 2.9 1.1 3-.9 3.1 .4 3.1 .2 3.6 .2 2.8 .3 2.8 .1 3.2 .1 3.7 0 2.4-.1 2.8-.2 4 .4 2.7 .3 2.5-.6-2.5-.3-4-.8-2.9 0-2.7-.6-4.5 .1-2.2-1.3-4.1 .6-3-1.1-2.6-1-4.1-.6-3-.2-3.5-.2-2.9-.6-3.7-.8-3.7-.6-3.2-.9-2.9 .7-3.3-.6-3.8-.3-3.6-.4-3.1-4.8 0-3.7-1.3-4.9-.7-4.8-.9-3.9-1.2-3.9-.7-4-1.3-4.9-.5-4.2-.8 2.3 4.3 1.3 3.7 3.1 4.4 2.1 5 2 3.6 3 4.4 2 4.8 2.8 4.1 2.5 4 1.1 3.8 3.1 4.7 1.8 4.1 3.1 4.5 2.4 4.2 2 4.1 .8 4.1 2.7 5.5 1.8 3.8 2.5 4.5 2.6 4 2.5 4.4 4.2 .8 4.4 1.1 4.8 .4 5.3 1 5.4 .5 3.9 .1 6.3 1-6.2-1-4.2-1.6-5-.7-3.3 .9-4.9 .6-2.9-1-5.2 .8-2.6-.3-5 1.1-3.4-.9-3.9 .7-3.3 1-4.5 .4-4 .5-4 .2 4.3-.3 4-.4 3.9-.1 3.9 .5 4.3-.3 4 .6 4.5-.2 3.2 .1 4 .6-3.2-.5-3.7 .2-3 .7-4.6 0 3.4-.5 3.4-.2 2.8 .2 3.2 0 2.9-.9 3.1 .3 2.6-.1 1.1-3.4 .9-2.8 .8-2.7 1.1-3.1 .5-2.7 1.4-2.8 .6-2.6 1.6-3.4 .8-2.8-.4-3.1 .6-3.2 1.7-2.8 .4-2.5 1-3 .8-3 .5-2.5 1-3.7 .4-2.6 1.2-3.3 .4-2.9 1.9-2.5 .5-3.4 .6-2.5 1.5-2.9 .4-2.5 1-3.1 1-3.2 .5-3.4 .2-2.7 1.1-2.3 .3-4 1 4.4 .2 4.2 1.6 3.3 .8 3.3 .8 3.3 1.3 4.5 .9 3.1 .5 3.8 1.1 3.8 .7 4 .7 2.9 1.2 4.3 1.1 3.9 1.2 3.4 1.1 3.4 .4 3.6 1.9 3.3 .8 4.3 .2 3.4" fill="none" stroke="#f6be92" stroke-width="1.0" stroke-linejoin="round"/>
<path d="M551.8 266.2l3.6-3.9 2.7-4.1 2.2-4.2 3.7-3.1 2.9-4.7 2.8-3.3 2.9-3.8 3.3-3.9 3.5-4 3-4.5-.7 5.2 .2 4-.6 4.7 .2 3.5-1.1 5 .5 3.6-.8 5 1.1 3.4-.2 5.2-.1 3.4-.6 5 .6 3.9 .6 4.4-1.3 4.1 .3 4-1.4-2.6-1.8-2.7-2.5-2.3-1.5-3.1-2.1-2.7-2-3.7-1.6-2.1-2.4-3.8-1.6-2.2-1.5-3.4-1.9-3.4-1.8-2.3-2.1-3.2-1-3.1-2.3-2.6-2.1-2.4-1.3-3.7-2.2-2.8-1.9-2.9-2.2-2.9-1.3-2.1-2.9-3.5-3.5-1.4 .1 4.1 0 4.1 .4 3.5-.1 3.4-.6 4.1 1.5 4-.2 3.2 .6 4.2 .3 3.7 .8 3.8 .2 3.6 .2 4.5-.1 3.2 .4 4.1-.1 3.6 1.3 3.5-.8 5-.3 2.8 .8 3.8-.1 4.1 2-3.7 2.6-3.7 1.9-4.7 2.9-3.9 2.3-3.5 1.9-4 2.8-3.4 2.2-4.4 2.5-5 2.2-2.7 2.2-4.2 1.9-3.7 2.6-4.6 1.9-3.2 2.2-5 2.4-3.2 2.3-4.6-3.4-3.2-3.6-4.2-.6 4.3-1 4.2-1.1 5-1.4 4.1-.4 4.6-.4 3.9-1.7 4.7-.1 4.1-2.5 4.1-1.2 4.4 .1 4.5-1.7 4.2-.5 4.7-1.3 4.6-1.4 4.1-.6 4.3-.8 4.3-1.5 4.4-.2 4.9-1 4.5 4.5-.9 4.7-.1 4.8-.2 3.7 .2 4.7 .1 5 .5 4-.2 4.5 .4 4.2 .2 5.3-.3 3.8 .7 4.9-.1 4.6 .9 3.9-.3 4.4-.5 4.7-.6 4.7 .8 4.5-.7 4.7 .1 4.5 .1-4.4 .2-5.3-.3-4.6-.3-5.4-.1-4.4 0-5.7 .2-4.3 .3-5-.2-4.7 .7-4.8 .1 3.2 0 3.3 0 3.1-.1 4.2-.6 2.2-.2 4 .9 3.4-.4 3.3-.3 2.7-.9 3.9 .9 3.2 0 2.9 .1 3.2-.8 3.8 .6-4.7-.4-3.7 .9-4 .1-4.1 .2-4.1-.4-3.8 1-3.8 .5 4.2 .4 5.5-1.3 4.7 .6 4.6-.6 5.1 0 4.4-1.2 5.2-.6-3.1 .4-3.2-.1-2.8 .4-2.8-.6-4.4 .1-2.1-.1-3.8-.2-3.1 .6-1.8-.5-4-.3-2.8-.3-3.1 0-3.2-.2-3-.5 1.2-2.7 .5-3.2 1.1-3 .1-3 1-3 1-2.7 1-3 .6-3.3 .7-3.2 .8-2.2 1.1-3 .7-2.9 1-2.8 .9-3.5 .3-2.4 1.4-3.3 1-2.6 1-3.4 .9-2.6 1.3-2.6 1.1-3.3 .2-3.3 2-2.5 .5-3.9-.1-2.2 1.5-2.7 .6-3.5 .7-2.8 1.2-3.3 0-3.7-.8 5.8-.7 4.6-.2 4.7-1.1 3.9-1.4 4.9-.4 4.4-.8 4.1-1.1 4.3-1 5.1-.6 4.4-1 4.1-1 4.4-1.3 4.6-.5 4.9-.7 3.9-.7 5-.1 4.7-1.3 4-1.8 5.6 3.9 1.7 3.4 2.7 3.7 2.9 4.8 2.2 3.3 2.9 3.8 2.3-3.7 .1-4-.2-3.6-.5-4.6-.3-3.1 .4-3.1-.6-3.9 .5-3.7 .3-4.1-1-3.6 .4-2.8 1-4.3-.8-3.1 .8-3.2 .3-3.4 .4-3.8-.2-3 1.1-3.5-.5-2.5 .3-3.7 .5-3.8 .3-2.5 .3-4-.1-3.4 .5 4-.1 4.8-.5 3.4 .6 4.1-.5 4.7-.7 3.5 .2 4.2-.1 3.7-.3 4.9-.1 2.8 .5 4.4 .1 4 .4 3.9 .7 3.8-.5-3.8-.7-4.2-.6-4-.5-3.8-.5-4-1.2-1-4.4 0-4.2-.3-5 .2-4.4-.8-4.8 .4-4.5 .6-4 .6-4.7-.4-4.8 .4-4.8-.3-4.5-.2-5 .4-4.2-.4-4.8 .7-3.9-.4-4.7 0-4.6 .1-4.3 .1-4.7 .6-5.5-.5-3.9-3.7-.9-4.7 .5-4-1.6-4.5-.3-4-1-3.9-.6-4.5-.9-4.4-.2-4.5 0-3.6-1.3-4.4-.4-4.6-.2 3.4 1.5 3.8 0 3.4 .1 3.3 1 2.7 0 4.1 .1 3 .6 3.1 1.5 4.2-.4 2.8 .9 3.4 .2 3.1 .9 3.9-.3 .6 6 .6 4.2 .4 5.5 .8 4.8 .1 5.1-.7 4.9 1.1 4.5 1.2 4.6 0 5.6 1 5.4 .4 4.9 .1 5.1 .9 5.1-.4 4.9 .4 4.4-.1 5.6 .5 4.9 4.8 .9 5.3-.2 4.3 .9 5.6 1-3.7 .6-2.6 .1-4.2 .3-2.7 .4-2.5 .8-3.2 .7-2.3 .3-3.3 .7-3.7 .3-2.6 .5-2.5 .4-3.1-.4-2.9 .7-3.7 .3 3.4-.3 3.5 .7 3.4 .7 3.2 0 3.8 .3 2.9 .1 3.5 0 3.3 .7 3.4-.8-3.8 .8-4.1-.8-3.4 1.2-3.7-1.2-3.7 .7 3.6-1.1 3.4-1 3.4-.6 3.2-1 3 .1 3.9-1.1 3.2-.8 3.4-.3 .6-4.5 .9-3 .7-3.1-.1-3.2 .2-3.5 .6-3.9 .5-3.2 .4-3.3 1.2-3.2-.2-3.9 1.4-3.8 .2-2.7 .5-3.7 1.1-3.2 .5-3.4 .7-3.6 .4-3.1 1.5-3.4 0-3.2 1.7-2.9 .9-3.6-.1-4.2 0-3.3 .3-3.2 1.5-3.4 .4-2.9-3.3-1.4-3.5 .4-2.6-.8-3.2-.4-2.7-.5 .1 4-.1 5-.5 4.5-.1 4.2-.5 3.7 0 4.4 .8 4.3-.4 4.8-.4 2.6 .6 5.4-2.1 4.3 1.6 4.7-.3 4.4 0 4.3 .2 4.2 .2 4-.1 4-.2 4.5-.5 4.1 .4 1.6 .1 .4 .1 2-.3 .6-4.5 .5-4.5 1.1-3.7 .8-4.5 .6-4.5 .7-3.9 1.3-4.4 .3-4.4-.2-3.3 1-4.4 .9 3.5 0 2.6 1.1 3-.7 3.5-1.2 3.2 .9 2.5-.6 4-.6 3.1 .7 2.9-1.2 2.6 0 3.3-.2 3.6 .5 2.7-1.3 2.6 .5 1.5-3.8 .6-3.3 2.2-3 1.2-3.9 1.9-3.1 1.8-1.9 1.6-3.1 2.3-4 1.9-2.8 1.3-3.1 1.6-3 2.1-3.1 1.2-2.5 1.9-3.9 1.9-3.4 1-2 1.8-3.8 1.7-3.4 1.2-3 1.9-3.1 1.4-2.7 1.6-3.1 2.7-3.3 1.2-3 1.1-2.7 2.9-3.5 1.5-3.4 1.7-3.1 .9-3.3 .6 3.7-.2 4 .1 3.9-.8 3.2 .6 3.4-.7 3.1-.4 4.1 .4 3.8-.5 3.4-.2 3.7 .7 3.2-.3 3.6 .7 3.8-1 4.1 .5 3.1 0 4.1 .2 2.5-.3 4.2-.8 3.4 .9 3.6-1 3.5-.1 3.8 0 3.2-.4 3.7 .3 4-.7 3.3 .3 3.3-4.9 .7-3.1-.2-5.9 .8-3.8-.6-3.7 1-4.5 0-4-.4-4.7 1.3-4.5 0-2.8-.1-4.8 .5-3.5 1.4-3.4 .3-3.9 .1-3.9 1.1-3.9 .5-3.4 .1-3.8 1.2-3.7-.1-4.4 .6-2.9 1.2-4.3-.4 3.8-1.3 3.2-1.3 3.4-.7 4.6-1.7 3.5-.4 3.2-2.5 4.3-.9 4.4-.6 4-1.4 3.7-1.2 3.8-1.4 3.2-1.4 4.3-1.2 .1-4.4 0-3.4 .8-5.4-1-3.3 .4-4.4-.3-3.9 .3-4.2-.6-4.2 .2-4.1 .3-4.1-.4-4.2-.4-3.3 .7-4.6 .2-4.2-.1-3.8-.2-3.3 .8-4.8-.3-4.9-.2-3.1-.7-4 .4-4.6 0-3.8-.3 4.6-.3 3.6-.2 4.7-.3 4.3 .6 4.2-.1 3.8-.3 4.3-.6 4.4 .1 4.9-.7 3.7 .7 3.9-.9 4.6-.7 3.9 .6 4.5-.3 3.7-.6 4.4 .3 4-.6 4.5-.2 4.9-.2 3.3 .4 4.5 3.5 0-4.5-.6-6.4 .2-4 0-5.7 .8-1.5-4.8" fill="none" stroke="#f6be92" stroke-width="1.0" stroke-linejoin="round"/>
<path d="M628.9 257.2l.2-2.9 .8-3.6-.3-3.1-.6-3.1 .7-2.8 .4-3.4-.3-3-.1-2.7 .1-3.2-2.8-1.7-2.6-.9-2.9-.8-3.2-.2-3.6-.2-3-1.1-2.5-.5-3.8-.3 5.4 .4 5 .3 4.1 .2 4.8 .2 4.8 .4 4.6 .2 4.9-.1 4.4 0 4.5 1.1 3-.8-4.7 .1-5.1-.1-4.7 .2-5.1 .6-3.7-.2-5.2 .6-4.7-.2-5.7 .6-3.9-.3 1.8 .5 3.4 1.2-3.1-.7-3.5-.5 3.7 .2 3.8-.4 3.7-.3 3.8 .8 3.7-.6 4 .8 3.6-.3 3.4 .9 3.6 .2 4-.1 4 .9 2.2-2.8 3.3-2.9-1.5 2.6-2.1 4.2-.9 2.2-1.3 3.8-1.7 2.7-1.4 3.5-2 2.1-1.3 3.6-1.1 3.1-1 3.9-1.6 2.6-1.6 3.2-1.8 3.1-1.9 2.7-1.3 4-.7 2.6-2.2 2.4-.8 3.4-1 3.3-1.9 3.2-1.9 2.7-2.1 2.8-1.8 3.2-.4 3.1-2.2 3.5-1 2.9-1.4 3.5-2.1 2.1-.8 4-3.8 .9-3.6-.1-2.9 .6-3.8 .8-3.2-.2-2.7 .1-4.6 0-3.9 1.2 .5-3.9-.4-2.8-.5-3.4 .3-4.1-.5-3.7-.5-2.8 .1-4.1-.7-3.4-.3-2.8-.6-4.3-.8-2.2 .4-5.1 .4-3.9 .2-4.3 .1-3.8 .3-4.7 1.2-4.3-.1-4.5 .5-4.7 1.2-3.4-.2-4.3 .2-4.6-1 3.5-2.2 3.1-2.6 3.1-1.6 2.7-2.7 3.5-1.4 3.7-2.3 2.7-3.2 3.7-1.6 3-1.9 2.9-2.1 3.5-2.2 3-2.2 3.7-1.9 2.7-2.6 3.3-1.8 3.3-2.1 2.8-2.4 3.3-2.7 3.7-1.9 2.3-2.3 3.7-2.8 3.2-1.4 2.5-1.1-2.2-.3-3.8-.3-1.9-1.8-3.8-.5-3.2-.9-3.2-.1-3.1-.1-3.2-.2-2.9 0-3.6 .5-2.5-.3-3.7-.1-2.8 0-2.9 .1-3.4-.2-2.9-.4-2.9 .7-2.7-.4-2.3 .8-2.3-.8-1.2 .6-1.8 .1-.6-.7 2.5 1.1 3-.3 3.9 .9 3.2-.7 3.4-.4 3.3 0 3.1 .8 4 .4 3.1 .5 3.1 .5 3.5-.6 3.1 .1 2.8 .9 3.2-.1 3.3-.2 3.4 0 2.7 .2 3.4 .5 3.5 .7 3.7 2-3.3 2.3-2.8 1.7-3.5 3.9-2.6 2.1-3.1 2.3-2.5 2.6-3.9 1.9-2.8 2.7-3 2.1-3.1 3-3.3 1.5-3.3 2.5-2.6 2.9-2.6 2.4-3.7 3-2.9 2.4-2.9 2.3-2.8 2-3.5 2.2-2.5 2.9-3.4 1.7-3.3-1.4 3.1-1.9 3-2.6 2.8-1.8 2.9-1.4 3.1-2.3 3.4-1.8 3.7-2.1 3.1-2.2 2.1-1.6 4-1.7 2.9-2.2 3-2.2 3-1.6 2.9-2.2 2.8-1.6 3.4-2.4 3.4-.8 2.8-2.9 2.1-1.3 3.8-2.5 3.4-1.5 2.8-2.2 3.1-2.1 3.1-1.5 3.5 4-.6 4.8 0 4.1 .1 4.6-.2 3.7 .1 4.9-.4 4.2-.1 4.2 .7 4.7-.7 3.8 .4 4.6 .4 5.1-.5 4-.3 4.3 1.2 4.5-.8 4.3 .5 4.5-.9 3.9 0 4.9-1.5 3.7 .7 4.3-.1 5.3-.2 3.9 .9-3.9-.1-2.7 .6-4.4 .5-3.8 .9-3.3 .5-3.7 .2-3.3 1.2-4 .2-4.1 .3-3.2 1.2-3.8-.3-4 1.3-3.1 1-4.1-.3-3.4 .1-2.5 .8-5.3 .8-3.2 .6-4.9 1.7-3.4 1.1-4.5 1.6 4.9 .9 4.6-1.1 5 .7 4.3-.9 5.1 .6 4.3 .6 4.4 .1 5.5 .4 4-.3-2.6-2.3-2.8-2.6-2.7-2.5-2.5-3.6-2.3-2.5 .3-3.7-.9-4 .2-3.7-.5-3.9 1.2-4.1-.1-3.8-.7-4.1 .2-3.1-.3-4.1-.1-4.7-.6-2.7-.2-3.8 .5-4 .1-3.9 0-2.9 0-4.1 .4-4.6-.8-3.7 .5-3.9 .8-3-.3-4.5-.7-3.3-4-.9-1.9-1-3.4-.9-3.7 .4-2.6-.6-2.7-.6-3-.3-3.7 .1-2.8-1-3.3-.6-3.2 .2-2.7-.1-3.5-1.5-3.3-.2-.7 2.9-.1 3.6 .3 3.1-.6 3 0 2.9-.8 3.1-.6 3.8 0 3.1-.2 3.5-.3 3.2 0 3.3-.5 2.8-.7 2.9-.1 2.8-1.1 3.4 .2 2.9-.7 3.7-.3 3.2 .4 3.2 .1 3.1-.4 3.2-.3 3.2-.6 2.9 .9 3.8-.9 3.1-.6 2.9-.8 2.9-1 3.1 .3 3.7 0 3 3.5-.5 3.6-.1 2.5-.7 4 .7 3.8-.2 3 .7 3.6-.1 4.1 .6 2.7 0 3.5 0 3.1 .5 4.2-.9 2.8-.7 2.8 .6 3.7 .2 3.7-.2 3.5-.3 3.1 .4 3.5-.7 3.1 1 3.4-.6 3.1-.2 4.5-.1 2.2-.3 3.7 0 3.3 .6 4.1-.5 3.6 1.1 2.8 .5 3.3-.3 2.9 .6 3.7-1-3.1 .6-3 0-4.2-.5-3.1-.5-3.1 .1-3.5-.8-2.4 .4-4-1.2-3.9-.1-2.8 .6-3.8-.9-2.8-.4-3.9 .4-2.7-.2-3.9-.4-3.5 .4-3.5-1.8-3 .1-3.7-.6-3.5-.5-3.2 .1-3.1 0-2.8-.5-3.4 .5-3.3-.6 2.7 .7 3.8-.3 2.9 .4 3.1 .5 2.9 .5 4 1.1 2.7-.4-.6-2.9-1.9-3.2-.8-3.1-1.4-3.2-1-3-1.8-3-1.4-2.5-.3-3.4-1.9-3.3-1.8-2.6-.7-2.8-1.8-3-1.4-2.9-1.2-2.7-1.4-3.6-1.7-3.4-1.4-2.7-1.2-2.6-1.4-3.5-1.5-2.9-.9-3.4-1.1-2.6-1.1-4-2.2-2.4 .7 3.5 0 3.7 .9 3.8-.6 2.8 .2 3.8 0 3.2 .7 3.8 .4 3.1-.5 4.1 .7 3.7 .3 2.4 .4 3.8 .2 3.4 .3 3.7 .8 2.8-1.4-3.8-1.3-3.9-.3-5.2-1.8-4.2-.4-4.1-.6-4.9-.8-4.5-1.5-4.7-.6-3.5-1-4.8-.9-4.3-1.3-4.9-.5-4.4-.4-4.6-1.5-3.9-.4-5 4.9 .5 5-.7 4.5 0 5.4-.3 5.1 .5 4.8-1 4.5 .5 5.2-.8 5.1 .1 .5 5.3-.4 4.9 .2 4.4 .5 5.5-.7 5.2-.7 5.1-.5 4.3 .5 5-.2 5.8-.3 4.5 .6 4.9 .2 4.5 .1 4.9 0 5.2-.3 4.7 .3 4.8-.4 5.2 .1 5.5 .5 5.3 4.1-.5 5.1 1.1 5.1 .4 5.4 1.7 4.4 0 4.6 .3 5 1.2 4.3-.2-3.7 0-5.3-.4-3.8 .2-6.4 0-3.8-.1 3.9-.8 4.3-1.3 4.3 .8 4.3-.3 4.3-.5-3.1 .5-3.5-1.8-2.9-1.4-3.8-.3-3.6-.1-3.1-1.1-3.6-.1-3.1-.2-3.3-1.9-4 .2-3 .5-3-.5-2.8 .9-3.5 .6-3 .5-3.1 .8-2.9 .1-3 .4 4.3-.1 2.6 .4 4.2 .7 4.2-.1 3.7 1.4 3.3 .4 3.4 1 4.2-.1-.1 3.9-2.8 .2-1.7 2.1-3.3 2.2 4.3 .5 4.7 1.5 3.5 1.2 3.2-.6 3.4-.2 3.5 0 3.7-.8 3.3 .2 3.7-1.1 3-1.1 3.2-.1 3.7-.7 3.5 .4 3.5-.7 3.7-.6 3.3 .7 2.9-.9-4.4-.4-4.7-.5-4.5 0-5.3-.2-4.8-1.2-4.8 .7-6.4 .2-4.1-.8-4.4 .9-4.7-.2-5 1-5 .3-5.4-1.2-4.4 .5-4.7-.1-5.3-.1-5.1-.4-4.6 .5-5.1-.8-4.7-.2-5.1 .5 3.2-.1 3.6-.9 3.6 .7 2.6-.3 3.4 .3 3.2-.8 3.3 .5 3-.5 3.6-.4 3.4-.4 2.8 0" fill="none" stroke="#f6be92" stroke-width="1.0" stroke-linejoin="round"/>
<path d="M613.1 324l-4.1 0-4.7-.4-4.6 1.7 4.5-2.7 3.8-3.1 2.1-5.2 2.1-3.5 1.9-5.1 3.1-4 1.4-4.9 2.5-3.6 1.8-5.3 2.4-3.6 1.4-4.7 2.7-4 1.4-5.4 2.2-4.4 2-3.7 3.3-5 2.1-4.4 1.8-4.9 1.6-3.9 2.9-4.6 2.5-4.5-1.1 4.7-2.5 4.4-1.9 4.4-2.7 3.8-2 4.1-2.9 3.7-1.6 4.5-2 4.1-3 4.8-2 4-1.8 3.3-2.6 3.7-2.7 4.4-1.4 4.6-2.3 4.3-2.3 3.7-3 4-2.1 3.9-2.4 5 4.3 2.3 4.4 2.9 4 2.5 3.3 2.7 3.9 2-3.3 .1-4 .9-3.6 1.1-4.5 .2-5 .6-3.4 .5-3.5 .5-3.5 .8-4.4 1.2 5.2 .4 3.8 .4-2.1-2.4-2.6-2.1-1.9-2.3-2.6-1.8-1.9-2.3-1.6-2.5-.8-3.1-.9-3.4-.1-3.3-.9-2.5-1.1-3.5-.2-2.9-.8-3.9 0-2.9-2-2.9-.6-2.5-.7-3.5-.7-2.8 0-3.5-1.4-3.2-.6-3.7-.7-2.3-1.5-3.7-.3-2.2-.7-3.6-1.3-2.4 .4-3.2-.7-3.3-1.5-3.3-.8-2.7-1.5-3-.5-3.8 0-2.5-.7-3.1-.3-3.1 3.8-.8 4.2-1.2 4.6-.5 3.6-1-1.1 2.5-2.5 3.1-1.2 1.7-1.5 2.8-2.8 2.9-1.7 3.3-1.4 2.4-.5 2.1-3.1 2.4-1.4 3-.8 3.3-2.1 1.5-1.9 3.7-.9 2.7-2.4 2.4-1.5 2.2-1.1 3.7-2.5 1.8-1.8 3.2-2.3 2.8-1.4 1.6-.9 3.6-2.7 1.5-1.8 3.5-1.3 1.9-2 2.9-2.3 2.5-1.4 3.1-1.2 2.9-.5-3.7-.3-3.1-.2-2.6 .1-3.7-.4-3.2-.1-2.6-.6-3.5 1.2-3-.1-3.1-.1-2.8 .3-3.8-.6-2.8 .5-3.6 0-3 .5-2.4-.3-3.9 .5-3.1-.7-2.6-.4-3.6 .4-3.4-.2-2.8 .1-2.8-.9-3.5 .9-3.8 3.6-.6 3 .7 3.1-.6 3-1.2 3.4-.7 3.9-.2 3.3-.4 2.8-.7 3.3-.1 3.1-.1 3.7 .1 3.5-1.1 3.3 .6-4.8 .1-4.8-.2-5.2 0-4.8 .4-4.7-1-5.6 .5-4.6-.5-4.8 .8-4.9-.9 .9 3.1 .2 3.5 .5 3.1-.9 3 1.4 3.9 0 2.9 0 2.3 .9 3.8-.2 2.8 .2 3.1 .8 4-.1 3 .8 2.8 .3 2.6 1.1 4.3 .4 2.9 .1 3.1 .6 3.3 .4 3.6 .9 2.8 .5 3.5 .8 2.3-.2 3.6 .3 3 1.1 3.6 .9 3.5 .2 2.5 .1 3.9-.1 3 2.6 2.9 4.5-.2 4.6-.2 4.3-.1 4.2-1.5 5 0 3.9-.4 4.8 .6 4.3-.4 4.1-.4 4.4-.8-1.6 4.2-2.2-4.4-1.6-3.1-2.4-3.6-.6-4.1-1.6-3.4-1.9-4.1-1-3.4-2.1-3.3-1.1-3.4-1.2-3.7-2.3-3.5-.5-4-1.9-4-1.8-4.3-1.1-2.3-1.7-4-1.4-3.8-.9-3.8-1.7-3.7-1.6-3.4-1.7-4-1.7-3.4-2.6-3.5-.5-4.2-4-1.1-3.9-1.5-3.9-.9 2.6 3.5 1.3 4.3 2 4 1.7 4 2.6 4.3 1.7 3.7 1.3 4.7 2.5 3.5 2.3 4.5 2.9 3.9 1 4.3 1.6 3.9 2.4 4.7 1.3 3.1 2.6 4.7 1.7 3.5 3.4 4.6 0 4.5 2.2 3.5 2 4.1 2.2 4.6 1.7 3.7 5.1-.7 4.7 .5 4.2-.5 4.1 .2 5.4-.7 3.3 1.9 5.6 1.3 3.3 1.9 4.7 1.3 4.1 .5 4.5 1 4.2 2.1-4.9-1-4.3-.6-4.6 0-5.5-.5-4.4-1.5-5.1 .2-4.4 .3-5.1-.9-4.5-.4-4.8-.1-4.4-.4-5.1-.1-4.6-.5-5.1-1.2-4.5 1.2-5-1-4.9 .8-4.7-.4-4.1-.7-4.8 0-5.4-.4 4.6 .1 2.1-1.1 3.7 .4 4.3-.4 3.2 0 3.8 0 3.4-1.1 3.5 .7 3.1-.5 3.7-.7 3.6 .2 3.4-.1 3.8 .3 3-1.1-1.7-2.1-.8-3.6-.7-2.8-1.6-2.4-.3-2.8-1.5-3.4-.9-3.2-1.5-2.4-1.6-3-.6-2.7-1.2-3.6-1.3-3.3-1-1.4-.6-3.5-1.3-3.3-1.3-3.4-.8-2.5-1.2-3.2-.5-2.7-.6-2.9-1.6-2.8-1.6-3-.4-3-.4-2.8-1-3.1-1.4-3.1-.8-2.7-.5-3.1-.9-3.3-1.1-3.2 4.3 .8 3.2 1.3 3.8 .3 4.8 1.5 2.9 .6 4.2 1 4.4 .1-3.7 .2-4.5-1.6-4.2-.2-4.7-.2-3.1-1.8-3.9-.8-4.5-.8-4.3-1.4-3.6 .2-4-1.3-4.1-.2 2.2 2.7 1.4 3.7 1.8 4.4 2 3.7 2.8 3.4 1.2 3.2 2.8 3.4 .8 4.4 1 3.7 2.5 3.9 1.9 4.3 2 2.7 2 3.9 1.6 3.9 1.3 3.8 1.4 3.6 1.9 4.2 2.1 3.1 1.1 3.7 1.8 4.3 1.9 3.6 1.5 3.7 1.2 3.4 2.5 3.5 1.6 4.7 3.9-.7 4.1-.6-4.5 1-5.3-.8-4.7 1.8-5.2 .7-5 .5-4.4 .1-5.8 .6 3.6 1.1 4.4 .2 3.6 .5 3.2 .2 3.3 .4 3.1 .5 4.1 .2-1.7-2.3-1.6-3.6-1.3-3.9-1.4-2.5-1.7-3.2-1.9-3.2-1.1-3.7-2.2-2.8-1.4-3.3-.9-2.6-2.5-3.7-1-3.2-2.3-3.5-1.7-3.2-1.9-2.3-.8-3.8-2.4-2.8-1.7-3.7-1.2-2.8-1.6-3.6-2.2-2.8-2-3.3-1.5-3.7-.7-2.9-2.2-4-1.3-2.2-2.4-3.9-1.4-3-1.6-3.5 2.6 4.6 2 4 2 3.2 2.7 4.1 1.7 4.2 2.4 3.2 2.3 3.1 2.2 4.5 2.5 3.7 2 4.2 2.3 3.1 2.3 4.4 1.9 3.6 2.6 3.8 2 3.6 2.2 4.1 1.9 3.3 3 3.9 1.9 3.6 2.3 4.3 2.8 3.3 2 3.6 3.3 .9 4.5 .8 5.1-.2 3.6 1.6 5.2-.1 3.8 .8 1.3 4.7-4.3 .2-4.6 .1-4.7 1-4.7 0-3.7-.2-5 .1 4.9-.9 4.9-1.6 4.8-1 5.3-.9 4-1 2.6-4.8 1.7-4.3 1.8-4.7 1.8-3.9 3.2-5.4 .7-4 2.7-4.6 2.3-4.8 2.7-4.1 1.7-5.1 1.5-4.4 2.2-3.9 1.9-4.6 3.1-4.2 2.1-4.1 3.4-4.9 1.2-4 3-5.4 1.9-3 1.9-4.3-2.9-2.9-.2 3.3-.7 4.9 1 2.9-.1 4-.6 4.2 .2 3.7 .3 3.5-.1 4.4-.3 4.7 .1 3.8-.3 3.2-.3 4.7 .9 3.7-1 3.9 1.3 3.8-.1 4.3-.4 4-.1 3.9 .1 3.8-.4 4-.2 3.5 .3 4.5 .6 4.3-.7 3.9-2.7-.9-3.2-.3-3 0-3.4-.4-3.7-.5-3-.5-3.1-.4-3.4 .1-3.4-1.1-2.7 .1-2.6 .4-4-.7-3.5 0-2.9-.4-2.8-.3-4.1-.5 6.5-1.1-.8-4.3 2-4.6 1.3-5 .1-4.4 .9-4.4 1-4.8 .4-4.3 1.3-5.1 .3-4.1 .5-5.1 .8-5.2 1.5-4.1 1.5-4.9 .6-5.3 .9-3.7 1.3-5 .2-4.2 .2 5.3-.8 4-.5 4.6-1.7 4.9-1.4 4.7-.6 4.4-1 4.9-.7 3.8-.7 5.9-1.1 4.9-.7 4.5-1.1 4.9-.5 4.7 0 5-1.2 4.5-1 4.6 .5 .8 1-3.2 1.9-3.2 1.7-3 1.9-2.7 1.5-3.3 2.4-2.7 1.1-2.4 1.8-4.2 2.9-2.7 1.3-3 1.7-3.4 1.9-1.4 2.6-3.8 2-1.9 2.3-3.5 1.2-3.3 2.4-2.2 2.5-3.6 1.3-2.8 1.2-3.3 2.5-2.8 1.8-4 1.5-2 2.5-2.7 .8-3.5 2.5-3.5-3.8 0-4.7-1.2-3.7-.9" fill="none" stroke="#f6be92" stroke-width="1.0" stroke-linejoin="round"/>
<path d="M552.6 316.8l4.1 .1 2.5 .6 4.2 0 4.1 .3 2.9-.9 4.4 2 3.6 0 4.4-.3 3.5 .2 2.9 .5 3.6 .2 4.2 .8 3.5 .2 3.6 .7 3.9 .2 3.2 .2-4-.1-4.3 .3-4.6-.8-3.9 0-4.3-.6-4.3 .5 3 1.4 4.9 1.1 3.2-1.5 4.4-1.7 4.2-2.4 1.9-4.9 1.7-3.3 2.6-3.9 1.9-4.1 2.3-4.1 2-4.5 2.5-2.7 2.3-4.4 2.7-3.6 1.7-3.9 2.1-3.6 1.6-3.9 2.6-4.6 2.1-4.2 2.2-3 2.7-4.5 1.5-2.9 1.4-4.4 2.5-4.2 2.7-4.1 1.5-2.9 3-4.5 1.2-3.8 1 3.4-.5 4.2 .4 4.4-.4 3.8 .5 4.8-.4 2.5-.5 5.1 .5 3.8 .2 4.4 .1 3 .4 4.7-.2 3.6-.9 5 1 3.7-.4 4 .2 3.4-.4 4.3 .5 4.2-.4 3.2-.3 4.6 .6 3-.6-4-.6-2.5 .4-3.7-1-3.2 .1-4-.5-2.8-.1-2.5-1-4.1-.3-3.1-.4-4 0-2.8-.5-3.5 .3-3.7-1-3.7-1-2.8 .1-3.7-.4-2.8-.4-3.3-.9-3.1-.9-3.6-.2-2.9-.1-4.1-3.6-2.2-1.6-1.5-2.3-2.1-2.6-1.9-2.8-2 4-.1 3.9 .9 4.4-.6 1.6-3.2-.1 3.8 1.1 3.4-.4 3.3-.6 3.2 .5 3.9-.8 3.6-.5 3.2-.5 3.7 0 3.3 .4 3.7 .1 3.5 .3 3.2-.3 3.5-1 3.5 .1 4 .2 2.9-1.2 3.6 .1 3.4-.6 4.2-.4 2.6 0 3.8 0 3 .1 3.5-1.5 3.5 .3 3.5-.5 3.1 1 3.4-1.2 4.3-1.3 2.6-3.1 .2-3.1-.4-3.2 .5-3.8 .2-3.2-.6-3.2 1.1-2.9 .1-3.3-.4-2.1-2.8-2-3.7-2.2-2.3 .9-3.1 1.6-3.1 1.9-3.4 1.1-3.5 1.2-3.3 2-3.2 2.5-2.6 1.5-4.1 1.5-3.5 1.5-3.1 1.1-3.2 1.1-3 1.6-3.1 1.8-3.9 1.4-3.7 1.6-3 1.5-3.7 1.7-2.8 .9-4.2 1.3-3 .8-4 2.2-2.8 1.8-3.8 1.1-2.6 .8-3.6 1.9-3.8 .8-3.2 3.4 .6-2.1 3.5-.9 3.2-1.6 3.6-2.3 3.1-1.8 3.4-1.8 4.3-1.9 2.7-1.1 3.8-1.1 2.8-2.7 3.1-1.6 3.9-2.2 4.2-1.3 2.5-1.2 3.1-2.1 3.7-1 3.4-1.6 3.5-1.4 2.9-2.2 4.2-1.8 2.6-1.1 3.7-2.4 3.3-1.5 3.8-1.5 3.3-2.3 3.2 3.9 .8 3.4 0 3.6 1.7 4.2 1 3.2 .7 3.4 .7 4 .9 3.7 .2 3.8 1.2 3.3 .9 3.6 1.9-4.5 .1-4.3-.7-4.4 .4-4.4 .2-4.7-.2-4.6-.1-3.4 .1-5 1-4.4-.7-4.9 .2-4.1 .2-4.5 .6-4.3-.6-2.6-4.5-2.1-3.8-3.3-3.1-2.1-3.7-2.1-3.2-2.3-4.5-2.4-3.9-1.2-3.5-3.1-3.8-2.2-4.1-2.4-2.4-2.6-5.2-2-3.5-1.7-3.7-3.5-2.8-3.1-3.7-2-3.8-3.2-4-1.7-3.7-2.3-4-3-3.9-1.6-3.1-2.1-4-2.2-4.2-1.9-4.7-.4 4.8 .5 4.3-1 4.3-.9 4 .6 4.8-1.2 4.7 .8 4.7-.9 3.9 .5 4.4-.8 4.5-.1 4.5-.6 4.4 .5 4.3 0 3.8-.5 5.2 .1 4.2-.1-4.2-.1-4.4 .4-4.4 0-4.6-.3-3.9 .8-4.2 0-4.9-.4-4.6-.7-3.9 .7-4.5-.2-5.1 .2-3.5-.3-4.6 .2-4.5 .4-4.6 .7-3.9 2.4 2.2 2.2 3.8 1.4 3.1 2.8 3.4 2 4.2 1.9 3.1 1.7 3.5 2.3 3.1 2.3 3.7 2.2 3.4 1.7 3.3 1.8 3.6 2.6 3.9 2 2.7 1.5 3.3 2.5 4.5 2.1 3.2 2.3 3.2 1.5 4.8 2.2 2.2 1.5 4.1 2.5 2.4 1.1 4.8 2.6 3 1.8 3.8 2.5 2.8 4.1 .5 3.7 .7 4.5-.8 3.6 .4 4.2-.3 4.1-1.4 3.4-1.9 3.9-1.9 3.3-1.6 4.4-1.4 3.1-1.9 4.2-1.1 3.8-1.3 3.9-1.6 3.1-2.1 3.9-2 3.9-1.7 3.6-1.1-3.4 .7-3 1.7-3.8 1.6-3.5 1.2-2.9 1.8-3.9 .9-2.8 1.5-2.7 1.9-2.8 .8-3.2 1.3-4 1.9-2.6 2.2-3.8 .6-2.6 1.4-4.6 1.9-2.8 1.4-2.3 1.8-3.4 1.4-2.6 2.4-3.5 1.9-2.8 .6-3.7 2.6-2.5 1.6 3.1-1 2.9-2.6 3.1-1.6 4.3-2.6 2.7-2.5 3.8-1.2 2.9-2.7 3.8-1.6 1.6-3.7 1.8-2.9 2.2-3.7 1.6-3.6 1.5-3.1 1.6-3.8 2.3-3.4 1.5-2.9 1.7-2.9 2.4-4.4 .6-3.3 2.6-3.3 2.3-4.4 1.1-2.2 2.1-4 1.2-3.9 2.2-3.4 1.6-2.7 1.9-4.7 1.7-2.9 1.1-3.1 2.2-3.7 .6-3.9 1.7-3.5 2.4-3.3 1.3-4-3.9 0-3.8 .2-3.8 .6-3.2 .2-4.6-.1-3.6-.2-4.3 .3-4.1-.1-3.6 .2-4.2 .1-3.5 .9-3.1-1.1-.5 4.8-.3 3.7-.5 3.7-1 4.9 .7 3.1-.2 4.4-1.1 3.9 0 4.6 .7 3-.4 4.1-.6 4.4 .2 3.2-1.1 4.8 .9 3.3-.4 3.7-.2 3.2-.5 4.7 0 4-.5 4.1 .4 3.6-.8 4 1.9-5 1.5-3.9 .3-4.9 1.4-5.1-.1-4.2 1.6-5.6-.1-4.8 2.3-4.7 .9-4.4 .9-5.1 .9-5.3 1.7-4 .4-5.6 .8-4.1 .1 3.5-.1 4.4-1 2.5 .4 4-.5 4.2 0 3.4-.9 3.8-.2 3.7-.5 3.5 .2 3.8-.8 4.3-.4 3.8-.8 3.7 .1 3.7-.3 3.4-.5 3.7-1.1 3.3 .1 3.8-.2 3.5-1 4-1 4-2.2-2.1-4.1-1.7-.3-3 .6-3.7-.4-3.4 .3-4-1-3.9 .5-3.9 .1-3.1-.3-3.9-.1-3.3 .6-3.8-.5-3.7 1-3.9-.8-3.7 .9-3.7-.3-3.6-.1-3.9 0-3-.3-4.2 0-3.7 1.1-3.1-1.1-4.1-.2-3.3 .2-3.5 .7-4 3.2-.2 3.9-.9 3.8-.1 3.9-.2 3.3-.2 3.8-.5 3.2 .6 3.7-1.2 3 0 4.2-.4 3.6 0 3.2 .1 3.4-.1 3.8-.8-.1 2.5 .1 3.4 .1 3.8 .3 3.6-1.5 3.1 .5 3 .5 3.6-.3 3.2-.9 2.9 .5 3.6-.3 3.9-.7 2.5-.2 4 0 3.5 .1 2.9-.2 3.5-.3 3.1-.4 3-.4 3.9 .1 3 .1 4-.8 3-.7-4.5-.5-4.1-.7-4.3-1.3-4.1-.1-4.7-.3-4.1-.5-4.6-1.1-3.3-.6-4.7-.5-3.4-.5-4.9-.9-4.1-.6-3.5-2.4 2.6-.7 3.7-2.4 4.7-2.5 3.6-.6 3.6-2.4 3.8-1.4 3.8-2.6 4.3-1.5 3.6-1.8 4-1.6 3.2-1.2 4.3-1.9 3.2-2.2 4.2-1.1 3.8-1.6 4-1.7 3.3-2.4 4-1.8 4.1-3.9 .2-3.9 1.1-4 .4-4.4 .7-4.4-.1-4.2 .6-3.9 .4-5.1 .8-3 .5-5.5 .2-3.6 1-3.6 .6-4-.1-4.7 1.2-4.5 .9 4-.7 3.8-.5 3.3-1.3 3.1-.2 3.7-.7 2.9 .1 3.8-.3 2.9-.3 4 0 3.7-.2 2.5-.4 3.8-.7-1.5-2.6-1.5-3.7-1.1-3.2-2.2-3.1-1.5-2.6-1.7-3.4-1.1-2.8-1.6-3.5-2.1-3-.7-2.9-2.6-3.6-1.1-3.2-1.3-2.3-1.4-3.2-1.7-2.9-2.1-2.6-.7-3.6-1.7-3.6-1.2-2.5-1.8-2.9-1.6-3.8-.9-2.6-1.9-2.5-1.3-3.5-1.6-3.5-1.1-3.3-2.1-2.5-1.7-2.8-2-4-1-2.6-2.1-2.7 2.2 3.8 3.8 .3 4 .2" fill="none" stroke="#f6be92" stroke-width="1.0" stroke-linejoin="round"/>
<text x="197.99" y="22.00" font-size="15.6" font-weight="normal" textLength="97.82" lengthAdjust="spacingAndGlyphs" >10 kHz 80 dB</text>
<text x="20.92" y="155.70" font-size="15.6" font-weight="normal" textLength="123.99" lengthAdjust="spacingAndGlyphs" >Baseline (10 min)</text>
<text x="178.22" y="155.40" font-size="15.6" font-weight="normal" textLength="112.46" lengthAdjust="spacingAndGlyphs" >Pairing (10 min)</text>
<text x="326.96" y="21.70" font-size="15.6" font-weight="normal" textLength="196.64" lengthAdjust="spacingAndGlyphs" >pAAV-mDlx-ChR2-mCherry</text>
<text x="611.77" y="39.90" font-size="15.6" font-weight="normal" textLength="53.70" lengthAdjust="spacingAndGlyphs" >350 ms</text>
<text x="555.25" y="56.30" font-size="15.6" font-weight="normal" textLength="34.19" lengthAdjust="spacingAndGlyphs" >Tone</text>
<text x="536.41" y="81.30" font-size="15.6" font-weight="normal" textLength="53.29" lengthAdjust="spacingAndGlyphs" >Control</text>
<text x="507.51" y="104.20" font-size="15.6" font-weight="normal" textLength="81.22" lengthAdjust="spacingAndGlyphs" >Experiment</text>
<text x="186.90" y="210.00" font-size="15.6" font-weight="normal" textLength="53.50" lengthAdjust="spacingAndGlyphs" >Control</text>
<text x="473.72" y="209.90" font-size="15.6" font-weight="normal" textLength="80.50" lengthAdjust="spacingAndGlyphs" >Experiment</text>
<text x="167.18" y="421.50" font-size="15.6" font-weight="normal" textLength="69.44" lengthAdjust="spacingAndGlyphs" ><tspan font-style="italic">P</tspan> = 0.003</text>
<text x="106.91" y="653.60" font-size="15.6" font-weight="normal" textLength="61.64" lengthAdjust="spacingAndGlyphs" >Baseline</text>
<text x="260.21" y="653.40" font-size="15.6" font-weight="normal" textLength="50.28" lengthAdjust="spacingAndGlyphs" >Pairing</text>
<text x="504.97" y="458.00" font-size="15.6" font-weight="normal" textLength="61.55" lengthAdjust="spacingAndGlyphs" ><tspan font-style="italic">P</tspan> = 0.98</text>
<text x="426.61" y="653.30" font-size="15.6" font-weight="normal" textLength="61.95" lengthAdjust="spacingAndGlyphs" >Baseline</text>
<text x="581.80" y="653.10" font-size="15.6" font-weight="normal" textLength="50.59" lengthAdjust="spacingAndGlyphs" >Pairing</text>
<text x="0.45" y="17.60" font-size="22" font-weight="bold" textLength="11.50" lengthAdjust="spacingAndGlyphs" stroke="#111" stroke-width="0.9">a</text>
<text x="-0.08" y="212.60" font-size="22" font-weight="bold" textLength="14.13" lengthAdjust="spacingAndGlyphs" stroke="#111" stroke-width="0.9">b</text>
<text x="0.50" y="385.60" font-size="22" font-weight="bold" textLength="12.19" lengthAdjust="spacingAndGlyphs" stroke="#111" stroke-width="0.9">c</text>
<text x="35.40" y="389.60" font-size="15.6" font-weight="normal" textLength="22.62" lengthAdjust="spacingAndGlyphs" >1.0</text>
<text x="35.69" y="426.40" font-size="15.6" font-weight="normal" textLength="22.32" lengthAdjust="spacingAndGlyphs" >0.8</text>
<text x="35.69" y="463.10" font-size="15.6" font-weight="normal" textLength="22.32" lengthAdjust="spacingAndGlyphs" >0.6</text>
<text x="35.69" y="499.70" font-size="15.6" font-weight="normal" textLength="22.05" lengthAdjust="spacingAndGlyphs" >0.4</text>
<text x="35.69" y="536.40" font-size="15.6" font-weight="normal" textLength="22.32" lengthAdjust="spacingAndGlyphs" >0.2</text>
<text x="48.24" y="572.70" font-size="15.6" font-weight="normal" textLength="9.73" lengthAdjust="spacingAndGlyphs" >0</text>
<text x="26.33" y="609.40" font-size="15.6" font-weight="normal" textLength="31.69" lengthAdjust="spacingAndGlyphs" >−0.2</text>
<text x="18.1" y="565.28" font-size="15.6" textLength="121.09" lengthAdjust="spacingAndGlyphs" transform="rotate(-90 18.1 565.28)">Preference index</text>
</svg></body></html>
